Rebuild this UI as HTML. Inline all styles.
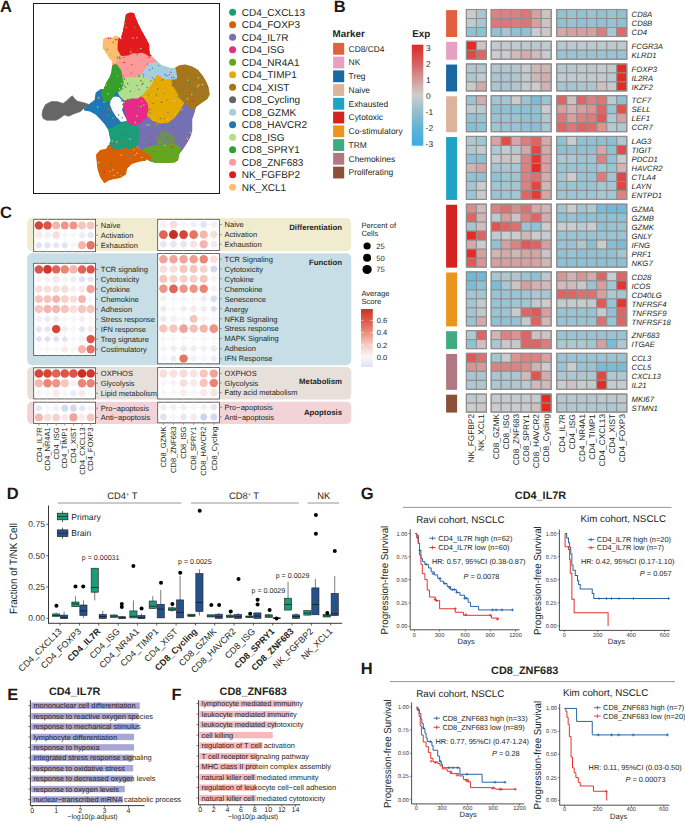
<!DOCTYPE html><html><head><meta charset="utf-8"><style>html,body{margin:0;padding:0;background:#fff;width:685px;height:824px;overflow:hidden}svg{display:block}text{font-family:"Liberation Sans",sans-serif;text-rendering:geometricPrecision}</style></head><body>
<svg width="685" height="824" viewBox="0 0 685 824">
<rect width="685" height="824" fill="#fff"/>
<text x="0.00" y="12.20" font-size="16.5" font-weight="bold" fill="#231815">A</text>
<text x="333.80" y="12.30" font-size="16.5" font-weight="bold" fill="#231815">B</text>
<text x="0.00" y="218.00" font-size="16.5" font-weight="bold" fill="#231815">C</text>
<text x="6.70" y="499.40" font-size="16.5" font-weight="bold" fill="#231815">D</text>
<text x="7.20" y="700.10" font-size="16.5" font-weight="bold" fill="#231815">E</text>
<text x="171.60" y="700.20" font-size="16.5" font-weight="bold" fill="#231815">F</text>
<text x="360.70" y="498.90" font-size="16.5" font-weight="bold" fill="#231815">G</text>
<text x="360.80" y="673.60" font-size="16.5" font-weight="bold" fill="#231815">H</text>
<rect x="33.5" y="3.5" width="186" height="190" fill="none" stroke="#231815" stroke-width="1"/>
<defs><clipPath id="umclip"><path d="M130,12.6 L134.1,12.9 L135.3,16.7 L138.2,23.7 L141.7,30.7 L146.4,38.9 L149.3,44.7 L149.3,49.4 L149.9,54 L155.7,59.9 L161.9,65.2 L168.9,67.5 L173.5,68.7 L179.4,65.2 L185.2,64.6 L192.2,66.4 L198.1,69.9 L202.7,75.7 L206.2,81.5 L208.6,87.4 L209.7,94.4 L207.4,99.1 L200.4,103.7 L195.7,107.2 L194.6,112.3 L192.2,119.3 L192.2,131 L189.9,138 L186.4,143.9 L181.7,150.9 L179.4,153.2 L178.2,160.2 L174.7,162.6 L168.9,163.1 L156,163.1 L150.2,161.4 L146.7,159 L145.7,160.5 L138.7,161.7 L131.7,164.1 L127,168.7 L125.9,174.6 L120,178.1 L113,179.2 L108.4,180.4 L104.3,183.3 L100.2,176.9 L97.8,169.9 L96.7,161.7 L96.1,154.7 L100.2,150 L106,148.9 L110.7,140.7 L109.5,136 L108.4,130.2 L105.1,124.4 L100.4,119.7 L95.7,115 L89.9,111.5 L84.1,110.4 L84.1,108 L89.9,103.4 L94.6,99.9 L95.7,92.8 L100.4,89.3 L103.7,88.9 L106,83 L109.5,77.2 L111.3,72.5 L112.5,61 L109.6,58.7 L106.7,54.1 L103.8,49.4 L102.6,44.7 L103.2,38.9 L106.7,37.1 L112.5,37.7 L115.4,35.4 L118.4,37.1 L121.9,40 L121.3,36.5 L123,30.7 L124.2,23.7 L125.4,16.7 L125.9,14.3 Z"/></clipPath></defs>
<g clip-path="url(#umclip)">
<path d="M134,126 L140,124 L147,118 L149,113 L156,115.4 L164,115.4 L170,114.2 L177,109.6 L182,102.6 L184,96.7 L191,106 L195.7,107.2 L194.6,112.3 L192.2,119.3 L192.2,131 L189.9,138 L186.4,143.9 L181.7,150.9 L179.4,153.2 L170,151 L160,149 L150,151 L145,150 L140,146 L136.4,140 L135.2,133 Z" fill="#7570b3" stroke="#7570b3" stroke-width="5" stroke-linejoin="round"/>
<path d="M141.1,153.5 L146.9,150 L155.1,147.7 L165,147.7 L172,146 L178,148 L179.4,153.2 L178.2,160.2 L174.7,162.6 L168.9,163.1 L156,163.1 L150.2,161.4 L146.7,159 L141,157 Z" fill="#66a61e" stroke="#66a61e" stroke-width="5" stroke-linejoin="round"/>
<path d="M163,131 L168,133 L174,138 L175,145 L168,148 L160,146 L156,140 Z" fill="#66a61e" stroke="#66a61e" stroke-width="2" stroke-linejoin="round" opacity="0.55"/>
<path d="M96.1,154.7 L100.2,150 L106,148.9 L113,145.4 L120,146.5 L127,145.4 L134.1,147.7 L139.9,152.4 L145.7,155.9 L149.2,158.2 L145.7,160.5 L138.7,161.7 L131.7,164.1 L127,168.7 L125.9,174.6 L120,178.1 L113,179.2 L108.4,180.4 L104.3,183.3 L100.2,176.9 L97.8,169.9 L96.7,161.7 Z" fill="#d95f02" stroke="#d95f02" stroke-width="5" stroke-linejoin="round"/>
<path d="M106,121 L112,118.5 L118,117.5 L124,119 L129,121 L134.1,124.5 L137,131 L136.4,140 L135.2,144.2 L129.4,146.5 L123.5,145.4 L117.7,147.7 L113,145.4 L110.7,140.7 L109.5,136 L108.4,130.2 Z" fill="#1b9e77" stroke="#1b9e77" stroke-width="5" stroke-linejoin="round"/>
<path d="M96.7,91.2 L101.4,88.9 L104.9,90 L108.4,93.5 L111.9,93.5 L115.4,91.2 L118.9,93.5 L121.2,99.4 L123.5,104.1 L125.9,108.7 L124.7,115.7 L121.2,120.4 L115.4,122.7 L111.9,125.1 L108.4,126.2 L106,122.7 L101.4,116.9 L96.7,112.2 L92,109.9 L87.3,109.9 L84.1,110.4 L84.1,108 L89.9,103.4 L94.6,99.9 L95.7,94 Z" fill="#1f78b4" stroke="#1f78b4" stroke-width="5" stroke-linejoin="round"/>
<path d="M110.7,98.2 L115,96.5 L118.9,97 L122.4,101 L124,104.1 L122,109.9 L124.5,115.7 L128.2,120.4 L121,122 L116,116.5 L112.5,111 L110,105 Z" fill="#ffffff" stroke="#ffffff" stroke-width="0" stroke-linejoin="round"/>
<path d="M154.9,72.2 L160.7,73.4 L165.4,76.9 L173.5,78 L175.9,83.9 L180.5,88.5 L184,96.7 L181.7,102.6 L177,110.5 L173,116 L167,120.5 L160,121 L153,118 L148,113.1 L144.3,106.1 L142,99.1 L140.8,94.4 L145.5,88.5 L151.4,82.7 L153.7,76.9 Z" fill="#e6ab02" stroke="#e6ab02" stroke-width="5" stroke-linejoin="round"/>
<path d="M173.5,68.7 L179.4,65.2 L185.2,64.6 L192.2,66.4 L198.1,69.9 L202.7,75.7 L206.2,81.5 L208.6,87.4 L209.7,94.4 L207.4,99.1 L200.4,103.7 L195.7,107.2 L191.1,106.1 L186.4,101.4 L181.7,96.7 L178.2,89.7 L174.7,83.9 L173.5,76.9 Z" fill="#a6761d" stroke="#a6761d" stroke-width="5" stroke-linejoin="round"/>
<path d="M126,99 L131,96 L137,97.5 L142,100 L145,104 L146,110 L144,116 L140,121 L134,123 L129.5,121 L127.5,115 L126.5,108 L125.5,104 Z" fill="#e7298a" stroke="#e7298a" stroke-width="5" stroke-linejoin="round"/>
<path d="M139.7,64 L146.7,61.7 L154.9,62.8 L161.9,65.2 L168.9,67.5 L173.5,69.9 L174.7,76.9 L165.4,76.9 L160.7,73.4 L154.9,72.2 L152.5,78 L149,81.5 L144.3,80.4 L139.7,73.4 Z" fill="#a6cee3" stroke="#a6cee3" stroke-width="5" stroke-linejoin="round"/>
<path d="M117,77 L127,73.5 L134.1,74.3 L141.1,78.4 L146,81 L150,82.5 L146,87 L142,92 L137,96 L131,96 L125,98 L121.2,94 L119.5,88 L118.5,82 Z" fill="#b2df8a" stroke="#b2df8a" stroke-width="5" stroke-linejoin="round"/>
<path d="M113,55 L120.1,54 L127.7,52.9 L133.5,50.5 L139.4,51.1 L144,51.1 L151.1,56.4 L155.7,59.9 L148,61 L143.4,66.7 L139.9,72.5 L134.1,74.9 L127,74.9 L122.4,76 L117.7,78.4 L115.4,72.5 L114.2,66.7 L112.5,61 Z" fill="#fb9a99" stroke="#fb9a99" stroke-width="5" stroke-linejoin="round"/>
<path d="M111.9,69 L115.4,66.7 L118.9,71.4 L120,78.4 L121.2,83 L118.9,88.9 L115.4,90 L111.9,93.5 L109.5,98.2 L106,99.4 L103.7,94.7 L103.7,88.9 L106,83 L109.5,77.2 L111.3,72.5 Z" fill="#33a02c" stroke="#33a02c" stroke-width="5" stroke-linejoin="round"/>
<path d="M103.2,38.9 L106.7,37.1 L112.5,37.7 L115.4,35.4 L118.4,37.1 L121.9,40 L121.3,45.9 L120.1,51.7 L118.4,56.4 L115.4,59.9 L112.5,61.1 L109.6,58.7 L106.7,54.1 L103.8,49.4 L102.6,44.7 Z" fill="#fdbf6f" stroke="#fdbf6f" stroke-width="5" stroke-linejoin="round"/>
<path d="M125.9,14.3 L130,12.6 L134.1,12.9 L135.3,16.7 L138.2,23.7 L141.7,30.7 L146.4,38.9 L149.3,44.7 L149.3,49.4 L149.9,54 L146.4,51.7 L141.7,50 L137,51.1 L132.4,50.5 L127.7,52.9 L122.4,53.5 L120.1,49.4 L120.1,44.7 L121.3,36.5 L123,30.7 L124.2,23.7 L125.4,16.7 Z" fill="#e31a1c" stroke="#e31a1c" stroke-width="5" stroke-linejoin="round"/>
<circle cx="132.9" cy="37.9" r="0.75" fill="#b2df8a"/>
<circle cx="101.5" cy="153.3" r="0.75" fill="#66a61e"/>
<circle cx="106.3" cy="85.0" r="0.75" fill="#fdbf6f"/>
<circle cx="167.9" cy="112.3" r="0.75" fill="#7570b3"/>
<circle cx="161.8" cy="80.2" r="0.75" fill="#d95f02"/>
<circle cx="101.3" cy="159.7" r="0.75" fill="#1b9e77"/>
<circle cx="143.8" cy="105.0" r="0.75" fill="#a6cee3"/>
<circle cx="131.2" cy="152.4" r="0.75" fill="#66a61e"/>
<circle cx="107.7" cy="110.2" r="0.75" fill="#d95f02"/>
<circle cx="138.5" cy="106.2" r="0.75" fill="#66a61e"/>
<circle cx="160.3" cy="118.5" r="0.75" fill="#a6761d"/>
<circle cx="173.6" cy="85.5" r="0.75" fill="#1f78b4"/>
<circle cx="137.2" cy="54.7" r="0.75" fill="#66a61e"/>
<circle cx="161.5" cy="102.3" r="0.75" fill="#e31a1c"/>
<circle cx="135.2" cy="89.2" r="0.75" fill="#a6cee3"/>
<circle cx="143.7" cy="142.2" r="0.75" fill="#66a61e"/>
<circle cx="202.4" cy="84.5" r="0.75" fill="#b2df8a"/>
<circle cx="104.8" cy="108.0" r="0.75" fill="#33a02c"/>
<circle cx="175.3" cy="114.2" r="0.75" fill="#a6cee3"/>
<circle cx="179.4" cy="65.3" r="0.75" fill="#a6cee3"/>
<circle cx="128.4" cy="78.4" r="0.75" fill="#b2df8a"/>
<circle cx="136.5" cy="117.1" r="0.75" fill="#a6761d"/>
<circle cx="110.7" cy="54.6" r="0.75" fill="#e6ab02"/>
<circle cx="200.5" cy="97.4" r="0.75" fill="#66a61e"/>
<circle cx="147.2" cy="106.5" r="0.75" fill="#e31a1c"/>
<circle cx="111.6" cy="86.0" r="0.75" fill="#e7298a"/>
<circle cx="127.7" cy="83.4" r="0.75" fill="#1f78b4"/>
<circle cx="173.8" cy="77.4" r="0.75" fill="#d95f02"/>
<circle cx="113.2" cy="42.3" r="0.75" fill="#d95f02"/>
<circle cx="128.1" cy="37.1" r="0.75" fill="#e7298a"/>
<circle cx="138.1" cy="109.4" r="0.75" fill="#66a61e"/>
<circle cx="174.7" cy="100.7" r="0.75" fill="#a6cee3"/>
<circle cx="170.7" cy="139.2" r="0.75" fill="#a6761d"/>
<circle cx="140.7" cy="80.6" r="0.75" fill="#66a61e"/>
<circle cx="150.9" cy="80.9" r="0.75" fill="#d95f02"/>
<circle cx="103.7" cy="47.9" r="0.75" fill="#66a61e"/>
<circle cx="108.5" cy="115.3" r="0.75" fill="#66a61e"/>
<circle cx="98.9" cy="162.4" r="0.75" fill="#a6cee3"/>
<circle cx="138.9" cy="121.1" r="0.75" fill="#1f78b4"/>
<circle cx="164.7" cy="93.6" r="0.75" fill="#66a61e"/>
<circle cx="149.1" cy="95.2" r="0.75" fill="#66a61e"/>
<circle cx="112.4" cy="140.9" r="0.75" fill="#fb9a99"/>
<circle cx="126.2" cy="154.6" r="0.75" fill="#66a61e"/>
<circle cx="192.4" cy="101.2" r="0.75" fill="#e31a1c"/>
<circle cx="115.0" cy="144.8" r="0.75" fill="#e7298a"/>
<circle cx="157.7" cy="98.5" r="0.75" fill="#b2df8a"/>
<circle cx="121.4" cy="151.6" r="0.75" fill="#33a02c"/>
<circle cx="121.8" cy="101.0" r="0.75" fill="#1f78b4"/>
<circle cx="186.1" cy="93.2" r="0.75" fill="#d95f02"/>
<circle cx="137.6" cy="49.9" r="0.75" fill="#d95f02"/>
<circle cx="149.6" cy="70.1" r="0.75" fill="#a6761d"/>
<circle cx="191.8" cy="94.5" r="0.75" fill="#b2df8a"/>
<circle cx="135.2" cy="122.6" r="0.75" fill="#fdbf6f"/>
<circle cx="185.2" cy="141.0" r="0.75" fill="#a6761d"/>
<circle cx="197.3" cy="86.6" r="0.75" fill="#b2df8a"/>
<circle cx="133.9" cy="149.7" r="0.75" fill="#fb9a99"/>
<circle cx="141.1" cy="81.0" r="0.75" fill="#66a61e"/>
<circle cx="110.5" cy="38.0" r="0.75" fill="#e31a1c"/>
<circle cx="149.1" cy="124.8" r="0.75" fill="#a6cee3"/>
<circle cx="170.9" cy="72.3" r="0.75" fill="#e7298a"/>
<circle cx="187.1" cy="136.9" r="0.75" fill="#66a61e"/>
<circle cx="124.7" cy="62.4" r="0.75" fill="#d95f02"/>
<circle cx="183.1" cy="68.1" r="0.75" fill="#e7298a"/>
<circle cx="143.8" cy="34.5" r="0.75" fill="#e31a1c"/>
<circle cx="171.5" cy="152.2" r="0.75" fill="#e7298a"/>
<circle cx="153.2" cy="103.5" r="0.75" fill="#e7298a"/>
<circle cx="154.2" cy="162.1" r="0.75" fill="#33a02c"/>
<circle cx="150.0" cy="136.7" r="0.75" fill="#e7298a"/>
<circle cx="156.5" cy="95.0" r="0.75" fill="#33a02c"/>
<circle cx="108.1" cy="108.4" r="0.75" fill="#d95f02"/>
<circle cx="107.1" cy="89.8" r="0.75" fill="#7570b3"/>
<circle cx="146.5" cy="117.4" r="0.75" fill="#e7298a"/>
<circle cx="127.6" cy="99.4" r="0.75" fill="#33a02c"/>
<circle cx="109.9" cy="88.0" r="0.75" fill="#66a61e"/>
<circle cx="172.5" cy="85.7" r="0.75" fill="#d95f02"/>
<circle cx="172.3" cy="146.8" r="0.75" fill="#e31a1c"/>
<circle cx="169.4" cy="75.0" r="0.75" fill="#1b9e77"/>
<circle cx="121.0" cy="175.8" r="0.75" fill="#e6ab02"/>
<circle cx="142.0" cy="84.5" r="0.75" fill="#1f78b4"/>
<circle cx="132.3" cy="136.2" r="0.75" fill="#7570b3"/>
<circle cx="134.5" cy="90.9" r="0.75" fill="#fb9a99"/>
<circle cx="167.1" cy="100.1" r="0.75" fill="#66a61e"/>
<circle cx="108.9" cy="170.0" r="0.75" fill="#d95f02"/>
<circle cx="126.3" cy="18.8" r="0.75" fill="#33a02c"/>
<circle cx="116.7" cy="142.0" r="0.75" fill="#fdbf6f"/>
<circle cx="113.0" cy="170.1" r="0.75" fill="#a6cee3"/>
<circle cx="152.4" cy="68.3" r="0.75" fill="#1b9e77"/>
<circle cx="194.4" cy="90.0" r="0.75" fill="#1f78b4"/>
<circle cx="125.9" cy="43.2" r="0.75" fill="#e31a1c"/>
<circle cx="131.6" cy="64.5" r="0.75" fill="#33a02c"/>
<circle cx="119.5" cy="88.7" r="0.75" fill="#b2df8a"/>
<circle cx="116.3" cy="71.7" r="0.75" fill="#7570b3"/>
<circle cx="98.1" cy="99.0" r="0.75" fill="#d95f02"/>
<circle cx="147.0" cy="125.2" r="0.75" fill="#b2df8a"/>
<circle cx="145.3" cy="97.1" r="0.75" fill="#fdbf6f"/>
<circle cx="131.1" cy="49.0" r="0.75" fill="#d95f02"/>
<circle cx="135.1" cy="155.2" r="0.75" fill="#fb9a99"/>
<circle cx="171.8" cy="77.5" r="0.75" fill="#e7298a"/>
<circle cx="123.6" cy="62.4" r="0.75" fill="#a6761d"/>
<circle cx="117.1" cy="58.3" r="0.75" fill="#7570b3"/>
<circle cx="131.3" cy="73.3" r="0.75" fill="#7570b3"/>
<circle cx="134.2" cy="26.4" r="0.75" fill="#1b9e77"/>
<circle cx="126.1" cy="27.4" r="0.75" fill="#e6ab02"/>
<circle cx="162.9" cy="79.8" r="0.75" fill="#1b9e77"/>
<circle cx="130.7" cy="52.0" r="0.75" fill="#a6cee3"/>
<circle cx="113.7" cy="165.6" r="0.75" fill="#33a02c"/>
<circle cx="196.2" cy="79.0" r="0.75" fill="#1f78b4"/>
<circle cx="178.2" cy="97.0" r="0.75" fill="#1b9e77"/>
<circle cx="178.6" cy="122.6" r="0.75" fill="#7570b3"/>
<circle cx="190.0" cy="135.0" r="0.75" fill="#e7298a"/>
<circle cx="167.5" cy="138.2" r="0.75" fill="#33a02c"/>
<circle cx="181.8" cy="109.8" r="0.75" fill="#fdbf6f"/>
<circle cx="173.9" cy="131.3" r="0.75" fill="#d95f02"/>
<circle cx="138.9" cy="89.6" r="0.75" fill="#7570b3"/>
<circle cx="167.6" cy="119.7" r="0.75" fill="#b2df8a"/>
<circle cx="123.9" cy="57.4" r="0.75" fill="#a6761d"/>
<circle cx="186.9" cy="140.7" r="0.75" fill="#e7298a"/>
<circle cx="156.0" cy="140.3" r="0.75" fill="#a6761d"/>
<circle cx="124.8" cy="24.8" r="0.75" fill="#1b9e77"/>
<circle cx="122.8" cy="142.1" r="0.75" fill="#d95f02"/>
<circle cx="152.3" cy="77.8" r="0.75" fill="#a6761d"/>
<circle cx="118.6" cy="115.1" r="0.75" fill="#1f78b4"/>
<circle cx="124.9" cy="139.8" r="0.75" fill="#1b9e77"/>
<circle cx="151.0" cy="95.6" r="0.75" fill="#b2df8a"/>
<circle cx="107.3" cy="49.4" r="0.75" fill="#a6761d"/>
<circle cx="129.2" cy="100.8" r="0.75" fill="#a6761d"/>
<circle cx="149.1" cy="144.0" r="0.75" fill="#e31a1c"/>
<circle cx="158.6" cy="65.6" r="0.75" fill="#66a61e"/>
<circle cx="148.3" cy="153.0" r="0.75" fill="#a6761d"/>
<circle cx="137.0" cy="115.8" r="0.75" fill="#b2df8a"/>
<circle cx="198.3" cy="95.6" r="0.75" fill="#7570b3"/>
<circle cx="114.1" cy="175.4" r="0.75" fill="#b2df8a"/>
<circle cx="147.4" cy="63.9" r="0.75" fill="#66a61e"/>
<circle cx="143.4" cy="76.7" r="0.75" fill="#66a61e"/>
<circle cx="109.7" cy="171.3" r="0.75" fill="#fb9a99"/>
<circle cx="124.9" cy="23.2" r="0.75" fill="#e6ab02"/>
<circle cx="137.1" cy="85.6" r="0.75" fill="#1b9e77"/>
<circle cx="206.7" cy="87.0" r="0.75" fill="#1f78b4"/>
<circle cx="117.6" cy="76.2" r="0.75" fill="#e6ab02"/>
<circle cx="179.5" cy="89.5" r="0.75" fill="#33a02c"/>
<circle cx="111.8" cy="161.6" r="0.75" fill="#a6761d"/>
<circle cx="101.6" cy="171.4" r="0.75" fill="#66a61e"/>
<circle cx="115.5" cy="83.4" r="0.75" fill="#1b9e77"/>
<circle cx="129.9" cy="139.1" r="0.75" fill="#b2df8a"/>
<circle cx="125.7" cy="124.8" r="0.75" fill="#1b9e77"/>
<circle cx="151.1" cy="127.0" r="0.75" fill="#66a61e"/>
<circle cx="115.1" cy="39.8" r="0.75" fill="#d95f02"/>
<circle cx="153.1" cy="151.6" r="0.75" fill="#e7298a"/>
<circle cx="121.1" cy="167.9" r="0.75" fill="#33a02c"/>
<circle cx="135.0" cy="27.7" r="0.75" fill="#d95f02"/>
<circle cx="138.0" cy="151.2" r="0.75" fill="#d95f02"/>
<circle cx="143.1" cy="83.2" r="0.75" fill="#e7298a"/>
<circle cx="119.9" cy="58.5" r="0.75" fill="#33a02c"/>
<circle cx="153.4" cy="120.3" r="0.75" fill="#fdbf6f"/>
<circle cx="198.2" cy="78.1" r="0.75" fill="#b2df8a"/>
<circle cx="150.0" cy="113.0" r="0.75" fill="#7570b3"/>
<circle cx="104.3" cy="172.0" r="0.75" fill="#e31a1c"/>
<circle cx="108.4" cy="38.6" r="0.75" fill="#e7298a"/>
<circle cx="190.1" cy="132.6" r="0.75" fill="#fdbf6f"/>
<circle cx="183.2" cy="90.7" r="0.75" fill="#e7298a"/>
<circle cx="110.3" cy="109.9" r="0.75" fill="#7570b3"/>
<circle cx="110.6" cy="55.3" r="0.75" fill="#b2df8a"/>
<circle cx="145.9" cy="143.4" r="0.75" fill="#66a61e"/>
<circle cx="104.0" cy="102.2" r="0.75" fill="#a6cee3"/>
<circle cx="117.9" cy="56.9" r="0.75" fill="#33a02c"/>
<circle cx="130.4" cy="91.2" r="0.75" fill="#1f78b4"/>
<circle cx="98.5" cy="97.7" r="0.75" fill="#b2df8a"/>
<circle cx="122.0" cy="85.0" r="0.75" fill="#1f78b4"/>
<circle cx="134.5" cy="84.3" r="0.75" fill="#b2df8a"/>
<circle cx="129.3" cy="157.4" r="0.75" fill="#66a61e"/>
<circle cx="131.5" cy="153.0" r="0.75" fill="#d95f02"/>
<circle cx="149.0" cy="57.6" r="0.75" fill="#e31a1c"/>
<circle cx="121.5" cy="83.7" r="0.75" fill="#b2df8a"/>
<circle cx="102.4" cy="114.3" r="0.75" fill="#e31a1c"/>
<circle cx="140.9" cy="48.6" r="0.75" fill="#a6cee3"/>
<circle cx="117.1" cy="173.0" r="0.75" fill="#fb9a99"/>
<circle cx="149.3" cy="65.6" r="0.75" fill="#fb9a99"/>
<circle cx="139.2" cy="76.3" r="0.75" fill="#1f78b4"/>
<circle cx="160.0" cy="142.5" r="0.75" fill="#e6ab02"/>
<circle cx="136.7" cy="153.3" r="0.75" fill="#fdbf6f"/>
<circle cx="157.7" cy="88.8" r="0.75" fill="#1f78b4"/>
<circle cx="103.1" cy="170.3" r="0.75" fill="#1b9e77"/>
<circle cx="165.0" cy="74.4" r="0.75" fill="#1f78b4"/>
<circle cx="125.9" cy="135.3" r="0.75" fill="#1f78b4"/>
<circle cx="178.3" cy="114.4" r="0.75" fill="#33a02c"/>
<circle cx="124.6" cy="85.9" r="0.75" fill="#a6761d"/>
<circle cx="111.1" cy="97.4" r="0.75" fill="#7570b3"/>
<circle cx="187.5" cy="139.0" r="0.75" fill="#fdbf6f"/>
<circle cx="122.9" cy="160.1" r="0.75" fill="#a6761d"/>
<circle cx="137.3" cy="146.5" r="0.75" fill="#66a61e"/>
<circle cx="154.4" cy="79.4" r="0.75" fill="#66a61e"/>
<circle cx="99.9" cy="107.0" r="0.75" fill="#1f78b4"/>
<circle cx="114.3" cy="85.4" r="0.75" fill="#66a61e"/>
<circle cx="152.8" cy="134.1" r="0.75" fill="#a6761d"/>
<circle cx="122.8" cy="104.6" r="0.75" fill="#33a02c"/>
<circle cx="160.6" cy="76.2" r="0.75" fill="#fb9a99"/>
<circle cx="125.7" cy="87.6" r="0.75" fill="#66a61e"/>
<circle cx="124.0" cy="38.4" r="0.75" fill="#e31a1c"/>
<circle cx="124.0" cy="102.5" r="0.75" fill="#b2df8a"/>
<circle cx="188.2" cy="124.4" r="0.75" fill="#7570b3"/>
<circle cx="107.7" cy="93.7" r="0.75" fill="#fdbf6f"/>
<circle cx="122.3" cy="89.1" r="0.75" fill="#1f78b4"/>
<circle cx="109.6" cy="44.6" r="0.75" fill="#fdbf6f"/>
<circle cx="138.4" cy="161.0" r="0.75" fill="#a6761d"/>
<circle cx="164.7" cy="145.3" r="0.75" fill="#b2df8a"/>
<circle cx="164.0" cy="118.6" r="0.75" fill="#d95f02"/>
<circle cx="189.3" cy="82.3" r="0.75" fill="#1f78b4"/>
<circle cx="117.1" cy="65.7" r="0.75" fill="#d95f02"/>
<circle cx="99.6" cy="97.2" r="0.75" fill="#a6761d"/>
<circle cx="141.1" cy="106.6" r="0.75" fill="#b2df8a"/>
<circle cx="156.9" cy="124.3" r="0.75" fill="#e6ab02"/>
<circle cx="175.3" cy="82.5" r="0.75" fill="#1b9e77"/>
<circle cx="172.1" cy="83.9" r="0.75" fill="#7570b3"/>
<circle cx="131.6" cy="109.4" r="0.75" fill="#1f78b4"/>
<circle cx="169.5" cy="79.2" r="0.75" fill="#e6ab02"/>
<circle cx="198.8" cy="84.9" r="0.75" fill="#fdbf6f"/>
<circle cx="106.3" cy="111.4" r="0.75" fill="#1f78b4"/>
<circle cx="97.7" cy="106.9" r="0.75" fill="#b2df8a"/>
<circle cx="187.9" cy="80.2" r="0.75" fill="#a6cee3"/>
<circle cx="166.9" cy="75.8" r="0.75" fill="#e7298a"/>
<circle cx="115.6" cy="71.8" r="0.75" fill="#66a61e"/>
<circle cx="108.4" cy="96.4" r="0.75" fill="#33a02c"/>
<circle cx="130.4" cy="156.0" r="0.75" fill="#7570b3"/>
<circle cx="207.2" cy="95.0" r="0.75" fill="#7570b3"/>
<circle cx="165.3" cy="121.5" r="0.75" fill="#66a61e"/>
<circle cx="142.1" cy="157.6" r="0.75" fill="#fdbf6f"/>
<circle cx="149.9" cy="109.3" r="0.75" fill="#7570b3"/>
<circle cx="141.6" cy="101.1" r="0.75" fill="#e6ab02"/>
<circle cx="136.9" cy="37.7" r="0.75" fill="#fb9a99"/>
<circle cx="172.6" cy="126.9" r="0.75" fill="#1f78b4"/>
<circle cx="109.4" cy="115.1" r="0.75" fill="#e7298a"/>
<circle cx="124.4" cy="78.9" r="0.75" fill="#1f78b4"/>
<circle cx="146.9" cy="87.4" r="0.75" fill="#7570b3"/>
<circle cx="149.0" cy="88.9" r="0.75" fill="#a6cee3"/>
<circle cx="184.9" cy="90.8" r="0.75" fill="#66a61e"/>
<circle cx="188.4" cy="80.9" r="0.75" fill="#66a61e"/>
<circle cx="110.6" cy="86.1" r="0.75" fill="#66a61e"/>
<circle cx="187.5" cy="98.7" r="0.75" fill="#b2df8a"/>
<circle cx="184.7" cy="100.0" r="0.75" fill="#7570b3"/>
<circle cx="170.4" cy="146.9" r="0.75" fill="#7570b3"/>
<circle cx="179.5" cy="152.2" r="0.75" fill="#d95f02"/>
<circle cx="111.0" cy="164.3" r="0.75" fill="#1b9e77"/>
<circle cx="114.8" cy="147.6" r="0.75" fill="#e31a1c"/>
<circle cx="121.2" cy="155.3" r="0.75" fill="#a6cee3"/>
<circle cx="119.7" cy="57.2" r="0.75" fill="#e7298a"/>
<circle cx="123.1" cy="76.0" r="0.75" fill="#d95f02"/>
<circle cx="116.8" cy="39.7" r="0.75" fill="#e31a1c"/>
<circle cx="127.7" cy="68.4" r="0.75" fill="#e6ab02"/>
<circle cx="115.2" cy="147.0" r="0.75" fill="#66a61e"/>
<circle cx="147.6" cy="101.7" r="0.75" fill="#fb9a99"/>
<circle cx="140.9" cy="149.2" r="0.75" fill="#1b9e77"/>
<circle cx="138.8" cy="75.5" r="0.75" fill="#66a61e"/>
<circle cx="137.1" cy="143.5" r="0.75" fill="#a6761d"/>
<circle cx="122.2" cy="117.8" r="0.75" fill="#7570b3"/>
<circle cx="129.8" cy="100.8" r="0.75" fill="#1b9e77"/>
<circle cx="162.8" cy="126.2" r="0.75" fill="#1f78b4"/>
<circle cx="179.6" cy="140.5" r="0.75" fill="#d95f02"/>
<circle cx="113.0" cy="118.0" r="0.75" fill="#e6ab02"/>
<circle cx="143.6" cy="74.6" r="0.75" fill="#7570b3"/>
<circle cx="111.1" cy="51.1" r="0.75" fill="#b2df8a"/>
</g>
<path d="M42.6,110.4 L45.5,104.5 L51.4,101.6 L57.2,101.6 L63,103.4 L66.5,101 L70,97.5 L72.4,95.8 L74.7,98.7 L77,101 L81.7,102.2 L86.4,103.4 L88.7,104.5 L84.1,108 L80.5,111.5 L73.5,113.9 L68.9,116.2 L64.2,115 L59.5,118.5 L56,120.3 L51.4,120.3 L46.7,120.3 L43.2,118.5 L42,115 Z" fill="#666666" stroke="#666666" stroke-width="0.6" stroke-linejoin="round"/>
<circle cx="232.6" cy="12.30" r="3.5" fill="#1b9e77"/>
<text x="241.70" y="15.80" font-size="10.0" fill="#231f20">CD4_CXCL13</text>
<circle cx="232.6" cy="24.80" r="3.5" fill="#d95f02"/>
<text x="241.70" y="28.30" font-size="10.0" fill="#231f20">CD4_FOXP3</text>
<circle cx="232.6" cy="37.30" r="3.5" fill="#7570b3"/>
<text x="241.70" y="40.80" font-size="10.0" fill="#231f20">CD4_IL7R</text>
<circle cx="232.6" cy="49.80" r="3.5" fill="#e7298a"/>
<text x="241.70" y="53.30" font-size="10.0" fill="#231f20">CD4_ISG</text>
<circle cx="232.6" cy="62.30" r="3.5" fill="#66a61e"/>
<text x="241.70" y="65.80" font-size="10.0" fill="#231f20">CD4_NR4A1</text>
<circle cx="232.6" cy="74.80" r="3.5" fill="#e6ab02"/>
<text x="241.70" y="78.30" font-size="10.0" fill="#231f20">CD4_TIMP1</text>
<circle cx="232.6" cy="87.30" r="3.5" fill="#a6761d"/>
<text x="241.70" y="90.80" font-size="10.0" fill="#231f20">CD4_XIST</text>
<circle cx="232.6" cy="99.80" r="3.5" fill="#666666"/>
<text x="241.70" y="103.30" font-size="10.0" fill="#231f20">CD8_Cycling</text>
<circle cx="232.6" cy="112.30" r="3.5" fill="#a6cee3"/>
<text x="241.70" y="115.80" font-size="10.0" fill="#231f20">CD8_GZMK</text>
<circle cx="232.6" cy="124.80" r="3.5" fill="#1f78b4"/>
<text x="241.70" y="128.30" font-size="10.0" fill="#231f20">CD8_HAVCR2</text>
<circle cx="232.6" cy="137.30" r="3.5" fill="#b2df8a"/>
<text x="241.70" y="140.80" font-size="10.0" fill="#231f20">CD8_ISG</text>
<circle cx="232.6" cy="149.80" r="3.5" fill="#33a02c"/>
<text x="241.70" y="153.30" font-size="10.0" fill="#231f20">CD8_SPRY1</text>
<circle cx="232.6" cy="162.30" r="3.5" fill="#fb9a99"/>
<text x="241.70" y="165.80" font-size="10.0" fill="#231f20">CD8_ZNF683</text>
<circle cx="232.6" cy="174.80" r="3.5" fill="#e31a1c"/>
<text x="241.70" y="178.30" font-size="10.0" fill="#231f20">NK_FGFBP2</text>
<circle cx="232.6" cy="187.30" r="3.5" fill="#fdbf6f"/>
<text x="241.70" y="190.80" font-size="10.0" fill="#231f20">NK_XCL1</text>
<text x="332.60" y="37.30" font-size="9.8" font-weight="bold" fill="#231f20">Marker</text>
<rect x="333.1" y="42.90" width="11.1" height="11.8" fill="#e0603f"/>
<text x="348.60" y="51.60" font-size="8.4" fill="#231f20">CD8/CD4</text>
<rect x="333.1" y="56.65" width="11.1" height="11.8" fill="#e8a0c2"/>
<text x="348.60" y="65.35" font-size="8.4" fill="#231f20">NK</text>
<rect x="333.1" y="70.40" width="11.1" height="11.8" fill="#1a68a2"/>
<text x="348.60" y="79.10" font-size="8.4" fill="#231f20">Treg</text>
<rect x="333.1" y="84.15" width="11.1" height="11.8" fill="#dcb49c"/>
<text x="348.60" y="92.85" font-size="8.4" fill="#231f20">Naive</text>
<rect x="333.1" y="97.90" width="11.1" height="11.8" fill="#20a2c8"/>
<text x="348.60" y="106.60" font-size="8.4" fill="#231f20">Exhausted</text>
<rect x="333.1" y="111.65" width="11.1" height="11.8" fill="#d42220"/>
<text x="348.60" y="120.35" font-size="8.4" fill="#231f20">Cytotoxic</text>
<rect x="333.1" y="125.40" width="11.1" height="11.8" fill="#e8961e"/>
<text x="348.60" y="134.10" font-size="8.4" fill="#231f20">Co-stimulatory</text>
<rect x="333.1" y="139.15" width="11.1" height="11.8" fill="#40aa80"/>
<text x="348.60" y="147.85" font-size="8.4" fill="#231f20">TRM</text>
<rect x="333.1" y="152.90" width="11.1" height="11.8" fill="#b07882"/>
<text x="348.60" y="161.60" font-size="8.4" fill="#231f20">Chemokines</text>
<rect x="333.1" y="166.65" width="11.1" height="11.8" fill="#8a5038"/>
<text x="348.60" y="175.35" font-size="8.4" fill="#231f20">Proliferating</text>
<text x="412.30" y="37.40" font-size="9.8" font-weight="bold" fill="#231f20">Exp</text>
<defs><linearGradient id="expg" x1="0" y1="0" x2="0" y2="1"><stop offset="0" stop-color="#dc2c28"/><stop offset="0.1667" stop-color="#d85a58"/><stop offset="0.3333" stop-color="#d49696"/><stop offset="0.5" stop-color="#cfcdcd"/><stop offset="0.6667" stop-color="#94bece"/><stop offset="0.8333" stop-color="#5cb2d8"/><stop offset="1" stop-color="#3aaee0"/></linearGradient></defs>
<rect x="411.8" y="44.7" width="11.5" height="101" fill="url(#expg)"/>
<text x="426.00" y="51.20" font-size="8.4" fill="#231f20">3</text>
<text x="426.00" y="67.20" font-size="8.4" fill="#231f20">2</text>
<text x="426.00" y="83.20" font-size="8.4" fill="#231f20">1</text>
<text x="426.00" y="99.20" font-size="8.4" fill="#231f20">0</text>
<text x="425.60" y="115.20" font-size="8.4" fill="#231f20">-1</text>
<text x="425.60" y="131.20" font-size="8.4" fill="#231f20">-2</text>
<text x="425.60" y="147.20" font-size="8.4" fill="#231f20">-3</text>
<rect x="446.1" y="10.10" width="11" height="26.90" fill="#e0603f"/>
<rect x="466.40" y="9.50" width="10.00" height="9.00" fill="#cbcccd" stroke="#8e8e8e" stroke-width="1.0"/>
<rect x="476.40" y="9.50" width="10.00" height="9.00" fill="#a9c6d1" stroke="#8e8e8e" stroke-width="1.0"/>
<rect x="491.20" y="9.50" width="10.00" height="9.00" fill="#db8282" stroke="#8e8e8e" stroke-width="1.0"/>
<rect x="501.20" y="9.50" width="10.00" height="9.00" fill="#db8282" stroke="#8e8e8e" stroke-width="1.0"/>
<rect x="511.20" y="9.50" width="10.00" height="9.00" fill="#db8282" stroke="#8e8e8e" stroke-width="1.0"/>
<rect x="521.20" y="9.50" width="10.00" height="9.00" fill="#dd7676" stroke="#8e8e8e" stroke-width="1.0"/>
<rect x="531.20" y="9.50" width="10.00" height="9.00" fill="#d7a0a0" stroke="#8e8e8e" stroke-width="1.0"/>
<rect x="541.20" y="9.50" width="10.00" height="9.00" fill="#cdc3c4" stroke="#8e8e8e" stroke-width="1.0"/>
<rect x="556.80" y="9.50" width="10.00" height="9.00" fill="#91c2d4" stroke="#8e8e8e" stroke-width="1.0"/>
<rect x="566.80" y="9.50" width="10.00" height="9.00" fill="#9ac4d3" stroke="#8e8e8e" stroke-width="1.0"/>
<rect x="576.80" y="9.50" width="10.00" height="9.00" fill="#91c2d4" stroke="#8e8e8e" stroke-width="1.0"/>
<rect x="586.80" y="9.50" width="10.00" height="9.00" fill="#9ac4d3" stroke="#8e8e8e" stroke-width="1.0"/>
<rect x="596.80" y="9.50" width="10.00" height="9.00" fill="#91c2d4" stroke="#8e8e8e" stroke-width="1.0"/>
<rect x="606.80" y="9.50" width="10.00" height="9.00" fill="#9ac4d3" stroke="#8e8e8e" stroke-width="1.0"/>
<rect x="616.80" y="9.50" width="10.00" height="9.00" fill="#91c2d4" stroke="#8e8e8e" stroke-width="1.0"/>
<text x="631.60" y="17.30" font-size="7.75" font-style="italic" fill="#231f20">CD8A</text>
<rect x="466.40" y="18.50" width="10.00" height="9.00" fill="#c1cace" stroke="#8e8e8e" stroke-width="1.0"/>
<rect x="476.40" y="18.50" width="10.00" height="9.00" fill="#a9c6d1" stroke="#8e8e8e" stroke-width="1.0"/>
<rect x="491.20" y="18.50" width="10.00" height="9.00" fill="#dd7676" stroke="#8e8e8e" stroke-width="1.0"/>
<rect x="501.20" y="18.50" width="10.00" height="9.00" fill="#dd7676" stroke="#8e8e8e" stroke-width="1.0"/>
<rect x="511.20" y="18.50" width="10.00" height="9.00" fill="#dc7c7c" stroke="#8e8e8e" stroke-width="1.0"/>
<rect x="521.20" y="18.50" width="10.00" height="9.00" fill="#dd7676" stroke="#8e8e8e" stroke-width="1.0"/>
<rect x="531.20" y="18.50" width="10.00" height="9.00" fill="#d7a0a0" stroke="#8e8e8e" stroke-width="1.0"/>
<rect x="541.20" y="18.50" width="10.00" height="9.00" fill="#cdc3c4" stroke="#8e8e8e" stroke-width="1.0"/>
<rect x="556.80" y="18.50" width="10.00" height="9.00" fill="#91c2d4" stroke="#8e8e8e" stroke-width="1.0"/>
<rect x="566.80" y="18.50" width="10.00" height="9.00" fill="#96c3d4" stroke="#8e8e8e" stroke-width="1.0"/>
<rect x="576.80" y="18.50" width="10.00" height="9.00" fill="#91c2d4" stroke="#8e8e8e" stroke-width="1.0"/>
<rect x="586.80" y="18.50" width="10.00" height="9.00" fill="#96c3d4" stroke="#8e8e8e" stroke-width="1.0"/>
<rect x="596.80" y="18.50" width="10.00" height="9.00" fill="#91c2d4" stroke="#8e8e8e" stroke-width="1.0"/>
<rect x="606.80" y="18.50" width="10.00" height="9.00" fill="#96c3d4" stroke="#8e8e8e" stroke-width="1.0"/>
<rect x="616.80" y="18.50" width="10.00" height="9.00" fill="#91c2d4" stroke="#8e8e8e" stroke-width="1.0"/>
<text x="631.60" y="26.30" font-size="7.75" font-style="italic" fill="#231f20">CD8B</text>
<rect x="466.40" y="27.50" width="10.00" height="9.00" fill="#91c2d4" stroke="#8e8e8e" stroke-width="1.0"/>
<rect x="476.40" y="27.50" width="10.00" height="9.00" fill="#8dc1d5" stroke="#8e8e8e" stroke-width="1.0"/>
<rect x="491.20" y="27.50" width="10.00" height="9.00" fill="#91c2d4" stroke="#8e8e8e" stroke-width="1.0"/>
<rect x="501.20" y="27.50" width="10.00" height="9.00" fill="#a4c6d2" stroke="#8e8e8e" stroke-width="1.0"/>
<rect x="511.20" y="27.50" width="10.00" height="9.00" fill="#91c2d4" stroke="#8e8e8e" stroke-width="1.0"/>
<rect x="521.20" y="27.50" width="10.00" height="9.00" fill="#91c2d4" stroke="#8e8e8e" stroke-width="1.0"/>
<rect x="531.20" y="27.50" width="10.00" height="9.00" fill="#cbcccd" stroke="#8e8e8e" stroke-width="1.0"/>
<rect x="541.20" y="27.50" width="10.00" height="9.00" fill="#ccc8c8" stroke="#8e8e8e" stroke-width="1.0"/>
<rect x="556.80" y="27.50" width="10.00" height="9.00" fill="#d5a9a9" stroke="#8e8e8e" stroke-width="1.0"/>
<rect x="566.80" y="27.50" width="10.00" height="9.00" fill="#d7a0a0" stroke="#8e8e8e" stroke-width="1.0"/>
<rect x="576.80" y="27.50" width="10.00" height="9.00" fill="#d7a0a0" stroke="#8e8e8e" stroke-width="1.0"/>
<rect x="586.80" y="27.50" width="10.00" height="9.00" fill="#d7a0a0" stroke="#8e8e8e" stroke-width="1.0"/>
<rect x="596.80" y="27.50" width="10.00" height="9.00" fill="#dc7c7c" stroke="#8e8e8e" stroke-width="1.0"/>
<rect x="606.80" y="27.50" width="10.00" height="9.00" fill="#a9c6d1" stroke="#8e8e8e" stroke-width="1.0"/>
<rect x="616.80" y="27.50" width="10.00" height="9.00" fill="#de6a6a" stroke="#8e8e8e" stroke-width="1.0"/>
<text x="631.60" y="35.30" font-size="7.75" font-style="italic" fill="#231f20">CD4</text>
<rect x="466.40" y="9.50" width="20.00" height="27.00" fill="none" stroke="#8e8e8e" stroke-width="1.15"/>
<rect x="491.20" y="9.50" width="60.00" height="27.00" fill="none" stroke="#8e8e8e" stroke-width="1.15"/>
<rect x="556.80" y="9.50" width="70.00" height="27.00" fill="none" stroke="#8e8e8e" stroke-width="1.15"/>
<rect x="446.1" y="41.83" width="11" height="17.90" fill="#e8a0c2"/>
<rect x="466.40" y="41.23" width="10.00" height="9.00" fill="#e72a24" stroke="#8e8e8e" stroke-width="1.0"/>
<rect x="476.40" y="41.23" width="10.00" height="9.00" fill="#cdc3c4" stroke="#8e8e8e" stroke-width="1.0"/>
<rect x="491.20" y="41.23" width="10.00" height="9.00" fill="#c1cace" stroke="#8e8e8e" stroke-width="1.0"/>
<rect x="501.20" y="41.23" width="10.00" height="9.00" fill="#c1cace" stroke="#8e8e8e" stroke-width="1.0"/>
<rect x="511.20" y="41.23" width="10.00" height="9.00" fill="#c1cace" stroke="#8e8e8e" stroke-width="1.0"/>
<rect x="521.20" y="41.23" width="10.00" height="9.00" fill="#bccacf" stroke="#8e8e8e" stroke-width="1.0"/>
<rect x="531.20" y="41.23" width="10.00" height="9.00" fill="#bccacf" stroke="#8e8e8e" stroke-width="1.0"/>
<rect x="541.20" y="41.23" width="10.00" height="9.00" fill="#c1cace" stroke="#8e8e8e" stroke-width="1.0"/>
<rect x="556.80" y="41.23" width="10.00" height="9.00" fill="#b7c9cf" stroke="#8e8e8e" stroke-width="1.0"/>
<rect x="566.80" y="41.23" width="10.00" height="9.00" fill="#bccacf" stroke="#8e8e8e" stroke-width="1.0"/>
<rect x="576.80" y="41.23" width="10.00" height="9.00" fill="#bccacf" stroke="#8e8e8e" stroke-width="1.0"/>
<rect x="586.80" y="41.23" width="10.00" height="9.00" fill="#bccacf" stroke="#8e8e8e" stroke-width="1.0"/>
<rect x="596.80" y="41.23" width="10.00" height="9.00" fill="#bccacf" stroke="#8e8e8e" stroke-width="1.0"/>
<rect x="606.80" y="41.23" width="10.00" height="9.00" fill="#bccacf" stroke="#8e8e8e" stroke-width="1.0"/>
<rect x="616.80" y="41.23" width="10.00" height="9.00" fill="#bccacf" stroke="#8e8e8e" stroke-width="1.0"/>
<text x="631.60" y="49.03" font-size="7.75" font-style="italic" fill="#231f20">FCGR3A</text>
<rect x="466.40" y="50.23" width="10.00" height="9.00" fill="#e34744" stroke="#8e8e8e" stroke-width="1.0"/>
<rect x="476.40" y="50.23" width="10.00" height="9.00" fill="#df6464" stroke="#8e8e8e" stroke-width="1.0"/>
<rect x="491.20" y="50.23" width="10.00" height="9.00" fill="#cbcccd" stroke="#8e8e8e" stroke-width="1.0"/>
<rect x="501.20" y="50.23" width="10.00" height="9.00" fill="#cbcccd" stroke="#8e8e8e" stroke-width="1.0"/>
<rect x="511.20" y="50.23" width="10.00" height="9.00" fill="#d0babb" stroke="#8e8e8e" stroke-width="1.0"/>
<rect x="521.20" y="50.23" width="10.00" height="9.00" fill="#d3adae" stroke="#8e8e8e" stroke-width="1.0"/>
<rect x="531.20" y="50.23" width="10.00" height="9.00" fill="#d0babb" stroke="#8e8e8e" stroke-width="1.0"/>
<rect x="541.20" y="50.23" width="10.00" height="9.00" fill="#c6cbce" stroke="#8e8e8e" stroke-width="1.0"/>
<rect x="556.80" y="50.23" width="10.00" height="9.00" fill="#9ac4d3" stroke="#8e8e8e" stroke-width="1.0"/>
<rect x="566.80" y="50.23" width="10.00" height="9.00" fill="#9ac4d3" stroke="#8e8e8e" stroke-width="1.0"/>
<rect x="576.80" y="50.23" width="10.00" height="9.00" fill="#9ac4d3" stroke="#8e8e8e" stroke-width="1.0"/>
<rect x="586.80" y="50.23" width="10.00" height="9.00" fill="#9ac4d3" stroke="#8e8e8e" stroke-width="1.0"/>
<rect x="596.80" y="50.23" width="10.00" height="9.00" fill="#9ac4d3" stroke="#8e8e8e" stroke-width="1.0"/>
<rect x="606.80" y="50.23" width="10.00" height="9.00" fill="#9ac4d3" stroke="#8e8e8e" stroke-width="1.0"/>
<rect x="616.80" y="50.23" width="10.00" height="9.00" fill="#9ac4d3" stroke="#8e8e8e" stroke-width="1.0"/>
<text x="631.60" y="58.03" font-size="7.75" font-style="italic" fill="#231f20">KLRD1</text>
<rect x="466.40" y="41.23" width="20.00" height="18.00" fill="none" stroke="#8e8e8e" stroke-width="1.15"/>
<rect x="491.20" y="41.23" width="60.00" height="18.00" fill="none" stroke="#8e8e8e" stroke-width="1.15"/>
<rect x="556.80" y="41.23" width="70.00" height="18.00" fill="none" stroke="#8e8e8e" stroke-width="1.15"/>
<rect x="446.1" y="64.56" width="11" height="26.90" fill="#1a68a2"/>
<rect x="466.40" y="63.96" width="10.00" height="9.00" fill="#b2c8d0" stroke="#8e8e8e" stroke-width="1.0"/>
<rect x="476.40" y="63.96" width="10.00" height="9.00" fill="#b2c8d0" stroke="#8e8e8e" stroke-width="1.0"/>
<rect x="491.20" y="63.96" width="10.00" height="9.00" fill="#b2c8d0" stroke="#8e8e8e" stroke-width="1.0"/>
<rect x="501.20" y="63.96" width="10.00" height="9.00" fill="#b2c8d0" stroke="#8e8e8e" stroke-width="1.0"/>
<rect x="511.20" y="63.96" width="10.00" height="9.00" fill="#b2c8d0" stroke="#8e8e8e" stroke-width="1.0"/>
<rect x="521.20" y="63.96" width="10.00" height="9.00" fill="#c6cbce" stroke="#8e8e8e" stroke-width="1.0"/>
<rect x="531.20" y="63.96" width="10.00" height="9.00" fill="#d1b6b6" stroke="#8e8e8e" stroke-width="1.0"/>
<rect x="541.20" y="63.96" width="10.00" height="9.00" fill="#d1b6b6" stroke="#8e8e8e" stroke-width="1.0"/>
<rect x="556.80" y="63.96" width="10.00" height="9.00" fill="#b7c9cf" stroke="#8e8e8e" stroke-width="1.0"/>
<rect x="566.80" y="63.96" width="10.00" height="9.00" fill="#b7c9cf" stroke="#8e8e8e" stroke-width="1.0"/>
<rect x="576.80" y="63.96" width="10.00" height="9.00" fill="#bccacf" stroke="#8e8e8e" stroke-width="1.0"/>
<rect x="586.80" y="63.96" width="10.00" height="9.00" fill="#bccacf" stroke="#8e8e8e" stroke-width="1.0"/>
<rect x="596.80" y="63.96" width="10.00" height="9.00" fill="#c6cbce" stroke="#8e8e8e" stroke-width="1.0"/>
<rect x="606.80" y="63.96" width="10.00" height="9.00" fill="#c1cace" stroke="#8e8e8e" stroke-width="1.0"/>
<rect x="616.80" y="63.96" width="10.00" height="9.00" fill="#e72a24" stroke="#8e8e8e" stroke-width="1.0"/>
<text x="631.60" y="71.76" font-size="7.75" font-style="italic" fill="#231f20">FOXP3</text>
<rect x="466.40" y="72.96" width="10.00" height="9.00" fill="#a9c6d1" stroke="#8e8e8e" stroke-width="1.0"/>
<rect x="476.40" y="72.96" width="10.00" height="9.00" fill="#c1cace" stroke="#8e8e8e" stroke-width="1.0"/>
<rect x="491.20" y="72.96" width="10.00" height="9.00" fill="#a9c6d1" stroke="#8e8e8e" stroke-width="1.0"/>
<rect x="501.20" y="72.96" width="10.00" height="9.00" fill="#a9c6d1" stroke="#8e8e8e" stroke-width="1.0"/>
<rect x="511.20" y="72.96" width="10.00" height="9.00" fill="#aec7d1" stroke="#8e8e8e" stroke-width="1.0"/>
<rect x="521.20" y="72.96" width="10.00" height="9.00" fill="#c1cace" stroke="#8e8e8e" stroke-width="1.0"/>
<rect x="531.20" y="72.96" width="10.00" height="9.00" fill="#d1b6b6" stroke="#8e8e8e" stroke-width="1.0"/>
<rect x="541.20" y="72.96" width="10.00" height="9.00" fill="#d3adae" stroke="#8e8e8e" stroke-width="1.0"/>
<rect x="556.80" y="72.96" width="10.00" height="9.00" fill="#c1cace" stroke="#8e8e8e" stroke-width="1.0"/>
<rect x="566.80" y="72.96" width="10.00" height="9.00" fill="#c1cace" stroke="#8e8e8e" stroke-width="1.0"/>
<rect x="576.80" y="72.96" width="10.00" height="9.00" fill="#c1cace" stroke="#8e8e8e" stroke-width="1.0"/>
<rect x="586.80" y="72.96" width="10.00" height="9.00" fill="#c1cace" stroke="#8e8e8e" stroke-width="1.0"/>
<rect x="596.80" y="72.96" width="10.00" height="9.00" fill="#c1cace" stroke="#8e8e8e" stroke-width="1.0"/>
<rect x="606.80" y="72.96" width="10.00" height="9.00" fill="#bccacf" stroke="#8e8e8e" stroke-width="1.0"/>
<rect x="616.80" y="72.96" width="10.00" height="9.00" fill="#e72a24" stroke="#8e8e8e" stroke-width="1.0"/>
<text x="631.60" y="80.76" font-size="7.75" font-style="italic" fill="#231f20">IL2RA</text>
<rect x="466.40" y="81.96" width="10.00" height="9.00" fill="#ccc8c8" stroke="#8e8e8e" stroke-width="1.0"/>
<rect x="476.40" y="81.96" width="10.00" height="9.00" fill="#d5a9a9" stroke="#8e8e8e" stroke-width="1.0"/>
<rect x="491.20" y="81.96" width="10.00" height="9.00" fill="#a9c6d1" stroke="#8e8e8e" stroke-width="1.0"/>
<rect x="501.20" y="81.96" width="10.00" height="9.00" fill="#a9c6d1" stroke="#8e8e8e" stroke-width="1.0"/>
<rect x="511.20" y="81.96" width="10.00" height="9.00" fill="#b2c8d0" stroke="#8e8e8e" stroke-width="1.0"/>
<rect x="521.20" y="81.96" width="10.00" height="9.00" fill="#c6cbce" stroke="#8e8e8e" stroke-width="1.0"/>
<rect x="531.20" y="81.96" width="10.00" height="9.00" fill="#cbcccd" stroke="#8e8e8e" stroke-width="1.0"/>
<rect x="541.20" y="81.96" width="10.00" height="9.00" fill="#d2b2b2" stroke="#8e8e8e" stroke-width="1.0"/>
<rect x="556.80" y="81.96" width="10.00" height="9.00" fill="#a4c6d2" stroke="#8e8e8e" stroke-width="1.0"/>
<rect x="566.80" y="81.96" width="10.00" height="9.00" fill="#a4c6d2" stroke="#8e8e8e" stroke-width="1.0"/>
<rect x="576.80" y="81.96" width="10.00" height="9.00" fill="#a9c6d1" stroke="#8e8e8e" stroke-width="1.0"/>
<rect x="586.80" y="81.96" width="10.00" height="9.00" fill="#a9c6d1" stroke="#8e8e8e" stroke-width="1.0"/>
<rect x="596.80" y="81.96" width="10.00" height="9.00" fill="#cfbfc0" stroke="#8e8e8e" stroke-width="1.0"/>
<rect x="606.80" y="81.96" width="10.00" height="9.00" fill="#c6cbce" stroke="#8e8e8e" stroke-width="1.0"/>
<rect x="616.80" y="81.96" width="10.00" height="9.00" fill="#e72a24" stroke="#8e8e8e" stroke-width="1.0"/>
<text x="631.60" y="89.76" font-size="7.75" font-style="italic" fill="#231f20">IKZF2</text>
<rect x="466.40" y="63.96" width="20.00" height="27.00" fill="none" stroke="#8e8e8e" stroke-width="1.15"/>
<rect x="491.20" y="63.96" width="60.00" height="27.00" fill="none" stroke="#8e8e8e" stroke-width="1.15"/>
<rect x="556.80" y="63.96" width="70.00" height="27.00" fill="none" stroke="#8e8e8e" stroke-width="1.15"/>
<rect x="446.1" y="96.29" width="11" height="35.90" fill="#dcb49c"/>
<rect x="466.40" y="95.69" width="10.00" height="9.00" fill="#9ac4d3" stroke="#8e8e8e" stroke-width="1.0"/>
<rect x="476.40" y="95.69" width="10.00" height="9.00" fill="#d3adae" stroke="#8e8e8e" stroke-width="1.0"/>
<rect x="491.20" y="95.69" width="10.00" height="9.00" fill="#a4c6d2" stroke="#8e8e8e" stroke-width="1.0"/>
<rect x="501.20" y="95.69" width="10.00" height="9.00" fill="#a4c6d2" stroke="#8e8e8e" stroke-width="1.0"/>
<rect x="511.20" y="95.69" width="10.00" height="9.00" fill="#cbcccd" stroke="#8e8e8e" stroke-width="1.0"/>
<rect x="521.20" y="95.69" width="10.00" height="9.00" fill="#9ac4d3" stroke="#8e8e8e" stroke-width="1.0"/>
<rect x="531.20" y="95.69" width="10.00" height="9.00" fill="#7bbdd8" stroke="#8e8e8e" stroke-width="1.0"/>
<rect x="541.20" y="95.69" width="10.00" height="9.00" fill="#9ac4d3" stroke="#8e8e8e" stroke-width="1.0"/>
<rect x="556.80" y="95.69" width="10.00" height="9.00" fill="#df6464" stroke="#8e8e8e" stroke-width="1.0"/>
<rect x="566.80" y="95.69" width="10.00" height="9.00" fill="#cfbfc0" stroke="#8e8e8e" stroke-width="1.0"/>
<rect x="576.80" y="95.69" width="10.00" height="9.00" fill="#df6464" stroke="#8e8e8e" stroke-width="1.0"/>
<rect x="586.80" y="95.69" width="10.00" height="9.00" fill="#db8282" stroke="#8e8e8e" stroke-width="1.0"/>
<rect x="596.80" y="95.69" width="10.00" height="9.00" fill="#dd7676" stroke="#8e8e8e" stroke-width="1.0"/>
<rect x="606.80" y="95.69" width="10.00" height="9.00" fill="#bccacf" stroke="#8e8e8e" stroke-width="1.0"/>
<rect x="616.80" y="95.69" width="10.00" height="9.00" fill="#91c2d4" stroke="#8e8e8e" stroke-width="1.0"/>
<text x="631.60" y="103.49" font-size="7.75" font-style="italic" fill="#231f20">TCF7</text>
<rect x="466.40" y="104.69" width="10.00" height="9.00" fill="#c1cace" stroke="#8e8e8e" stroke-width="1.0"/>
<rect x="476.40" y="104.69" width="10.00" height="9.00" fill="#bccacf" stroke="#8e8e8e" stroke-width="1.0"/>
<rect x="491.20" y="104.69" width="10.00" height="9.00" fill="#91c2d4" stroke="#8e8e8e" stroke-width="1.0"/>
<rect x="501.20" y="104.69" width="10.00" height="9.00" fill="#91c2d4" stroke="#8e8e8e" stroke-width="1.0"/>
<rect x="511.20" y="104.69" width="10.00" height="9.00" fill="#91c2d4" stroke="#8e8e8e" stroke-width="1.0"/>
<rect x="521.20" y="104.69" width="10.00" height="9.00" fill="#8dc1d5" stroke="#8e8e8e" stroke-width="1.0"/>
<rect x="531.20" y="104.69" width="10.00" height="9.00" fill="#91c2d4" stroke="#8e8e8e" stroke-width="1.0"/>
<rect x="541.20" y="104.69" width="10.00" height="9.00" fill="#cbcccd" stroke="#8e8e8e" stroke-width="1.0"/>
<rect x="556.80" y="104.69" width="10.00" height="9.00" fill="#d7a0a0" stroke="#8e8e8e" stroke-width="1.0"/>
<rect x="566.80" y="104.69" width="10.00" height="9.00" fill="#d2b2b2" stroke="#8e8e8e" stroke-width="1.0"/>
<rect x="576.80" y="104.69" width="10.00" height="9.00" fill="#d7a0a0" stroke="#8e8e8e" stroke-width="1.0"/>
<rect x="586.80" y="104.69" width="10.00" height="9.00" fill="#d99494" stroke="#8e8e8e" stroke-width="1.0"/>
<rect x="596.80" y="104.69" width="10.00" height="9.00" fill="#df6464" stroke="#8e8e8e" stroke-width="1.0"/>
<rect x="606.80" y="104.69" width="10.00" height="9.00" fill="#9ac4d3" stroke="#8e8e8e" stroke-width="1.0"/>
<rect x="616.80" y="104.69" width="10.00" height="9.00" fill="#e15351" stroke="#8e8e8e" stroke-width="1.0"/>
<text x="631.60" y="112.49" font-size="7.75" font-style="italic" fill="#231f20">SELL</text>
<rect x="466.40" y="113.69" width="10.00" height="9.00" fill="#91c2d4" stroke="#8e8e8e" stroke-width="1.0"/>
<rect x="476.40" y="113.69" width="10.00" height="9.00" fill="#9ac4d3" stroke="#8e8e8e" stroke-width="1.0"/>
<rect x="491.20" y="113.69" width="10.00" height="9.00" fill="#9ac4d3" stroke="#8e8e8e" stroke-width="1.0"/>
<rect x="501.20" y="113.69" width="10.00" height="9.00" fill="#9ac4d3" stroke="#8e8e8e" stroke-width="1.0"/>
<rect x="511.20" y="113.69" width="10.00" height="9.00" fill="#9ac4d3" stroke="#8e8e8e" stroke-width="1.0"/>
<rect x="521.20" y="113.69" width="10.00" height="9.00" fill="#91c2d4" stroke="#8e8e8e" stroke-width="1.0"/>
<rect x="531.20" y="113.69" width="10.00" height="9.00" fill="#91c2d4" stroke="#8e8e8e" stroke-width="1.0"/>
<rect x="541.20" y="113.69" width="10.00" height="9.00" fill="#b2c8d0" stroke="#8e8e8e" stroke-width="1.0"/>
<rect x="556.80" y="113.69" width="10.00" height="9.00" fill="#dd7676" stroke="#8e8e8e" stroke-width="1.0"/>
<rect x="566.80" y="113.69" width="10.00" height="9.00" fill="#d7a0a0" stroke="#8e8e8e" stroke-width="1.0"/>
<rect x="576.80" y="113.69" width="10.00" height="9.00" fill="#db8282" stroke="#8e8e8e" stroke-width="1.0"/>
<rect x="586.80" y="113.69" width="10.00" height="9.00" fill="#dc7c7c" stroke="#8e8e8e" stroke-width="1.0"/>
<rect x="596.80" y="113.69" width="10.00" height="9.00" fill="#e15857" stroke="#8e8e8e" stroke-width="1.0"/>
<rect x="606.80" y="113.69" width="10.00" height="9.00" fill="#aec7d1" stroke="#8e8e8e" stroke-width="1.0"/>
<rect x="616.80" y="113.69" width="10.00" height="9.00" fill="#d7a0a0" stroke="#8e8e8e" stroke-width="1.0"/>
<text x="631.60" y="121.49" font-size="7.75" font-style="italic" fill="#231f20">LEF1</text>
<rect x="466.40" y="122.69" width="10.00" height="9.00" fill="#84bfd6" stroke="#8e8e8e" stroke-width="1.0"/>
<rect x="476.40" y="122.69" width="10.00" height="9.00" fill="#91c2d4" stroke="#8e8e8e" stroke-width="1.0"/>
<rect x="491.20" y="122.69" width="10.00" height="9.00" fill="#9fc5d2" stroke="#8e8e8e" stroke-width="1.0"/>
<rect x="501.20" y="122.69" width="10.00" height="9.00" fill="#9ac4d3" stroke="#8e8e8e" stroke-width="1.0"/>
<rect x="511.20" y="122.69" width="10.00" height="9.00" fill="#9ac4d3" stroke="#8e8e8e" stroke-width="1.0"/>
<rect x="521.20" y="122.69" width="10.00" height="9.00" fill="#91c2d4" stroke="#8e8e8e" stroke-width="1.0"/>
<rect x="531.20" y="122.69" width="10.00" height="9.00" fill="#88c0d6" stroke="#8e8e8e" stroke-width="1.0"/>
<rect x="541.20" y="122.69" width="10.00" height="9.00" fill="#a9c6d1" stroke="#8e8e8e" stroke-width="1.0"/>
<rect x="556.80" y="122.69" width="10.00" height="9.00" fill="#df6464" stroke="#8e8e8e" stroke-width="1.0"/>
<rect x="566.80" y="122.69" width="10.00" height="9.00" fill="#dd7676" stroke="#8e8e8e" stroke-width="1.0"/>
<rect x="576.80" y="122.69" width="10.00" height="9.00" fill="#df6464" stroke="#8e8e8e" stroke-width="1.0"/>
<rect x="586.80" y="122.69" width="10.00" height="9.00" fill="#de6a6a" stroke="#8e8e8e" stroke-width="1.0"/>
<rect x="596.80" y="122.69" width="10.00" height="9.00" fill="#d99494" stroke="#8e8e8e" stroke-width="1.0"/>
<rect x="606.80" y="122.69" width="10.00" height="9.00" fill="#b7c9cf" stroke="#8e8e8e" stroke-width="1.0"/>
<rect x="616.80" y="122.69" width="10.00" height="9.00" fill="#aec7d1" stroke="#8e8e8e" stroke-width="1.0"/>
<text x="631.60" y="130.49" font-size="7.75" font-style="italic" fill="#231f20">CCR7</text>
<rect x="466.40" y="95.69" width="20.00" height="36.00" fill="none" stroke="#8e8e8e" stroke-width="1.15"/>
<rect x="491.20" y="95.69" width="60.00" height="36.00" fill="none" stroke="#8e8e8e" stroke-width="1.15"/>
<rect x="556.80" y="95.69" width="70.00" height="36.00" fill="none" stroke="#8e8e8e" stroke-width="1.15"/>
<rect x="446.1" y="137.02" width="11" height="62.90" fill="#20a2c8"/>
<rect x="466.40" y="136.42" width="10.00" height="9.00" fill="#aec7d1" stroke="#8e8e8e" stroke-width="1.0"/>
<rect x="476.40" y="136.42" width="10.00" height="9.00" fill="#a4c6d2" stroke="#8e8e8e" stroke-width="1.0"/>
<rect x="491.20" y="136.42" width="10.00" height="9.00" fill="#d6a4a4" stroke="#8e8e8e" stroke-width="1.0"/>
<rect x="501.20" y="136.42" width="10.00" height="9.00" fill="#e24d4a" stroke="#8e8e8e" stroke-width="1.0"/>
<rect x="511.20" y="136.42" width="10.00" height="9.00" fill="#d5a9a9" stroke="#8e8e8e" stroke-width="1.0"/>
<rect x="521.20" y="136.42" width="10.00" height="9.00" fill="#dc7c7c" stroke="#8e8e8e" stroke-width="1.0"/>
<rect x="531.20" y="136.42" width="10.00" height="9.00" fill="#df6464" stroke="#8e8e8e" stroke-width="1.0"/>
<rect x="541.20" y="136.42" width="10.00" height="9.00" fill="#d5a9a9" stroke="#8e8e8e" stroke-width="1.0"/>
<rect x="556.80" y="136.42" width="10.00" height="9.00" fill="#91c2d4" stroke="#8e8e8e" stroke-width="1.0"/>
<rect x="566.80" y="136.42" width="10.00" height="9.00" fill="#cbcccd" stroke="#8e8e8e" stroke-width="1.0"/>
<rect x="576.80" y="136.42" width="10.00" height="9.00" fill="#91c2d4" stroke="#8e8e8e" stroke-width="1.0"/>
<rect x="586.80" y="136.42" width="10.00" height="9.00" fill="#91c2d4" stroke="#8e8e8e" stroke-width="1.0"/>
<rect x="596.80" y="136.42" width="10.00" height="9.00" fill="#8dc1d5" stroke="#8e8e8e" stroke-width="1.0"/>
<rect x="606.80" y="136.42" width="10.00" height="9.00" fill="#88c0d6" stroke="#8e8e8e" stroke-width="1.0"/>
<rect x="616.80" y="136.42" width="10.00" height="9.00" fill="#aec7d1" stroke="#8e8e8e" stroke-width="1.0"/>
<text x="631.60" y="144.22" font-size="7.75" font-style="italic" fill="#231f20">LAG3</text>
<rect x="466.40" y="145.42" width="10.00" height="9.00" fill="#b2c8d0" stroke="#8e8e8e" stroke-width="1.0"/>
<rect x="476.40" y="145.42" width="10.00" height="9.00" fill="#c1cace" stroke="#8e8e8e" stroke-width="1.0"/>
<rect x="491.20" y="145.42" width="10.00" height="9.00" fill="#b2c8d0" stroke="#8e8e8e" stroke-width="1.0"/>
<rect x="501.20" y="145.42" width="10.00" height="9.00" fill="#c6cbce" stroke="#8e8e8e" stroke-width="1.0"/>
<rect x="511.20" y="145.42" width="10.00" height="9.00" fill="#b7c9cf" stroke="#8e8e8e" stroke-width="1.0"/>
<rect x="521.20" y="145.42" width="10.00" height="9.00" fill="#d5a9a9" stroke="#8e8e8e" stroke-width="1.0"/>
<rect x="531.20" y="145.42" width="10.00" height="9.00" fill="#e34744" stroke="#8e8e8e" stroke-width="1.0"/>
<rect x="541.20" y="145.42" width="10.00" height="9.00" fill="#d5a9a9" stroke="#8e8e8e" stroke-width="1.0"/>
<rect x="556.80" y="145.42" width="10.00" height="9.00" fill="#8dc1d5" stroke="#8e8e8e" stroke-width="1.0"/>
<rect x="566.80" y="145.42" width="10.00" height="9.00" fill="#91c2d4" stroke="#8e8e8e" stroke-width="1.0"/>
<rect x="576.80" y="145.42" width="10.00" height="9.00" fill="#91c2d4" stroke="#8e8e8e" stroke-width="1.0"/>
<rect x="586.80" y="145.42" width="10.00" height="9.00" fill="#91c2d4" stroke="#8e8e8e" stroke-width="1.0"/>
<rect x="596.80" y="145.42" width="10.00" height="9.00" fill="#d5a9a9" stroke="#8e8e8e" stroke-width="1.0"/>
<rect x="606.80" y="145.42" width="10.00" height="9.00" fill="#91c2d4" stroke="#8e8e8e" stroke-width="1.0"/>
<rect x="616.80" y="145.42" width="10.00" height="9.00" fill="#e24d4a" stroke="#8e8e8e" stroke-width="1.0"/>
<text x="631.60" y="153.22" font-size="7.75" font-style="italic" fill="#231f20">TIGIT</text>
<rect x="466.40" y="154.42" width="10.00" height="9.00" fill="#8dc1d5" stroke="#8e8e8e" stroke-width="1.0"/>
<rect x="476.40" y="154.42" width="10.00" height="9.00" fill="#8dc1d5" stroke="#8e8e8e" stroke-width="1.0"/>
<rect x="491.20" y="154.42" width="10.00" height="9.00" fill="#c6cbce" stroke="#8e8e8e" stroke-width="1.0"/>
<rect x="501.20" y="154.42" width="10.00" height="9.00" fill="#cdc3c4" stroke="#8e8e8e" stroke-width="1.0"/>
<rect x="511.20" y="154.42" width="10.00" height="9.00" fill="#ccc8c8" stroke="#8e8e8e" stroke-width="1.0"/>
<rect x="521.20" y="154.42" width="10.00" height="9.00" fill="#db8282" stroke="#8e8e8e" stroke-width="1.0"/>
<rect x="531.20" y="154.42" width="10.00" height="9.00" fill="#e53631" stroke="#8e8e8e" stroke-width="1.0"/>
<rect x="541.20" y="154.42" width="10.00" height="9.00" fill="#d7a0a0" stroke="#8e8e8e" stroke-width="1.0"/>
<rect x="556.80" y="154.42" width="10.00" height="9.00" fill="#aec7d1" stroke="#8e8e8e" stroke-width="1.0"/>
<rect x="566.80" y="154.42" width="10.00" height="9.00" fill="#aec7d1" stroke="#8e8e8e" stroke-width="1.0"/>
<rect x="576.80" y="154.42" width="10.00" height="9.00" fill="#9fc5d2" stroke="#8e8e8e" stroke-width="1.0"/>
<rect x="586.80" y="154.42" width="10.00" height="9.00" fill="#9fc5d2" stroke="#8e8e8e" stroke-width="1.0"/>
<rect x="596.80" y="154.42" width="10.00" height="9.00" fill="#db8282" stroke="#8e8e8e" stroke-width="1.0"/>
<rect x="606.80" y="154.42" width="10.00" height="9.00" fill="#96c3d4" stroke="#8e8e8e" stroke-width="1.0"/>
<rect x="616.80" y="154.42" width="10.00" height="9.00" fill="#c6cbce" stroke="#8e8e8e" stroke-width="1.0"/>
<text x="631.60" y="162.22" font-size="7.75" font-style="italic" fill="#231f20">PDCD1</text>
<rect x="466.40" y="163.42" width="10.00" height="9.00" fill="#d2b2b2" stroke="#8e8e8e" stroke-width="1.0"/>
<rect x="476.40" y="163.42" width="10.00" height="9.00" fill="#d6a4a4" stroke="#8e8e8e" stroke-width="1.0"/>
<rect x="491.20" y="163.42" width="10.00" height="9.00" fill="#a4c6d2" stroke="#8e8e8e" stroke-width="1.0"/>
<rect x="501.20" y="163.42" width="10.00" height="9.00" fill="#a9c6d1" stroke="#8e8e8e" stroke-width="1.0"/>
<rect x="511.20" y="163.42" width="10.00" height="9.00" fill="#a9c6d1" stroke="#8e8e8e" stroke-width="1.0"/>
<rect x="521.20" y="163.42" width="10.00" height="9.00" fill="#db8282" stroke="#8e8e8e" stroke-width="1.0"/>
<rect x="531.20" y="163.42" width="10.00" height="9.00" fill="#e72a24" stroke="#8e8e8e" stroke-width="1.0"/>
<rect x="541.20" y="163.42" width="10.00" height="9.00" fill="#d7a0a0" stroke="#8e8e8e" stroke-width="1.0"/>
<rect x="556.80" y="163.42" width="10.00" height="9.00" fill="#9ac4d3" stroke="#8e8e8e" stroke-width="1.0"/>
<rect x="566.80" y="163.42" width="10.00" height="9.00" fill="#9ac4d3" stroke="#8e8e8e" stroke-width="1.0"/>
<rect x="576.80" y="163.42" width="10.00" height="9.00" fill="#9ac4d3" stroke="#8e8e8e" stroke-width="1.0"/>
<rect x="586.80" y="163.42" width="10.00" height="9.00" fill="#9ac4d3" stroke="#8e8e8e" stroke-width="1.0"/>
<rect x="596.80" y="163.42" width="10.00" height="9.00" fill="#a4c6d2" stroke="#8e8e8e" stroke-width="1.0"/>
<rect x="606.80" y="163.42" width="10.00" height="9.00" fill="#9ac4d3" stroke="#8e8e8e" stroke-width="1.0"/>
<rect x="616.80" y="163.42" width="10.00" height="9.00" fill="#d2b2b2" stroke="#8e8e8e" stroke-width="1.0"/>
<text x="631.60" y="171.22" font-size="7.75" font-style="italic" fill="#231f20">HAVCR2</text>
<rect x="466.40" y="172.42" width="10.00" height="9.00" fill="#91c2d4" stroke="#8e8e8e" stroke-width="1.0"/>
<rect x="476.40" y="172.42" width="10.00" height="9.00" fill="#91c2d4" stroke="#8e8e8e" stroke-width="1.0"/>
<rect x="491.20" y="172.42" width="10.00" height="9.00" fill="#91c2d4" stroke="#8e8e8e" stroke-width="1.0"/>
<rect x="501.20" y="172.42" width="10.00" height="9.00" fill="#9fc5d2" stroke="#8e8e8e" stroke-width="1.0"/>
<rect x="511.20" y="172.42" width="10.00" height="9.00" fill="#9fc5d2" stroke="#8e8e8e" stroke-width="1.0"/>
<rect x="521.20" y="172.42" width="10.00" height="9.00" fill="#db8282" stroke="#8e8e8e" stroke-width="1.0"/>
<rect x="531.20" y="172.42" width="10.00" height="9.00" fill="#dd7070" stroke="#8e8e8e" stroke-width="1.0"/>
<rect x="541.20" y="172.42" width="10.00" height="9.00" fill="#d3adae" stroke="#8e8e8e" stroke-width="1.0"/>
<rect x="556.80" y="172.42" width="10.00" height="9.00" fill="#a4c6d2" stroke="#8e8e8e" stroke-width="1.0"/>
<rect x="566.80" y="172.42" width="10.00" height="9.00" fill="#cbcccd" stroke="#8e8e8e" stroke-width="1.0"/>
<rect x="576.80" y="172.42" width="10.00" height="9.00" fill="#9ac4d3" stroke="#8e8e8e" stroke-width="1.0"/>
<rect x="586.80" y="172.42" width="10.00" height="9.00" fill="#9ac4d3" stroke="#8e8e8e" stroke-width="1.0"/>
<rect x="596.80" y="172.42" width="10.00" height="9.00" fill="#dc7c7c" stroke="#8e8e8e" stroke-width="1.0"/>
<rect x="606.80" y="172.42" width="10.00" height="9.00" fill="#a4c6d2" stroke="#8e8e8e" stroke-width="1.0"/>
<rect x="616.80" y="172.42" width="10.00" height="9.00" fill="#e34744" stroke="#8e8e8e" stroke-width="1.0"/>
<text x="631.60" y="180.22" font-size="7.75" font-style="italic" fill="#231f20">CTLA4</text>
<rect x="466.40" y="181.42" width="10.00" height="9.00" fill="#a4c6d2" stroke="#8e8e8e" stroke-width="1.0"/>
<rect x="476.40" y="181.42" width="10.00" height="9.00" fill="#cbcccd" stroke="#8e8e8e" stroke-width="1.0"/>
<rect x="491.20" y="181.42" width="10.00" height="9.00" fill="#a4c6d2" stroke="#8e8e8e" stroke-width="1.0"/>
<rect x="501.20" y="181.42" width="10.00" height="9.00" fill="#a4c6d2" stroke="#8e8e8e" stroke-width="1.0"/>
<rect x="511.20" y="181.42" width="10.00" height="9.00" fill="#a4c6d2" stroke="#8e8e8e" stroke-width="1.0"/>
<rect x="521.20" y="181.42" width="10.00" height="9.00" fill="#db8282" stroke="#8e8e8e" stroke-width="1.0"/>
<rect x="531.20" y="181.42" width="10.00" height="9.00" fill="#e34744" stroke="#8e8e8e" stroke-width="1.0"/>
<rect x="541.20" y="181.42" width="10.00" height="9.00" fill="#d1b6b6" stroke="#8e8e8e" stroke-width="1.0"/>
<rect x="556.80" y="181.42" width="10.00" height="9.00" fill="#9ac4d3" stroke="#8e8e8e" stroke-width="1.0"/>
<rect x="566.80" y="181.42" width="10.00" height="9.00" fill="#9ac4d3" stroke="#8e8e8e" stroke-width="1.0"/>
<rect x="576.80" y="181.42" width="10.00" height="9.00" fill="#9ac4d3" stroke="#8e8e8e" stroke-width="1.0"/>
<rect x="586.80" y="181.42" width="10.00" height="9.00" fill="#9ac4d3" stroke="#8e8e8e" stroke-width="1.0"/>
<rect x="596.80" y="181.42" width="10.00" height="9.00" fill="#a4c6d2" stroke="#8e8e8e" stroke-width="1.0"/>
<rect x="606.80" y="181.42" width="10.00" height="9.00" fill="#a4c6d2" stroke="#8e8e8e" stroke-width="1.0"/>
<rect x="616.80" y="181.42" width="10.00" height="9.00" fill="#e34744" stroke="#8e8e8e" stroke-width="1.0"/>
<text x="631.60" y="189.22" font-size="7.75" font-style="italic" fill="#231f20">LAYN</text>
<rect x="466.40" y="190.42" width="10.00" height="9.00" fill="#9ac4d3" stroke="#8e8e8e" stroke-width="1.0"/>
<rect x="476.40" y="190.42" width="10.00" height="9.00" fill="#c6cbce" stroke="#8e8e8e" stroke-width="1.0"/>
<rect x="491.20" y="190.42" width="10.00" height="9.00" fill="#9ac4d3" stroke="#8e8e8e" stroke-width="1.0"/>
<rect x="501.20" y="190.42" width="10.00" height="9.00" fill="#9fc5d2" stroke="#8e8e8e" stroke-width="1.0"/>
<rect x="511.20" y="190.42" width="10.00" height="9.00" fill="#a4c6d2" stroke="#8e8e8e" stroke-width="1.0"/>
<rect x="521.20" y="190.42" width="10.00" height="9.00" fill="#df6464" stroke="#8e8e8e" stroke-width="1.0"/>
<rect x="531.20" y="190.42" width="10.00" height="9.00" fill="#e53b37" stroke="#8e8e8e" stroke-width="1.0"/>
<rect x="541.20" y="190.42" width="10.00" height="9.00" fill="#d6a4a4" stroke="#8e8e8e" stroke-width="1.0"/>
<rect x="556.80" y="190.42" width="10.00" height="9.00" fill="#9fc5d2" stroke="#8e8e8e" stroke-width="1.0"/>
<rect x="566.80" y="190.42" width="10.00" height="9.00" fill="#9fc5d2" stroke="#8e8e8e" stroke-width="1.0"/>
<rect x="576.80" y="190.42" width="10.00" height="9.00" fill="#9fc5d2" stroke="#8e8e8e" stroke-width="1.0"/>
<rect x="586.80" y="190.42" width="10.00" height="9.00" fill="#9fc5d2" stroke="#8e8e8e" stroke-width="1.0"/>
<rect x="596.80" y="190.42" width="10.00" height="9.00" fill="#a9c6d1" stroke="#8e8e8e" stroke-width="1.0"/>
<rect x="606.80" y="190.42" width="10.00" height="9.00" fill="#a4c6d2" stroke="#8e8e8e" stroke-width="1.0"/>
<rect x="616.80" y="190.42" width="10.00" height="9.00" fill="#db8282" stroke="#8e8e8e" stroke-width="1.0"/>
<text x="631.60" y="198.22" font-size="7.75" font-style="italic" fill="#231f20">ENTPD1</text>
<rect x="466.40" y="136.42" width="20.00" height="63.00" fill="none" stroke="#8e8e8e" stroke-width="1.15"/>
<rect x="491.20" y="136.42" width="60.00" height="63.00" fill="none" stroke="#8e8e8e" stroke-width="1.15"/>
<rect x="556.80" y="136.42" width="70.00" height="63.00" fill="none" stroke="#8e8e8e" stroke-width="1.15"/>
<rect x="446.1" y="204.75" width="11" height="62.90" fill="#d42220"/>
<rect x="466.40" y="204.15" width="10.00" height="9.00" fill="#d98e8e" stroke="#8e8e8e" stroke-width="1.0"/>
<rect x="476.40" y="204.15" width="10.00" height="9.00" fill="#d0babb" stroke="#8e8e8e" stroke-width="1.0"/>
<rect x="491.20" y="204.15" width="10.00" height="9.00" fill="#db8282" stroke="#8e8e8e" stroke-width="1.0"/>
<rect x="501.20" y="204.15" width="10.00" height="9.00" fill="#dd7070" stroke="#8e8e8e" stroke-width="1.0"/>
<rect x="511.20" y="204.15" width="10.00" height="9.00" fill="#d98e8e" stroke="#8e8e8e" stroke-width="1.0"/>
<rect x="521.20" y="204.15" width="10.00" height="9.00" fill="#dd7070" stroke="#8e8e8e" stroke-width="1.0"/>
<rect x="531.20" y="204.15" width="10.00" height="9.00" fill="#d5a9a9" stroke="#8e8e8e" stroke-width="1.0"/>
<rect x="541.20" y="204.15" width="10.00" height="9.00" fill="#d1b6b6" stroke="#8e8e8e" stroke-width="1.0"/>
<rect x="556.80" y="204.15" width="10.00" height="9.00" fill="#a4c6d2" stroke="#8e8e8e" stroke-width="1.0"/>
<rect x="566.80" y="204.15" width="10.00" height="9.00" fill="#cbcccd" stroke="#8e8e8e" stroke-width="1.0"/>
<rect x="576.80" y="204.15" width="10.00" height="9.00" fill="#a4c6d2" stroke="#8e8e8e" stroke-width="1.0"/>
<rect x="586.80" y="204.15" width="10.00" height="9.00" fill="#b2c8d0" stroke="#8e8e8e" stroke-width="1.0"/>
<rect x="596.80" y="204.15" width="10.00" height="9.00" fill="#77bcd9" stroke="#8e8e8e" stroke-width="1.0"/>
<rect x="606.80" y="204.15" width="10.00" height="9.00" fill="#6ebada" stroke="#8e8e8e" stroke-width="1.0"/>
<rect x="616.80" y="204.15" width="10.00" height="9.00" fill="#6ebada" stroke="#8e8e8e" stroke-width="1.0"/>
<text x="631.60" y="211.95" font-size="7.75" font-style="italic" fill="#231f20">GZMA</text>
<rect x="466.40" y="213.15" width="10.00" height="9.00" fill="#df6464" stroke="#8e8e8e" stroke-width="1.0"/>
<rect x="476.40" y="213.15" width="10.00" height="9.00" fill="#d1b6b6" stroke="#8e8e8e" stroke-width="1.0"/>
<rect x="491.20" y="213.15" width="10.00" height="9.00" fill="#bccacf" stroke="#8e8e8e" stroke-width="1.0"/>
<rect x="501.20" y="213.15" width="10.00" height="9.00" fill="#d7a0a0" stroke="#8e8e8e" stroke-width="1.0"/>
<rect x="511.20" y="213.15" width="10.00" height="9.00" fill="#cdc3c4" stroke="#8e8e8e" stroke-width="1.0"/>
<rect x="521.20" y="213.15" width="10.00" height="9.00" fill="#db8282" stroke="#8e8e8e" stroke-width="1.0"/>
<rect x="531.20" y="213.15" width="10.00" height="9.00" fill="#df6464" stroke="#8e8e8e" stroke-width="1.0"/>
<rect x="541.20" y="213.15" width="10.00" height="9.00" fill="#d3adae" stroke="#8e8e8e" stroke-width="1.0"/>
<rect x="556.80" y="213.15" width="10.00" height="9.00" fill="#8dc1d5" stroke="#8e8e8e" stroke-width="1.0"/>
<rect x="566.80" y="213.15" width="10.00" height="9.00" fill="#9ac4d3" stroke="#8e8e8e" stroke-width="1.0"/>
<rect x="576.80" y="213.15" width="10.00" height="9.00" fill="#8dc1d5" stroke="#8e8e8e" stroke-width="1.0"/>
<rect x="586.80" y="213.15" width="10.00" height="9.00" fill="#8dc1d5" stroke="#8e8e8e" stroke-width="1.0"/>
<rect x="596.80" y="213.15" width="10.00" height="9.00" fill="#8dc1d5" stroke="#8e8e8e" stroke-width="1.0"/>
<rect x="606.80" y="213.15" width="10.00" height="9.00" fill="#8dc1d5" stroke="#8e8e8e" stroke-width="1.0"/>
<rect x="616.80" y="213.15" width="10.00" height="9.00" fill="#8dc1d5" stroke="#8e8e8e" stroke-width="1.0"/>
<text x="631.60" y="220.95" font-size="7.75" font-style="italic" fill="#231f20">GZMB</text>
<rect x="466.40" y="222.15" width="10.00" height="9.00" fill="#a4c6d2" stroke="#8e8e8e" stroke-width="1.0"/>
<rect x="476.40" y="222.15" width="10.00" height="9.00" fill="#cfbfc0" stroke="#8e8e8e" stroke-width="1.0"/>
<rect x="491.20" y="222.15" width="10.00" height="9.00" fill="#e15351" stroke="#8e8e8e" stroke-width="1.0"/>
<rect x="501.20" y="222.15" width="10.00" height="9.00" fill="#df6464" stroke="#8e8e8e" stroke-width="1.0"/>
<rect x="511.20" y="222.15" width="10.00" height="9.00" fill="#dd7070" stroke="#8e8e8e" stroke-width="1.0"/>
<rect x="521.20" y="222.15" width="10.00" height="9.00" fill="#9ac4d3" stroke="#8e8e8e" stroke-width="1.0"/>
<rect x="531.20" y="222.15" width="10.00" height="9.00" fill="#91c2d4" stroke="#8e8e8e" stroke-width="1.0"/>
<rect x="541.20" y="222.15" width="10.00" height="9.00" fill="#cbcccd" stroke="#8e8e8e" stroke-width="1.0"/>
<rect x="556.80" y="222.15" width="10.00" height="9.00" fill="#cbcccd" stroke="#8e8e8e" stroke-width="1.0"/>
<rect x="566.80" y="222.15" width="10.00" height="9.00" fill="#cbcccd" stroke="#8e8e8e" stroke-width="1.0"/>
<rect x="576.80" y="222.15" width="10.00" height="9.00" fill="#bccacf" stroke="#8e8e8e" stroke-width="1.0"/>
<rect x="586.80" y="222.15" width="10.00" height="9.00" fill="#cbcccd" stroke="#8e8e8e" stroke-width="1.0"/>
<rect x="596.80" y="222.15" width="10.00" height="9.00" fill="#91c2d4" stroke="#8e8e8e" stroke-width="1.0"/>
<rect x="606.80" y="222.15" width="10.00" height="9.00" fill="#9ac4d3" stroke="#8e8e8e" stroke-width="1.0"/>
<rect x="616.80" y="222.15" width="10.00" height="9.00" fill="#9ac4d3" stroke="#8e8e8e" stroke-width="1.0"/>
<text x="631.60" y="229.95" font-size="7.75" font-style="italic" fill="#231f20">GZMK</text>
<rect x="466.40" y="231.15" width="10.00" height="9.00" fill="#e72a24" stroke="#8e8e8e" stroke-width="1.0"/>
<rect x="476.40" y="231.15" width="10.00" height="9.00" fill="#df6464" stroke="#8e8e8e" stroke-width="1.0"/>
<rect x="491.20" y="231.15" width="10.00" height="9.00" fill="#c1cace" stroke="#8e8e8e" stroke-width="1.0"/>
<rect x="501.20" y="231.15" width="10.00" height="9.00" fill="#cbcccd" stroke="#8e8e8e" stroke-width="1.0"/>
<rect x="511.20" y="231.15" width="10.00" height="9.00" fill="#cbcccd" stroke="#8e8e8e" stroke-width="1.0"/>
<rect x="521.20" y="231.15" width="10.00" height="9.00" fill="#d1b6b6" stroke="#8e8e8e" stroke-width="1.0"/>
<rect x="531.20" y="231.15" width="10.00" height="9.00" fill="#cbcccd" stroke="#8e8e8e" stroke-width="1.0"/>
<rect x="541.20" y="231.15" width="10.00" height="9.00" fill="#c6cbce" stroke="#8e8e8e" stroke-width="1.0"/>
<rect x="556.80" y="231.15" width="10.00" height="9.00" fill="#9ac4d3" stroke="#8e8e8e" stroke-width="1.0"/>
<rect x="566.80" y="231.15" width="10.00" height="9.00" fill="#9ac4d3" stroke="#8e8e8e" stroke-width="1.0"/>
<rect x="576.80" y="231.15" width="10.00" height="9.00" fill="#9ac4d3" stroke="#8e8e8e" stroke-width="1.0"/>
<rect x="586.80" y="231.15" width="10.00" height="9.00" fill="#9ac4d3" stroke="#8e8e8e" stroke-width="1.0"/>
<rect x="596.80" y="231.15" width="10.00" height="9.00" fill="#9ac4d3" stroke="#8e8e8e" stroke-width="1.0"/>
<rect x="606.80" y="231.15" width="10.00" height="9.00" fill="#9ac4d3" stroke="#8e8e8e" stroke-width="1.0"/>
<rect x="616.80" y="231.15" width="10.00" height="9.00" fill="#9ac4d3" stroke="#8e8e8e" stroke-width="1.0"/>
<text x="631.60" y="238.95" font-size="7.75" font-style="italic" fill="#231f20">GNLY</text>
<rect x="466.40" y="240.15" width="10.00" height="9.00" fill="#d5a9a9" stroke="#8e8e8e" stroke-width="1.0"/>
<rect x="476.40" y="240.15" width="10.00" height="9.00" fill="#cbcccd" stroke="#8e8e8e" stroke-width="1.0"/>
<rect x="491.20" y="240.15" width="10.00" height="9.00" fill="#91c2d4" stroke="#8e8e8e" stroke-width="1.0"/>
<rect x="501.20" y="240.15" width="10.00" height="9.00" fill="#d7a0a0" stroke="#8e8e8e" stroke-width="1.0"/>
<rect x="511.20" y="240.15" width="10.00" height="9.00" fill="#db8282" stroke="#8e8e8e" stroke-width="1.0"/>
<rect x="521.20" y="240.15" width="10.00" height="9.00" fill="#e15857" stroke="#8e8e8e" stroke-width="1.0"/>
<rect x="531.20" y="240.15" width="10.00" height="9.00" fill="#df6464" stroke="#8e8e8e" stroke-width="1.0"/>
<rect x="541.20" y="240.15" width="10.00" height="9.00" fill="#d7a0a0" stroke="#8e8e8e" stroke-width="1.0"/>
<rect x="556.80" y="240.15" width="10.00" height="9.00" fill="#9ac4d3" stroke="#8e8e8e" stroke-width="1.0"/>
<rect x="566.80" y="240.15" width="10.00" height="9.00" fill="#9ac4d3" stroke="#8e8e8e" stroke-width="1.0"/>
<rect x="576.80" y="240.15" width="10.00" height="9.00" fill="#b2c8d0" stroke="#8e8e8e" stroke-width="1.0"/>
<rect x="586.80" y="240.15" width="10.00" height="9.00" fill="#84bfd6" stroke="#8e8e8e" stroke-width="1.0"/>
<rect x="596.80" y="240.15" width="10.00" height="9.00" fill="#cbcccd" stroke="#8e8e8e" stroke-width="1.0"/>
<rect x="606.80" y="240.15" width="10.00" height="9.00" fill="#84bfd6" stroke="#8e8e8e" stroke-width="1.0"/>
<rect x="616.80" y="240.15" width="10.00" height="9.00" fill="#7bbdd8" stroke="#8e8e8e" stroke-width="1.0"/>
<text x="631.60" y="247.95" font-size="7.75" font-style="italic" fill="#231f20">IFNG</text>
<rect x="466.40" y="249.15" width="10.00" height="9.00" fill="#e72a24" stroke="#8e8e8e" stroke-width="1.0"/>
<rect x="476.40" y="249.15" width="10.00" height="9.00" fill="#d7a0a0" stroke="#8e8e8e" stroke-width="1.0"/>
<rect x="491.20" y="249.15" width="10.00" height="9.00" fill="#d1b6b6" stroke="#8e8e8e" stroke-width="1.0"/>
<rect x="501.20" y="249.15" width="10.00" height="9.00" fill="#d5a9a9" stroke="#8e8e8e" stroke-width="1.0"/>
<rect x="511.20" y="249.15" width="10.00" height="9.00" fill="#d1b6b6" stroke="#8e8e8e" stroke-width="1.0"/>
<rect x="521.20" y="249.15" width="10.00" height="9.00" fill="#d6a4a4" stroke="#8e8e8e" stroke-width="1.0"/>
<rect x="531.20" y="249.15" width="10.00" height="9.00" fill="#d6a4a4" stroke="#8e8e8e" stroke-width="1.0"/>
<rect x="541.20" y="249.15" width="10.00" height="9.00" fill="#cdc3c4" stroke="#8e8e8e" stroke-width="1.0"/>
<rect x="556.80" y="249.15" width="10.00" height="9.00" fill="#91c2d4" stroke="#8e8e8e" stroke-width="1.0"/>
<rect x="566.80" y="249.15" width="10.00" height="9.00" fill="#9ac4d3" stroke="#8e8e8e" stroke-width="1.0"/>
<rect x="576.80" y="249.15" width="10.00" height="9.00" fill="#8dc1d5" stroke="#8e8e8e" stroke-width="1.0"/>
<rect x="586.80" y="249.15" width="10.00" height="9.00" fill="#91c2d4" stroke="#8e8e8e" stroke-width="1.0"/>
<rect x="596.80" y="249.15" width="10.00" height="9.00" fill="#91c2d4" stroke="#8e8e8e" stroke-width="1.0"/>
<rect x="606.80" y="249.15" width="10.00" height="9.00" fill="#91c2d4" stroke="#8e8e8e" stroke-width="1.0"/>
<rect x="616.80" y="249.15" width="10.00" height="9.00" fill="#a4c6d2" stroke="#8e8e8e" stroke-width="1.0"/>
<text x="631.60" y="256.95" font-size="7.75" font-style="italic" fill="#231f20">PRF1</text>
<rect x="466.40" y="258.15" width="10.00" height="9.00" fill="#e15857" stroke="#8e8e8e" stroke-width="1.0"/>
<rect x="476.40" y="258.15" width="10.00" height="9.00" fill="#d99494" stroke="#8e8e8e" stroke-width="1.0"/>
<rect x="491.20" y="258.15" width="10.00" height="9.00" fill="#d7a0a0" stroke="#8e8e8e" stroke-width="1.0"/>
<rect x="501.20" y="258.15" width="10.00" height="9.00" fill="#d7a0a0" stroke="#8e8e8e" stroke-width="1.0"/>
<rect x="511.20" y="258.15" width="10.00" height="9.00" fill="#d7a0a0" stroke="#8e8e8e" stroke-width="1.0"/>
<rect x="521.20" y="258.15" width="10.00" height="9.00" fill="#d7a0a0" stroke="#8e8e8e" stroke-width="1.0"/>
<rect x="531.20" y="258.15" width="10.00" height="9.00" fill="#d6a4a4" stroke="#8e8e8e" stroke-width="1.0"/>
<rect x="541.20" y="258.15" width="10.00" height="9.00" fill="#d1b6b6" stroke="#8e8e8e" stroke-width="1.0"/>
<rect x="556.80" y="258.15" width="10.00" height="9.00" fill="#8dc1d5" stroke="#8e8e8e" stroke-width="1.0"/>
<rect x="566.80" y="258.15" width="10.00" height="9.00" fill="#8dc1d5" stroke="#8e8e8e" stroke-width="1.0"/>
<rect x="576.80" y="258.15" width="10.00" height="9.00" fill="#8dc1d5" stroke="#8e8e8e" stroke-width="1.0"/>
<rect x="586.80" y="258.15" width="10.00" height="9.00" fill="#8dc1d5" stroke="#8e8e8e" stroke-width="1.0"/>
<rect x="596.80" y="258.15" width="10.00" height="9.00" fill="#8dc1d5" stroke="#8e8e8e" stroke-width="1.0"/>
<rect x="606.80" y="258.15" width="10.00" height="9.00" fill="#8dc1d5" stroke="#8e8e8e" stroke-width="1.0"/>
<rect x="616.80" y="258.15" width="10.00" height="9.00" fill="#8dc1d5" stroke="#8e8e8e" stroke-width="1.0"/>
<text x="631.60" y="265.95" font-size="7.75" font-style="italic" fill="#231f20">NKG7</text>
<rect x="466.40" y="204.15" width="20.00" height="63.00" fill="none" stroke="#8e8e8e" stroke-width="1.15"/>
<rect x="491.20" y="204.15" width="60.00" height="63.00" fill="none" stroke="#8e8e8e" stroke-width="1.15"/>
<rect x="556.80" y="204.15" width="70.00" height="63.00" fill="none" stroke="#8e8e8e" stroke-width="1.15"/>
<rect x="446.1" y="272.48" width="11" height="53.90" fill="#e8961e"/>
<rect x="466.40" y="271.88" width="10.00" height="9.00" fill="#6ebada" stroke="#8e8e8e" stroke-width="1.0"/>
<rect x="476.40" y="271.88" width="10.00" height="9.00" fill="#6ebada" stroke="#8e8e8e" stroke-width="1.0"/>
<rect x="491.20" y="271.88" width="10.00" height="9.00" fill="#a9c6d1" stroke="#8e8e8e" stroke-width="1.0"/>
<rect x="501.20" y="271.88" width="10.00" height="9.00" fill="#aec7d1" stroke="#8e8e8e" stroke-width="1.0"/>
<rect x="511.20" y="271.88" width="10.00" height="9.00" fill="#aec7d1" stroke="#8e8e8e" stroke-width="1.0"/>
<rect x="521.20" y="271.88" width="10.00" height="9.00" fill="#9ac4d3" stroke="#8e8e8e" stroke-width="1.0"/>
<rect x="531.20" y="271.88" width="10.00" height="9.00" fill="#8dc1d5" stroke="#8e8e8e" stroke-width="1.0"/>
<rect x="541.20" y="271.88" width="10.00" height="9.00" fill="#bccacf" stroke="#8e8e8e" stroke-width="1.0"/>
<rect x="556.80" y="271.88" width="10.00" height="9.00" fill="#d99494" stroke="#8e8e8e" stroke-width="1.0"/>
<rect x="566.80" y="271.88" width="10.00" height="9.00" fill="#d2b2b2" stroke="#8e8e8e" stroke-width="1.0"/>
<rect x="576.80" y="271.88" width="10.00" height="9.00" fill="#d99494" stroke="#8e8e8e" stroke-width="1.0"/>
<rect x="586.80" y="271.88" width="10.00" height="9.00" fill="#d5a9a9" stroke="#8e8e8e" stroke-width="1.0"/>
<rect x="596.80" y="271.88" width="10.00" height="9.00" fill="#df6464" stroke="#8e8e8e" stroke-width="1.0"/>
<rect x="606.80" y="271.88" width="10.00" height="9.00" fill="#cbcccd" stroke="#8e8e8e" stroke-width="1.0"/>
<rect x="616.80" y="271.88" width="10.00" height="9.00" fill="#df6464" stroke="#8e8e8e" stroke-width="1.0"/>
<text x="631.60" y="279.68" font-size="7.75" font-style="italic" fill="#231f20">CD28</text>
<rect x="466.40" y="280.88" width="10.00" height="9.00" fill="#7bbdd8" stroke="#8e8e8e" stroke-width="1.0"/>
<rect x="476.40" y="280.88" width="10.00" height="9.00" fill="#91c2d4" stroke="#8e8e8e" stroke-width="1.0"/>
<rect x="491.20" y="280.88" width="10.00" height="9.00" fill="#7bbdd8" stroke="#8e8e8e" stroke-width="1.0"/>
<rect x="501.20" y="280.88" width="10.00" height="9.00" fill="#a9c6d1" stroke="#8e8e8e" stroke-width="1.0"/>
<rect x="511.20" y="280.88" width="10.00" height="9.00" fill="#cdc3c4" stroke="#8e8e8e" stroke-width="1.0"/>
<rect x="521.20" y="280.88" width="10.00" height="9.00" fill="#d7a0a0" stroke="#8e8e8e" stroke-width="1.0"/>
<rect x="531.20" y="280.88" width="10.00" height="9.00" fill="#d2b2b2" stroke="#8e8e8e" stroke-width="1.0"/>
<rect x="541.20" y="280.88" width="10.00" height="9.00" fill="#d0babb" stroke="#8e8e8e" stroke-width="1.0"/>
<rect x="556.80" y="280.88" width="10.00" height="9.00" fill="#d0babb" stroke="#8e8e8e" stroke-width="1.0"/>
<rect x="566.80" y="280.88" width="10.00" height="9.00" fill="#d0babb" stroke="#8e8e8e" stroke-width="1.0"/>
<rect x="576.80" y="280.88" width="10.00" height="9.00" fill="#ccc8c8" stroke="#8e8e8e" stroke-width="1.0"/>
<rect x="586.80" y="280.88" width="10.00" height="9.00" fill="#9ac4d3" stroke="#8e8e8e" stroke-width="1.0"/>
<rect x="596.80" y="280.88" width="10.00" height="9.00" fill="#d7a0a0" stroke="#8e8e8e" stroke-width="1.0"/>
<rect x="606.80" y="280.88" width="10.00" height="9.00" fill="#a4c6d2" stroke="#8e8e8e" stroke-width="1.0"/>
<rect x="616.80" y="280.88" width="10.00" height="9.00" fill="#e53631" stroke="#8e8e8e" stroke-width="1.0"/>
<text x="631.60" y="288.68" font-size="7.75" font-style="italic" fill="#231f20">ICOS</text>
<rect x="466.40" y="289.88" width="10.00" height="9.00" fill="#a4c6d2" stroke="#8e8e8e" stroke-width="1.0"/>
<rect x="476.40" y="289.88" width="10.00" height="9.00" fill="#a4c6d2" stroke="#8e8e8e" stroke-width="1.0"/>
<rect x="491.20" y="289.88" width="10.00" height="9.00" fill="#9ac4d3" stroke="#8e8e8e" stroke-width="1.0"/>
<rect x="501.20" y="289.88" width="10.00" height="9.00" fill="#9ac4d3" stroke="#8e8e8e" stroke-width="1.0"/>
<rect x="511.20" y="289.88" width="10.00" height="9.00" fill="#9ac4d3" stroke="#8e8e8e" stroke-width="1.0"/>
<rect x="521.20" y="289.88" width="10.00" height="9.00" fill="#9fc5d2" stroke="#8e8e8e" stroke-width="1.0"/>
<rect x="531.20" y="289.88" width="10.00" height="9.00" fill="#aec7d1" stroke="#8e8e8e" stroke-width="1.0"/>
<rect x="541.20" y="289.88" width="10.00" height="9.00" fill="#a9c6d1" stroke="#8e8e8e" stroke-width="1.0"/>
<rect x="556.80" y="289.88" width="10.00" height="9.00" fill="#df6464" stroke="#8e8e8e" stroke-width="1.0"/>
<rect x="566.80" y="289.88" width="10.00" height="9.00" fill="#df6464" stroke="#8e8e8e" stroke-width="1.0"/>
<rect x="576.80" y="289.88" width="10.00" height="9.00" fill="#dd7070" stroke="#8e8e8e" stroke-width="1.0"/>
<rect x="586.80" y="289.88" width="10.00" height="9.00" fill="#dd7070" stroke="#8e8e8e" stroke-width="1.0"/>
<rect x="596.80" y="289.88" width="10.00" height="9.00" fill="#d7a0a0" stroke="#8e8e8e" stroke-width="1.0"/>
<rect x="606.80" y="289.88" width="10.00" height="9.00" fill="#aec7d1" stroke="#8e8e8e" stroke-width="1.0"/>
<rect x="616.80" y="289.88" width="10.00" height="9.00" fill="#a4c6d2" stroke="#8e8e8e" stroke-width="1.0"/>
<text x="631.60" y="297.68" font-size="7.75" font-style="italic" fill="#231f20">CD40LG</text>
<rect x="466.40" y="298.88" width="10.00" height="9.00" fill="#a4c6d2" stroke="#8e8e8e" stroke-width="1.0"/>
<rect x="476.40" y="298.88" width="10.00" height="9.00" fill="#c1cace" stroke="#8e8e8e" stroke-width="1.0"/>
<rect x="491.20" y="298.88" width="10.00" height="9.00" fill="#9ac4d3" stroke="#8e8e8e" stroke-width="1.0"/>
<rect x="501.20" y="298.88" width="10.00" height="9.00" fill="#9ac4d3" stroke="#8e8e8e" stroke-width="1.0"/>
<rect x="511.20" y="298.88" width="10.00" height="9.00" fill="#9fc5d2" stroke="#8e8e8e" stroke-width="1.0"/>
<rect x="521.20" y="298.88" width="10.00" height="9.00" fill="#a4c6d2" stroke="#8e8e8e" stroke-width="1.0"/>
<rect x="531.20" y="298.88" width="10.00" height="9.00" fill="#c1cace" stroke="#8e8e8e" stroke-width="1.0"/>
<rect x="541.20" y="298.88" width="10.00" height="9.00" fill="#cbcccd" stroke="#8e8e8e" stroke-width="1.0"/>
<rect x="556.80" y="298.88" width="10.00" height="9.00" fill="#c6cbce" stroke="#8e8e8e" stroke-width="1.0"/>
<rect x="566.80" y="298.88" width="10.00" height="9.00" fill="#c6cbce" stroke="#8e8e8e" stroke-width="1.0"/>
<rect x="576.80" y="298.88" width="10.00" height="9.00" fill="#c6cbce" stroke="#8e8e8e" stroke-width="1.0"/>
<rect x="586.80" y="298.88" width="10.00" height="9.00" fill="#c1cace" stroke="#8e8e8e" stroke-width="1.0"/>
<rect x="596.80" y="298.88" width="10.00" height="9.00" fill="#e15857" stroke="#8e8e8e" stroke-width="1.0"/>
<rect x="606.80" y="298.88" width="10.00" height="9.00" fill="#9ac4d3" stroke="#8e8e8e" stroke-width="1.0"/>
<rect x="616.80" y="298.88" width="10.00" height="9.00" fill="#e53631" stroke="#8e8e8e" stroke-width="1.0"/>
<text x="631.60" y="306.68" font-size="7.75" font-style="italic" fill="#231f20">TNFRSF4</text>
<rect x="466.40" y="307.88" width="10.00" height="9.00" fill="#a4c6d2" stroke="#8e8e8e" stroke-width="1.0"/>
<rect x="476.40" y="307.88" width="10.00" height="9.00" fill="#bccacf" stroke="#8e8e8e" stroke-width="1.0"/>
<rect x="491.20" y="307.88" width="10.00" height="9.00" fill="#9ac4d3" stroke="#8e8e8e" stroke-width="1.0"/>
<rect x="501.20" y="307.88" width="10.00" height="9.00" fill="#9fc5d2" stroke="#8e8e8e" stroke-width="1.0"/>
<rect x="511.20" y="307.88" width="10.00" height="9.00" fill="#c6cbce" stroke="#8e8e8e" stroke-width="1.0"/>
<rect x="521.20" y="307.88" width="10.00" height="9.00" fill="#df6464" stroke="#8e8e8e" stroke-width="1.0"/>
<rect x="531.20" y="307.88" width="10.00" height="9.00" fill="#e15857" stroke="#8e8e8e" stroke-width="1.0"/>
<rect x="541.20" y="307.88" width="10.00" height="9.00" fill="#d7a0a0" stroke="#8e8e8e" stroke-width="1.0"/>
<rect x="556.80" y="307.88" width="10.00" height="9.00" fill="#9ac4d3" stroke="#8e8e8e" stroke-width="1.0"/>
<rect x="566.80" y="307.88" width="10.00" height="9.00" fill="#9ac4d3" stroke="#8e8e8e" stroke-width="1.0"/>
<rect x="576.80" y="307.88" width="10.00" height="9.00" fill="#9ac4d3" stroke="#8e8e8e" stroke-width="1.0"/>
<rect x="586.80" y="307.88" width="10.00" height="9.00" fill="#96c3d4" stroke="#8e8e8e" stroke-width="1.0"/>
<rect x="596.80" y="307.88" width="10.00" height="9.00" fill="#c6cbce" stroke="#8e8e8e" stroke-width="1.0"/>
<rect x="606.80" y="307.88" width="10.00" height="9.00" fill="#91c2d4" stroke="#8e8e8e" stroke-width="1.0"/>
<rect x="616.80" y="307.88" width="10.00" height="9.00" fill="#df6464" stroke="#8e8e8e" stroke-width="1.0"/>
<text x="631.60" y="315.68" font-size="7.75" font-style="italic" fill="#231f20">TNFRSF9</text>
<rect x="466.40" y="316.88" width="10.00" height="9.00" fill="#9ac4d3" stroke="#8e8e8e" stroke-width="1.0"/>
<rect x="476.40" y="316.88" width="10.00" height="9.00" fill="#d5a9a9" stroke="#8e8e8e" stroke-width="1.0"/>
<rect x="491.20" y="316.88" width="10.00" height="9.00" fill="#91c2d4" stroke="#8e8e8e" stroke-width="1.0"/>
<rect x="501.20" y="316.88" width="10.00" height="9.00" fill="#91c2d4" stroke="#8e8e8e" stroke-width="1.0"/>
<rect x="511.20" y="316.88" width="10.00" height="9.00" fill="#96c3d4" stroke="#8e8e8e" stroke-width="1.0"/>
<rect x="521.20" y="316.88" width="10.00" height="9.00" fill="#c1cace" stroke="#8e8e8e" stroke-width="1.0"/>
<rect x="531.20" y="316.88" width="10.00" height="9.00" fill="#df6464" stroke="#8e8e8e" stroke-width="1.0"/>
<rect x="541.20" y="316.88" width="10.00" height="9.00" fill="#d1b6b6" stroke="#8e8e8e" stroke-width="1.0"/>
<rect x="556.80" y="316.88" width="10.00" height="9.00" fill="#9ac4d3" stroke="#8e8e8e" stroke-width="1.0"/>
<rect x="566.80" y="316.88" width="10.00" height="9.00" fill="#9ac4d3" stroke="#8e8e8e" stroke-width="1.0"/>
<rect x="576.80" y="316.88" width="10.00" height="9.00" fill="#9ac4d3" stroke="#8e8e8e" stroke-width="1.0"/>
<rect x="586.80" y="316.88" width="10.00" height="9.00" fill="#9ac4d3" stroke="#8e8e8e" stroke-width="1.0"/>
<rect x="596.80" y="316.88" width="10.00" height="9.00" fill="#dd7070" stroke="#8e8e8e" stroke-width="1.0"/>
<rect x="606.80" y="316.88" width="10.00" height="9.00" fill="#9ac4d3" stroke="#8e8e8e" stroke-width="1.0"/>
<rect x="616.80" y="316.88" width="10.00" height="9.00" fill="#df6464" stroke="#8e8e8e" stroke-width="1.0"/>
<text x="631.60" y="324.68" font-size="7.75" font-style="italic" fill="#231f20">TNFRSF18</text>
<rect x="466.40" y="271.88" width="20.00" height="54.00" fill="none" stroke="#8e8e8e" stroke-width="1.15"/>
<rect x="491.20" y="271.88" width="60.00" height="54.00" fill="none" stroke="#8e8e8e" stroke-width="1.15"/>
<rect x="556.80" y="271.88" width="70.00" height="54.00" fill="none" stroke="#8e8e8e" stroke-width="1.15"/>
<rect x="446.1" y="331.21" width="11" height="17.90" fill="#40aa80"/>
<rect x="466.40" y="330.61" width="10.00" height="9.00" fill="#b2c8d0" stroke="#8e8e8e" stroke-width="1.0"/>
<rect x="476.40" y="330.61" width="10.00" height="9.00" fill="#df6464" stroke="#8e8e8e" stroke-width="1.0"/>
<rect x="491.20" y="330.61" width="10.00" height="9.00" fill="#d1b6b6" stroke="#8e8e8e" stroke-width="1.0"/>
<rect x="501.20" y="330.61" width="10.00" height="9.00" fill="#db8282" stroke="#8e8e8e" stroke-width="1.0"/>
<rect x="511.20" y="330.61" width="10.00" height="9.00" fill="#d99494" stroke="#8e8e8e" stroke-width="1.0"/>
<rect x="521.20" y="330.61" width="10.00" height="9.00" fill="#df6464" stroke="#8e8e8e" stroke-width="1.0"/>
<rect x="531.20" y="330.61" width="10.00" height="9.00" fill="#cfbfc0" stroke="#8e8e8e" stroke-width="1.0"/>
<rect x="541.20" y="330.61" width="10.00" height="9.00" fill="#cdc3c4" stroke="#8e8e8e" stroke-width="1.0"/>
<rect x="556.80" y="330.61" width="10.00" height="9.00" fill="#9ac4d3" stroke="#8e8e8e" stroke-width="1.0"/>
<rect x="566.80" y="330.61" width="10.00" height="9.00" fill="#9ac4d3" stroke="#8e8e8e" stroke-width="1.0"/>
<rect x="576.80" y="330.61" width="10.00" height="9.00" fill="#9ac4d3" stroke="#8e8e8e" stroke-width="1.0"/>
<rect x="586.80" y="330.61" width="10.00" height="9.00" fill="#9ac4d3" stroke="#8e8e8e" stroke-width="1.0"/>
<rect x="596.80" y="330.61" width="10.00" height="9.00" fill="#9ac4d3" stroke="#8e8e8e" stroke-width="1.0"/>
<rect x="606.80" y="330.61" width="10.00" height="9.00" fill="#9ac4d3" stroke="#8e8e8e" stroke-width="1.0"/>
<rect x="616.80" y="330.61" width="10.00" height="9.00" fill="#9ac4d3" stroke="#8e8e8e" stroke-width="1.0"/>
<text x="631.60" y="338.41" font-size="7.75" font-style="italic" fill="#231f20">ZNF683</text>
<rect x="466.40" y="339.61" width="10.00" height="9.00" fill="#91c2d4" stroke="#8e8e8e" stroke-width="1.0"/>
<rect x="476.40" y="339.61" width="10.00" height="9.00" fill="#cfbfc0" stroke="#8e8e8e" stroke-width="1.0"/>
<rect x="491.20" y="339.61" width="10.00" height="9.00" fill="#a9c6d1" stroke="#8e8e8e" stroke-width="1.0"/>
<rect x="501.20" y="339.61" width="10.00" height="9.00" fill="#ccc8c8" stroke="#8e8e8e" stroke-width="1.0"/>
<rect x="511.20" y="339.61" width="10.00" height="9.00" fill="#ccc8c8" stroke="#8e8e8e" stroke-width="1.0"/>
<rect x="521.20" y="339.61" width="10.00" height="9.00" fill="#df6464" stroke="#8e8e8e" stroke-width="1.0"/>
<rect x="531.20" y="339.61" width="10.00" height="9.00" fill="#df6464" stroke="#8e8e8e" stroke-width="1.0"/>
<rect x="541.20" y="339.61" width="10.00" height="9.00" fill="#dc7c7c" stroke="#8e8e8e" stroke-width="1.0"/>
<rect x="556.80" y="339.61" width="10.00" height="9.00" fill="#aec7d1" stroke="#8e8e8e" stroke-width="1.0"/>
<rect x="566.80" y="339.61" width="10.00" height="9.00" fill="#aec7d1" stroke="#8e8e8e" stroke-width="1.0"/>
<rect x="576.80" y="339.61" width="10.00" height="9.00" fill="#aec7d1" stroke="#8e8e8e" stroke-width="1.0"/>
<rect x="586.80" y="339.61" width="10.00" height="9.00" fill="#a4c6d2" stroke="#8e8e8e" stroke-width="1.0"/>
<rect x="596.80" y="339.61" width="10.00" height="9.00" fill="#d7a0a0" stroke="#8e8e8e" stroke-width="1.0"/>
<rect x="606.80" y="339.61" width="10.00" height="9.00" fill="#77bcd9" stroke="#8e8e8e" stroke-width="1.0"/>
<rect x="616.80" y="339.61" width="10.00" height="9.00" fill="#aec7d1" stroke="#8e8e8e" stroke-width="1.0"/>
<text x="631.60" y="347.41" font-size="7.75" font-style="italic" fill="#231f20">ITGAE</text>
<rect x="466.40" y="330.61" width="20.00" height="18.00" fill="none" stroke="#8e8e8e" stroke-width="1.15"/>
<rect x="491.20" y="330.61" width="60.00" height="18.00" fill="none" stroke="#8e8e8e" stroke-width="1.15"/>
<rect x="556.80" y="330.61" width="70.00" height="18.00" fill="none" stroke="#8e8e8e" stroke-width="1.15"/>
<rect x="446.1" y="353.94" width="11" height="35.90" fill="#b07882"/>
<rect x="466.40" y="353.34" width="10.00" height="9.00" fill="#e15857" stroke="#8e8e8e" stroke-width="1.0"/>
<rect x="476.40" y="353.34" width="10.00" height="9.00" fill="#dd7070" stroke="#8e8e8e" stroke-width="1.0"/>
<rect x="491.20" y="353.34" width="10.00" height="9.00" fill="#a4c6d2" stroke="#8e8e8e" stroke-width="1.0"/>
<rect x="501.20" y="353.34" width="10.00" height="9.00" fill="#cbcccd" stroke="#8e8e8e" stroke-width="1.0"/>
<rect x="511.20" y="353.34" width="10.00" height="9.00" fill="#d99494" stroke="#8e8e8e" stroke-width="1.0"/>
<rect x="521.20" y="353.34" width="10.00" height="9.00" fill="#db8282" stroke="#8e8e8e" stroke-width="1.0"/>
<rect x="531.20" y="353.34" width="10.00" height="9.00" fill="#db8282" stroke="#8e8e8e" stroke-width="1.0"/>
<rect x="541.20" y="353.34" width="10.00" height="9.00" fill="#d7a0a0" stroke="#8e8e8e" stroke-width="1.0"/>
<rect x="556.80" y="353.34" width="10.00" height="9.00" fill="#9ac4d3" stroke="#8e8e8e" stroke-width="1.0"/>
<rect x="566.80" y="353.34" width="10.00" height="9.00" fill="#9ac4d3" stroke="#8e8e8e" stroke-width="1.0"/>
<rect x="576.80" y="353.34" width="10.00" height="9.00" fill="#9ac4d3" stroke="#8e8e8e" stroke-width="1.0"/>
<rect x="586.80" y="353.34" width="10.00" height="9.00" fill="#9ac4d3" stroke="#8e8e8e" stroke-width="1.0"/>
<rect x="596.80" y="353.34" width="10.00" height="9.00" fill="#9ac4d3" stroke="#8e8e8e" stroke-width="1.0"/>
<rect x="606.80" y="353.34" width="10.00" height="9.00" fill="#9ac4d3" stroke="#8e8e8e" stroke-width="1.0"/>
<rect x="616.80" y="353.34" width="10.00" height="9.00" fill="#9ac4d3" stroke="#8e8e8e" stroke-width="1.0"/>
<text x="631.60" y="361.14" font-size="7.75" font-style="italic" fill="#231f20">CCL3</text>
<rect x="466.40" y="362.34" width="10.00" height="9.00" fill="#d99494" stroke="#8e8e8e" stroke-width="1.0"/>
<rect x="476.40" y="362.34" width="10.00" height="9.00" fill="#d89a9a" stroke="#8e8e8e" stroke-width="1.0"/>
<rect x="491.20" y="362.34" width="10.00" height="9.00" fill="#db8282" stroke="#8e8e8e" stroke-width="1.0"/>
<rect x="501.20" y="362.34" width="10.00" height="9.00" fill="#db8282" stroke="#8e8e8e" stroke-width="1.0"/>
<rect x="511.20" y="362.34" width="10.00" height="9.00" fill="#db8282" stroke="#8e8e8e" stroke-width="1.0"/>
<rect x="521.20" y="362.34" width="10.00" height="9.00" fill="#d98e8e" stroke="#8e8e8e" stroke-width="1.0"/>
<rect x="531.20" y="362.34" width="10.00" height="9.00" fill="#d2b2b2" stroke="#8e8e8e" stroke-width="1.0"/>
<rect x="541.20" y="362.34" width="10.00" height="9.00" fill="#cbcccd" stroke="#8e8e8e" stroke-width="1.0"/>
<rect x="556.80" y="362.34" width="10.00" height="9.00" fill="#9ac4d3" stroke="#8e8e8e" stroke-width="1.0"/>
<rect x="566.80" y="362.34" width="10.00" height="9.00" fill="#cbcccd" stroke="#8e8e8e" stroke-width="1.0"/>
<rect x="576.80" y="362.34" width="10.00" height="9.00" fill="#9ac4d3" stroke="#8e8e8e" stroke-width="1.0"/>
<rect x="586.80" y="362.34" width="10.00" height="9.00" fill="#9ac4d3" stroke="#8e8e8e" stroke-width="1.0"/>
<rect x="596.80" y="362.34" width="10.00" height="9.00" fill="#77bcd9" stroke="#8e8e8e" stroke-width="1.0"/>
<rect x="606.80" y="362.34" width="10.00" height="9.00" fill="#77bcd9" stroke="#8e8e8e" stroke-width="1.0"/>
<rect x="616.80" y="362.34" width="10.00" height="9.00" fill="#77bcd9" stroke="#8e8e8e" stroke-width="1.0"/>
<text x="631.60" y="370.14" font-size="7.75" font-style="italic" fill="#231f20">CCL5</text>
<rect x="466.40" y="371.34" width="10.00" height="9.00" fill="#a9c6d1" stroke="#8e8e8e" stroke-width="1.0"/>
<rect x="476.40" y="371.34" width="10.00" height="9.00" fill="#a9c6d1" stroke="#8e8e8e" stroke-width="1.0"/>
<rect x="491.20" y="371.34" width="10.00" height="9.00" fill="#a9c6d1" stroke="#8e8e8e" stroke-width="1.0"/>
<rect x="501.20" y="371.34" width="10.00" height="9.00" fill="#aec7d1" stroke="#8e8e8e" stroke-width="1.0"/>
<rect x="511.20" y="371.34" width="10.00" height="9.00" fill="#aec7d1" stroke="#8e8e8e" stroke-width="1.0"/>
<rect x="521.20" y="371.34" width="10.00" height="9.00" fill="#d0babb" stroke="#8e8e8e" stroke-width="1.0"/>
<rect x="531.20" y="371.34" width="10.00" height="9.00" fill="#e15351" stroke="#8e8e8e" stroke-width="1.0"/>
<rect x="541.20" y="371.34" width="10.00" height="9.00" fill="#d3adae" stroke="#8e8e8e" stroke-width="1.0"/>
<rect x="556.80" y="371.34" width="10.00" height="9.00" fill="#aec7d1" stroke="#8e8e8e" stroke-width="1.0"/>
<rect x="566.80" y="371.34" width="10.00" height="9.00" fill="#aec7d1" stroke="#8e8e8e" stroke-width="1.0"/>
<rect x="576.80" y="371.34" width="10.00" height="9.00" fill="#aec7d1" stroke="#8e8e8e" stroke-width="1.0"/>
<rect x="586.80" y="371.34" width="10.00" height="9.00" fill="#aec7d1" stroke="#8e8e8e" stroke-width="1.0"/>
<rect x="596.80" y="371.34" width="10.00" height="9.00" fill="#e34744" stroke="#8e8e8e" stroke-width="1.0"/>
<rect x="606.80" y="371.34" width="10.00" height="9.00" fill="#b2c8d0" stroke="#8e8e8e" stroke-width="1.0"/>
<rect x="616.80" y="371.34" width="10.00" height="9.00" fill="#b2c8d0" stroke="#8e8e8e" stroke-width="1.0"/>
<text x="631.60" y="379.14" font-size="7.75" font-style="italic" fill="#231f20">CXCL13</text>
<rect x="466.40" y="380.34" width="10.00" height="9.00" fill="#aec7d1" stroke="#8e8e8e" stroke-width="1.0"/>
<rect x="476.40" y="380.34" width="10.00" height="9.00" fill="#aec7d1" stroke="#8e8e8e" stroke-width="1.0"/>
<rect x="491.20" y="380.34" width="10.00" height="9.00" fill="#aec7d1" stroke="#8e8e8e" stroke-width="1.0"/>
<rect x="501.20" y="380.34" width="10.00" height="9.00" fill="#aec7d1" stroke="#8e8e8e" stroke-width="1.0"/>
<rect x="511.20" y="380.34" width="10.00" height="9.00" fill="#b2c8d0" stroke="#8e8e8e" stroke-width="1.0"/>
<rect x="521.20" y="380.34" width="10.00" height="9.00" fill="#bccacf" stroke="#8e8e8e" stroke-width="1.0"/>
<rect x="531.20" y="380.34" width="10.00" height="9.00" fill="#d0babb" stroke="#8e8e8e" stroke-width="1.0"/>
<rect x="541.20" y="380.34" width="10.00" height="9.00" fill="#d0babb" stroke="#8e8e8e" stroke-width="1.0"/>
<rect x="556.80" y="380.34" width="10.00" height="9.00" fill="#cbcccd" stroke="#8e8e8e" stroke-width="1.0"/>
<rect x="566.80" y="380.34" width="10.00" height="9.00" fill="#cdc3c4" stroke="#8e8e8e" stroke-width="1.0"/>
<rect x="576.80" y="380.34" width="10.00" height="9.00" fill="#cbcccd" stroke="#8e8e8e" stroke-width="1.0"/>
<rect x="586.80" y="380.34" width="10.00" height="9.00" fill="#c1cace" stroke="#8e8e8e" stroke-width="1.0"/>
<rect x="596.80" y="380.34" width="10.00" height="9.00" fill="#e72a24" stroke="#8e8e8e" stroke-width="1.0"/>
<rect x="606.80" y="380.34" width="10.00" height="9.00" fill="#c6cbce" stroke="#8e8e8e" stroke-width="1.0"/>
<rect x="616.80" y="380.34" width="10.00" height="9.00" fill="#c6cbce" stroke="#8e8e8e" stroke-width="1.0"/>
<text x="631.60" y="388.14" font-size="7.75" font-style="italic" fill="#231f20">IL21</text>
<rect x="466.40" y="353.34" width="20.00" height="36.00" fill="none" stroke="#8e8e8e" stroke-width="1.15"/>
<rect x="491.20" y="353.34" width="60.00" height="36.00" fill="none" stroke="#8e8e8e" stroke-width="1.15"/>
<rect x="556.80" y="353.34" width="70.00" height="36.00" fill="none" stroke="#8e8e8e" stroke-width="1.15"/>
<rect x="446.1" y="394.67" width="11" height="17.90" fill="#8a5038"/>
<rect x="466.40" y="394.07" width="10.00" height="9.00" fill="#bccacf" stroke="#8e8e8e" stroke-width="1.0"/>
<rect x="476.40" y="394.07" width="10.00" height="9.00" fill="#c6cbce" stroke="#8e8e8e" stroke-width="1.0"/>
<rect x="491.20" y="394.07" width="10.00" height="9.00" fill="#c6cbce" stroke="#8e8e8e" stroke-width="1.0"/>
<rect x="501.20" y="394.07" width="10.00" height="9.00" fill="#c6cbce" stroke="#8e8e8e" stroke-width="1.0"/>
<rect x="511.20" y="394.07" width="10.00" height="9.00" fill="#c6cbce" stroke="#8e8e8e" stroke-width="1.0"/>
<rect x="521.20" y="394.07" width="10.00" height="9.00" fill="#c6cbce" stroke="#8e8e8e" stroke-width="1.0"/>
<rect x="531.20" y="394.07" width="10.00" height="9.00" fill="#c6cbce" stroke="#8e8e8e" stroke-width="1.0"/>
<rect x="541.20" y="394.07" width="10.00" height="9.00" fill="#e72a24" stroke="#8e8e8e" stroke-width="1.0"/>
<rect x="556.80" y="394.07" width="10.00" height="9.00" fill="#b7c9cf" stroke="#8e8e8e" stroke-width="1.0"/>
<rect x="566.80" y="394.07" width="10.00" height="9.00" fill="#b7c9cf" stroke="#8e8e8e" stroke-width="1.0"/>
<rect x="576.80" y="394.07" width="10.00" height="9.00" fill="#b7c9cf" stroke="#8e8e8e" stroke-width="1.0"/>
<rect x="586.80" y="394.07" width="10.00" height="9.00" fill="#b7c9cf" stroke="#8e8e8e" stroke-width="1.0"/>
<rect x="596.80" y="394.07" width="10.00" height="9.00" fill="#bccacf" stroke="#8e8e8e" stroke-width="1.0"/>
<rect x="606.80" y="394.07" width="10.00" height="9.00" fill="#bccacf" stroke="#8e8e8e" stroke-width="1.0"/>
<rect x="616.80" y="394.07" width="10.00" height="9.00" fill="#c1cace" stroke="#8e8e8e" stroke-width="1.0"/>
<text x="631.60" y="401.87" font-size="7.75" font-style="italic" fill="#231f20">MKI67</text>
<rect x="466.40" y="403.07" width="10.00" height="9.00" fill="#cbcccd" stroke="#8e8e8e" stroke-width="1.0"/>
<rect x="476.40" y="403.07" width="10.00" height="9.00" fill="#ccc8c8" stroke="#8e8e8e" stroke-width="1.0"/>
<rect x="491.20" y="403.07" width="10.00" height="9.00" fill="#cbcccd" stroke="#8e8e8e" stroke-width="1.0"/>
<rect x="501.20" y="403.07" width="10.00" height="9.00" fill="#cbcccd" stroke="#8e8e8e" stroke-width="1.0"/>
<rect x="511.20" y="403.07" width="10.00" height="9.00" fill="#cbcccd" stroke="#8e8e8e" stroke-width="1.0"/>
<rect x="521.20" y="403.07" width="10.00" height="9.00" fill="#cbcccd" stroke="#8e8e8e" stroke-width="1.0"/>
<rect x="531.20" y="403.07" width="10.00" height="9.00" fill="#cfbfc0" stroke="#8e8e8e" stroke-width="1.0"/>
<rect x="541.20" y="403.07" width="10.00" height="9.00" fill="#e72a24" stroke="#8e8e8e" stroke-width="1.0"/>
<rect x="556.80" y="403.07" width="10.00" height="9.00" fill="#b2c8d0" stroke="#8e8e8e" stroke-width="1.0"/>
<rect x="566.80" y="403.07" width="10.00" height="9.00" fill="#b2c8d0" stroke="#8e8e8e" stroke-width="1.0"/>
<rect x="576.80" y="403.07" width="10.00" height="9.00" fill="#b2c8d0" stroke="#8e8e8e" stroke-width="1.0"/>
<rect x="586.80" y="403.07" width="10.00" height="9.00" fill="#b2c8d0" stroke="#8e8e8e" stroke-width="1.0"/>
<rect x="596.80" y="403.07" width="10.00" height="9.00" fill="#b2c8d0" stroke="#8e8e8e" stroke-width="1.0"/>
<rect x="606.80" y="403.07" width="10.00" height="9.00" fill="#aec7d1" stroke="#8e8e8e" stroke-width="1.0"/>
<rect x="616.80" y="403.07" width="10.00" height="9.00" fill="#b7c9cf" stroke="#8e8e8e" stroke-width="1.0"/>
<text x="631.60" y="410.87" font-size="7.75" font-style="italic" fill="#231f20">STMN1</text>
<rect x="466.40" y="394.07" width="20.00" height="18.00" fill="none" stroke="#8e8e8e" stroke-width="1.15"/>
<rect x="491.20" y="394.07" width="60.00" height="18.00" fill="none" stroke="#8e8e8e" stroke-width="1.15"/>
<rect x="556.80" y="394.07" width="70.00" height="18.00" fill="none" stroke="#8e8e8e" stroke-width="1.15"/>
<text transform="translate(474.40,414.0) rotate(-90)" font-size="8.3" text-anchor="end" fill="#231f20">NK_FGFBP2</text>
<text transform="translate(484.40,414.0) rotate(-90)" font-size="8.3" text-anchor="end" fill="#231f20">NK_XCL1</text>
<text transform="translate(499.20,414.0) rotate(-90)" font-size="8.3" text-anchor="end" fill="#231f20">CD8_GZMK</text>
<text transform="translate(509.20,414.0) rotate(-90)" font-size="8.3" text-anchor="end" fill="#231f20">CD8_ISG</text>
<text transform="translate(519.20,414.0) rotate(-90)" font-size="8.3" text-anchor="end" fill="#231f20">CD8_ZNF683</text>
<text transform="translate(529.20,414.0) rotate(-90)" font-size="8.3" text-anchor="end" fill="#231f20">CD8_SPRY1</text>
<text transform="translate(539.20,414.0) rotate(-90)" font-size="8.3" text-anchor="end" fill="#231f20">CD8_HAVCR2</text>
<text transform="translate(549.20,414.0) rotate(-90)" font-size="8.3" text-anchor="end" fill="#231f20">CD8_Cycling</text>
<text transform="translate(564.80,414.0) rotate(-90)" font-size="8.3" text-anchor="end" fill="#231f20">CD4_IL7R</text>
<text transform="translate(574.80,414.0) rotate(-90)" font-size="8.3" text-anchor="end" fill="#231f20">CD4_ISG</text>
<text transform="translate(584.80,414.0) rotate(-90)" font-size="8.3" text-anchor="end" fill="#231f20">CD4_NR4A1</text>
<text transform="translate(594.80,414.0) rotate(-90)" font-size="8.3" text-anchor="end" fill="#231f20">CD4_TIMP1</text>
<text transform="translate(604.80,414.0) rotate(-90)" font-size="8.3" text-anchor="end" fill="#231f20">CD4_CXCL13</text>
<text transform="translate(614.80,414.0) rotate(-90)" font-size="8.3" text-anchor="end" fill="#231f20">CD4_XIST</text>
<text transform="translate(624.80,414.0) rotate(-90)" font-size="8.3" text-anchor="end" fill="#231f20">CD4_FOXP3</text>
<rect x="27.2" y="218" width="324.1" height="33.3" rx="5" ry="5" fill="#f1ebd0"/>
<rect x="27.2" y="253.2" width="324.1" height="112" rx="5" ry="5" fill="#c7dee6"/>
<rect x="27.2" y="367" width="324.1" height="32.6" rx="5" ry="5" fill="#e7e0da"/>
<rect x="27.2" y="401.8" width="324.1" height="22.3" rx="5" ry="5" fill="#f1d3d8"/>
<text x="342.00" y="229.60" font-size="7.8" font-weight="bold" text-anchor="end" fill="#231f20">Differentiation</text>
<text x="342.00" y="265.20" font-size="7.8" font-weight="bold" text-anchor="end" fill="#231f20">Function</text>
<text x="342.00" y="383.80" font-size="7.8" font-weight="bold" text-anchor="end" fill="#231f20">Metabolism</text>
<text x="342.00" y="414.90" font-size="7.8" font-weight="bold" text-anchor="end" fill="#231f20">Apoptosis</text>
<rect x="33.7" y="219.3" width="61.89999999999999" height="32.39999999999998" fill="#fff" stroke="#4a4a4a" stroke-width="0.8"/>
<line x1="38.90" y1="219.3" x2="38.90" y2="251.7" stroke="#ececec" stroke-width="0.5"/>
<line x1="47.53" y1="219.3" x2="47.53" y2="251.7" stroke="#ececec" stroke-width="0.5"/>
<line x1="56.16" y1="219.3" x2="56.16" y2="251.7" stroke="#ececec" stroke-width="0.5"/>
<line x1="64.79" y1="219.3" x2="64.79" y2="251.7" stroke="#ececec" stroke-width="0.5"/>
<line x1="73.42" y1="219.3" x2="73.42" y2="251.7" stroke="#ececec" stroke-width="0.5"/>
<line x1="82.05" y1="219.3" x2="82.05" y2="251.7" stroke="#ececec" stroke-width="0.5"/>
<line x1="90.68" y1="219.3" x2="90.68" y2="251.7" stroke="#ececec" stroke-width="0.5"/>
<line x1="33.7" y1="225.40" x2="95.6" y2="225.40" stroke="#ececec" stroke-width="0.5"/>
<circle cx="38.90" cy="225.40" r="4.21" fill="#d64637"/>
<circle cx="47.53" cy="225.40" r="4.21" fill="#dc5547"/>
<circle cx="56.16" cy="225.40" r="3.92" fill="#f4b6ac"/>
<circle cx="64.79" cy="225.40" r="3.92" fill="#ee9488"/>
<circle cx="73.42" cy="225.40" r="3.92" fill="#ee9488"/>
<circle cx="82.05" cy="225.40" r="3.92" fill="#f6c6be"/>
<circle cx="90.68" cy="225.40" r="3.92" fill="#f6c6be"/>
<line x1="95.6" y1="225.40" x2="97.8" y2="225.40" stroke="#4a4a4a" stroke-width="0.6"/>
<text x="100.80" y="228.10" font-size="7.5" fill="#231f20">Naïve</text>
<line x1="33.7" y1="235.20" x2="95.6" y2="235.20" stroke="#ececec" stroke-width="0.5"/>
<circle cx="38.90" cy="235.20" r="3.34" fill="#f8eaea"/>
<circle cx="47.53" cy="235.20" r="3.05" fill="#f1f0f6"/>
<circle cx="56.16" cy="235.20" r="3.63" fill="#f7dedb"/>
<circle cx="64.79" cy="235.20" r="2.76" fill="#f8f6f8"/>
<circle cx="73.42" cy="235.20" r="2.47" fill="#f8f6f8"/>
<circle cx="82.05" cy="235.20" r="3.05" fill="#eeedf5"/>
<circle cx="90.68" cy="235.20" r="3.05" fill="#e7e7f3"/>
<line x1="95.6" y1="235.20" x2="97.8" y2="235.20" stroke="#4a4a4a" stroke-width="0.6"/>
<text x="100.80" y="237.90" font-size="7.5" fill="#231f20">Activation</text>
<line x1="33.7" y1="245.20" x2="95.6" y2="245.20" stroke="#ececec" stroke-width="0.5"/>
<circle cx="38.90" cy="245.20" r="3.05" fill="#e3e4f2"/>
<circle cx="47.53" cy="245.20" r="3.05" fill="#e3e4f2"/>
<circle cx="56.16" cy="245.20" r="3.05" fill="#e7e7f3"/>
<circle cx="64.79" cy="245.20" r="2.91" fill="#e3e4f2"/>
<circle cx="73.42" cy="245.20" r="2.76" fill="#f8f6f8"/>
<circle cx="82.05" cy="245.20" r="3.92" fill="#f4b6ac"/>
<circle cx="90.68" cy="245.20" r="4.21" fill="#e67466"/>
<line x1="95.6" y1="245.20" x2="97.8" y2="245.20" stroke="#4a4a4a" stroke-width="0.6"/>
<text x="100.80" y="247.90" font-size="7.5" fill="#231f20">Exhaustion</text>
<rect x="33.7" y="263.3" width="61.89999999999999" height="92.19999999999999" fill="#fff" stroke="#4a4a4a" stroke-width="0.8"/>
<line x1="38.90" y1="263.3" x2="38.90" y2="355.5" stroke="#ececec" stroke-width="0.5"/>
<line x1="47.53" y1="263.3" x2="47.53" y2="355.5" stroke="#ececec" stroke-width="0.5"/>
<line x1="56.16" y1="263.3" x2="56.16" y2="355.5" stroke="#ececec" stroke-width="0.5"/>
<line x1="64.79" y1="263.3" x2="64.79" y2="355.5" stroke="#ececec" stroke-width="0.5"/>
<line x1="73.42" y1="263.3" x2="73.42" y2="355.5" stroke="#ececec" stroke-width="0.5"/>
<line x1="82.05" y1="263.3" x2="82.05" y2="355.5" stroke="#ececec" stroke-width="0.5"/>
<line x1="90.68" y1="263.3" x2="90.68" y2="355.5" stroke="#ececec" stroke-width="0.5"/>
<line x1="33.7" y1="269.40" x2="95.6" y2="269.40" stroke="#ececec" stroke-width="0.5"/>
<circle cx="38.90" cy="269.40" r="4.21" fill="#dc5547"/>
<circle cx="47.53" cy="269.40" r="4.36" fill="#d03a2e"/>
<circle cx="56.16" cy="269.40" r="4.21" fill="#e16556"/>
<circle cx="64.79" cy="269.40" r="4.21" fill="#ec8476"/>
<circle cx="73.42" cy="269.40" r="4.06" fill="#f4b6ac"/>
<circle cx="82.05" cy="269.40" r="4.21" fill="#e16556"/>
<circle cx="90.68" cy="269.40" r="4.21" fill="#dc5547"/>
<line x1="95.6" y1="269.40" x2="97.8" y2="269.40" stroke="#4a4a4a" stroke-width="0.6"/>
<text x="100.80" y="272.10" font-size="7.5" fill="#231f20">TCR signaling</text>
<line x1="33.7" y1="279.20" x2="95.6" y2="279.20" stroke="#ececec" stroke-width="0.5"/>
<circle cx="38.90" cy="279.20" r="3.05" fill="#f5f3f7"/>
<circle cx="47.53" cy="279.20" r="3.05" fill="#f5f3f7"/>
<circle cx="56.16" cy="279.20" r="3.63" fill="#f8eaea"/>
<circle cx="64.79" cy="279.20" r="2.76" fill="#f5f3f7"/>
<circle cx="73.42" cy="279.20" r="3.05" fill="#eeedf5"/>
<circle cx="82.05" cy="279.20" r="3.05" fill="#e0e1f1"/>
<circle cx="90.68" cy="279.20" r="3.05" fill="#e7e7f3"/>
<line x1="95.6" y1="279.20" x2="97.8" y2="279.20" stroke="#4a4a4a" stroke-width="0.6"/>
<text x="100.80" y="281.90" font-size="7.5" fill="#231f20">Cytotoxicity</text>
<line x1="33.7" y1="289.10" x2="95.6" y2="289.10" stroke="#ececec" stroke-width="0.5"/>
<circle cx="38.90" cy="289.10" r="3.63" fill="#f7dedb"/>
<circle cx="47.53" cy="289.10" r="3.63" fill="#f7dedb"/>
<circle cx="56.16" cy="289.10" r="3.63" fill="#f7dedb"/>
<circle cx="64.79" cy="289.10" r="3.63" fill="#f7dedb"/>
<circle cx="73.42" cy="289.10" r="3.05" fill="#f8f1f2"/>
<circle cx="82.05" cy="289.10" r="3.34" fill="#f8eaea"/>
<circle cx="90.68" cy="289.10" r="4.06" fill="#f1a59a"/>
<line x1="95.6" y1="289.10" x2="97.8" y2="289.10" stroke="#4a4a4a" stroke-width="0.6"/>
<text x="100.80" y="291.80" font-size="7.5" fill="#231f20">Cytokine</text>
<line x1="33.7" y1="299.10" x2="95.6" y2="299.10" stroke="#ececec" stroke-width="0.5"/>
<circle cx="38.90" cy="299.10" r="3.92" fill="#f6c6be"/>
<circle cx="47.53" cy="299.10" r="3.92" fill="#f6c6be"/>
<circle cx="56.16" cy="299.10" r="3.92" fill="#f4b6ac"/>
<circle cx="64.79" cy="299.10" r="3.92" fill="#f6d2cc"/>
<circle cx="73.42" cy="299.10" r="3.63" fill="#f7dedb"/>
<circle cx="82.05" cy="299.10" r="3.92" fill="#f4b6ac"/>
<circle cx="90.68" cy="299.10" r="2.76" fill="#f8f6f8"/>
<line x1="95.6" y1="299.10" x2="97.8" y2="299.10" stroke="#4a4a4a" stroke-width="0.6"/>
<text x="100.80" y="301.80" font-size="7.5" fill="#231f20">Chemokine</text>
<line x1="33.7" y1="309.10" x2="95.6" y2="309.10" stroke="#ececec" stroke-width="0.5"/>
<circle cx="38.90" cy="309.10" r="4.06" fill="#f6c6be"/>
<circle cx="47.53" cy="309.10" r="4.06" fill="#f4b6ac"/>
<circle cx="56.16" cy="309.10" r="4.06" fill="#f4b6ac"/>
<circle cx="64.79" cy="309.10" r="4.06" fill="#f6c6be"/>
<circle cx="73.42" cy="309.10" r="3.92" fill="#f7dedb"/>
<circle cx="82.05" cy="309.10" r="4.06" fill="#f6c6be"/>
<circle cx="90.68" cy="309.10" r="4.06" fill="#f6c6be"/>
<line x1="95.6" y1="309.10" x2="97.8" y2="309.10" stroke="#4a4a4a" stroke-width="0.6"/>
<text x="100.80" y="311.80" font-size="7.5" fill="#231f20">Adhesion</text>
<line x1="33.7" y1="319.10" x2="95.6" y2="319.10" stroke="#ececec" stroke-width="0.5"/>
<circle cx="38.90" cy="319.10" r="3.05" fill="#f1f0f6"/>
<circle cx="47.53" cy="319.10" r="3.05" fill="#eeedf5"/>
<circle cx="56.16" cy="319.10" r="3.05" fill="#eeedf5"/>
<circle cx="64.79" cy="319.10" r="2.76" fill="#f8f6f8"/>
<circle cx="73.42" cy="319.10" r="2.76" fill="#f8f6f8"/>
<circle cx="82.05" cy="319.10" r="2.76" fill="#f1f0f6"/>
<circle cx="90.68" cy="319.10" r="2.76" fill="#f8f6f8"/>
<line x1="95.6" y1="319.10" x2="97.8" y2="319.10" stroke="#4a4a4a" stroke-width="0.6"/>
<text x="100.80" y="321.80" font-size="7.5" fill="#231f20">Stress response</text>
<line x1="33.7" y1="329.10" x2="95.6" y2="329.10" stroke="#ececec" stroke-width="0.5"/>
<circle cx="38.90" cy="329.10" r="2.91" fill="#e3e4f2"/>
<circle cx="47.53" cy="329.10" r="2.91" fill="#e7e7f3"/>
<circle cx="56.16" cy="329.10" r="4.21" fill="#d64637"/>
<circle cx="64.79" cy="329.10" r="2.76" fill="#eeedf5"/>
<circle cx="73.42" cy="329.10" r="2.76" fill="#f8f6f8"/>
<circle cx="82.05" cy="329.10" r="2.91" fill="#e3e4f2"/>
<circle cx="90.68" cy="329.10" r="3.05" fill="#f8eaea"/>
<line x1="95.6" y1="329.10" x2="97.8" y2="329.10" stroke="#4a4a4a" stroke-width="0.6"/>
<text x="100.80" y="331.80" font-size="7.5" fill="#231f20">IFN response</text>
<line x1="33.7" y1="339.10" x2="95.6" y2="339.10" stroke="#ececec" stroke-width="0.5"/>
<circle cx="38.90" cy="339.10" r="2.76" fill="#e0e1f1"/>
<circle cx="47.53" cy="339.10" r="2.76" fill="#e0e1f1"/>
<circle cx="56.16" cy="339.10" r="2.76" fill="#e0e1f1"/>
<circle cx="64.79" cy="339.10" r="2.62" fill="#e0e1f1"/>
<circle cx="73.42" cy="339.10" r="2.47" fill="#f8f6f8"/>
<circle cx="82.05" cy="339.10" r="3.05" fill="#f8efef"/>
<circle cx="90.68" cy="339.10" r="4.21" fill="#dc5547"/>
<line x1="95.6" y1="339.10" x2="97.8" y2="339.10" stroke="#4a4a4a" stroke-width="0.6"/>
<text x="100.80" y="341.80" font-size="7.5" fill="#231f20">Treg signature</text>
<line x1="33.7" y1="349.20" x2="95.6" y2="349.20" stroke="#ececec" stroke-width="0.5"/>
<circle cx="38.90" cy="349.20" r="2.47" fill="#f8f6f8"/>
<circle cx="47.53" cy="349.20" r="2.47" fill="#f8f6f8"/>
<circle cx="56.16" cy="349.20" r="2.47" fill="#f8f6f8"/>
<circle cx="64.79" cy="349.20" r="3.05" fill="#f8eaea"/>
<circle cx="73.42" cy="349.20" r="2.76" fill="#f8f6f8"/>
<circle cx="82.05" cy="349.20" r="3.92" fill="#f4b6ac"/>
<circle cx="90.68" cy="349.20" r="4.21" fill="#e67466"/>
<line x1="95.6" y1="349.20" x2="97.8" y2="349.20" stroke="#4a4a4a" stroke-width="0.6"/>
<text x="100.80" y="351.90" font-size="7.5" fill="#231f20">Costimulatory</text>
<rect x="33.7" y="367.8" width="61.89999999999999" height="31.099999999999966" fill="#fff" stroke="#4a4a4a" stroke-width="0.8"/>
<line x1="38.90" y1="367.8" x2="38.90" y2="398.9" stroke="#ececec" stroke-width="0.5"/>
<line x1="47.53" y1="367.8" x2="47.53" y2="398.9" stroke="#ececec" stroke-width="0.5"/>
<line x1="56.16" y1="367.8" x2="56.16" y2="398.9" stroke="#ececec" stroke-width="0.5"/>
<line x1="64.79" y1="367.8" x2="64.79" y2="398.9" stroke="#ececec" stroke-width="0.5"/>
<line x1="73.42" y1="367.8" x2="73.42" y2="398.9" stroke="#ececec" stroke-width="0.5"/>
<line x1="82.05" y1="367.8" x2="82.05" y2="398.9" stroke="#ececec" stroke-width="0.5"/>
<line x1="90.68" y1="367.8" x2="90.68" y2="398.9" stroke="#ececec" stroke-width="0.5"/>
<line x1="33.7" y1="373.50" x2="95.6" y2="373.50" stroke="#ececec" stroke-width="0.5"/>
<circle cx="38.90" cy="373.50" r="4.36" fill="#d64637"/>
<circle cx="47.53" cy="373.50" r="4.36" fill="#d64637"/>
<circle cx="56.16" cy="373.50" r="4.36" fill="#e16556"/>
<circle cx="64.79" cy="373.50" r="4.36" fill="#dc5547"/>
<circle cx="73.42" cy="373.50" r="4.36" fill="#dc5547"/>
<circle cx="82.05" cy="373.50" r="4.36" fill="#ca2f25"/>
<circle cx="90.68" cy="373.50" r="4.36" fill="#d03a2e"/>
<line x1="95.6" y1="373.50" x2="97.8" y2="373.50" stroke="#4a4a4a" stroke-width="0.6"/>
<text x="100.80" y="376.20" font-size="7.5" fill="#231f20">OXPHOS</text>
<line x1="33.7" y1="383.20" x2="95.6" y2="383.20" stroke="#ececec" stroke-width="0.5"/>
<circle cx="38.90" cy="383.20" r="4.06" fill="#f4b6ac"/>
<circle cx="47.53" cy="383.20" r="4.21" fill="#ec8476"/>
<circle cx="56.16" cy="383.20" r="4.21" fill="#ee9488"/>
<circle cx="64.79" cy="383.20" r="4.06" fill="#f6c6be"/>
<circle cx="73.42" cy="383.20" r="3.05" fill="#f1f0f6"/>
<circle cx="82.05" cy="383.20" r="4.21" fill="#ec8476"/>
<circle cx="90.68" cy="383.20" r="4.21" fill="#ec8476"/>
<line x1="95.6" y1="383.20" x2="97.8" y2="383.20" stroke="#4a4a4a" stroke-width="0.6"/>
<text x="100.80" y="385.90" font-size="7.5" fill="#231f20">Glycolysis</text>
<line x1="33.7" y1="393.20" x2="95.6" y2="393.20" stroke="#ececec" stroke-width="0.5"/>
<circle cx="38.90" cy="393.20" r="2.91" fill="#f5f3f7"/>
<circle cx="47.53" cy="393.20" r="2.47" fill="#f8f6f8"/>
<circle cx="56.16" cy="393.20" r="3.34" fill="#f8eaea"/>
<circle cx="64.79" cy="393.20" r="2.76" fill="#f8f6f8"/>
<circle cx="73.42" cy="393.20" r="3.05" fill="#eaeaf4"/>
<circle cx="82.05" cy="393.20" r="3.34" fill="#f8eaea"/>
<circle cx="90.68" cy="393.20" r="2.76" fill="#f8f6f8"/>
<line x1="95.6" y1="393.20" x2="97.8" y2="393.20" stroke="#4a4a4a" stroke-width="0.6"/>
<text x="100.80" y="395.90" font-size="7.5" fill="#231f20">Lipid metabolism</text>
<rect x="33.7" y="402.2" width="61.89999999999999" height="21.30000000000001" fill="#fff" stroke="#4a4a4a" stroke-width="0.8"/>
<line x1="38.90" y1="402.2" x2="38.90" y2="423.5" stroke="#ececec" stroke-width="0.5"/>
<line x1="47.53" y1="402.2" x2="47.53" y2="423.5" stroke="#ececec" stroke-width="0.5"/>
<line x1="56.16" y1="402.2" x2="56.16" y2="423.5" stroke="#ececec" stroke-width="0.5"/>
<line x1="64.79" y1="402.2" x2="64.79" y2="423.5" stroke="#ececec" stroke-width="0.5"/>
<line x1="73.42" y1="402.2" x2="73.42" y2="423.5" stroke="#ececec" stroke-width="0.5"/>
<line x1="82.05" y1="402.2" x2="82.05" y2="423.5" stroke="#ececec" stroke-width="0.5"/>
<line x1="90.68" y1="402.2" x2="90.68" y2="423.5" stroke="#ececec" stroke-width="0.5"/>
<line x1="33.7" y1="408.20" x2="95.6" y2="408.20" stroke="#ececec" stroke-width="0.5"/>
<circle cx="38.90" cy="408.20" r="3.05" fill="#e7e7f3"/>
<circle cx="47.53" cy="408.20" r="2.47" fill="#f8f6f8"/>
<circle cx="56.16" cy="408.20" r="2.76" fill="#f1f0f6"/>
<circle cx="64.79" cy="408.20" r="3.34" fill="#d5d9ed"/>
<circle cx="73.42" cy="408.20" r="3.34" fill="#d5d9ed"/>
<circle cx="82.05" cy="408.20" r="3.05" fill="#e7e7f3"/>
<circle cx="90.68" cy="408.20" r="2.76" fill="#f8f1f2"/>
<line x1="95.6" y1="408.20" x2="97.8" y2="408.20" stroke="#4a4a4a" stroke-width="0.6"/>
<text x="100.80" y="410.90" font-size="7.5" fill="#231f20">Pro−apoptosis</text>
<line x1="33.7" y1="417.40" x2="95.6" y2="417.40" stroke="#ececec" stroke-width="0.5"/>
<circle cx="38.90" cy="417.40" r="3.92" fill="#f4b6ac"/>
<circle cx="47.53" cy="417.40" r="3.63" fill="#f7dedb"/>
<circle cx="56.16" cy="417.40" r="3.77" fill="#f6d2cc"/>
<circle cx="64.79" cy="417.40" r="3.34" fill="#f8eaea"/>
<circle cx="73.42" cy="417.40" r="4.06" fill="#f1a59a"/>
<circle cx="82.05" cy="417.40" r="3.34" fill="#f8eaea"/>
<circle cx="90.68" cy="417.40" r="3.92" fill="#f6c6be"/>
<line x1="95.6" y1="417.40" x2="97.8" y2="417.40" stroke="#4a4a4a" stroke-width="0.6"/>
<text x="100.80" y="420.10" font-size="7.5" fill="#231f20">Anti−apoptosis</text>
<rect x="157.7" y="219.3" width="61.80000000000001" height="31.19999999999999" fill="#fff" stroke="#4a4a4a" stroke-width="0.8"/>
<line x1="163.40" y1="219.3" x2="163.40" y2="250.5" stroke="#ececec" stroke-width="0.5"/>
<line x1="173.48" y1="219.3" x2="173.48" y2="250.5" stroke="#ececec" stroke-width="0.5"/>
<line x1="183.56" y1="219.3" x2="183.56" y2="250.5" stroke="#ececec" stroke-width="0.5"/>
<line x1="193.64" y1="219.3" x2="193.64" y2="250.5" stroke="#ececec" stroke-width="0.5"/>
<line x1="203.72" y1="219.3" x2="203.72" y2="250.5" stroke="#ececec" stroke-width="0.5"/>
<line x1="213.80" y1="219.3" x2="213.80" y2="250.5" stroke="#ececec" stroke-width="0.5"/>
<line x1="157.7" y1="224.50" x2="219.5" y2="224.50" stroke="#ececec" stroke-width="0.5"/>
<circle cx="163.40" cy="224.50" r="3.34" fill="#f8efef"/>
<circle cx="173.48" cy="224.50" r="3.63" fill="#f7dedb"/>
<circle cx="183.56" cy="224.50" r="2.76" fill="#f8f6f8"/>
<circle cx="193.64" cy="224.50" r="3.05" fill="#f1f0f6"/>
<circle cx="203.72" cy="224.50" r="3.34" fill="#e3e4f2"/>
<circle cx="213.80" cy="224.50" r="3.05" fill="#f1f0f6"/>
<line x1="219.5" y1="224.50" x2="221.7" y2="224.50" stroke="#4a4a4a" stroke-width="0.6"/>
<text x="224.60" y="227.20" font-size="7.5" fill="#231f20">Naive</text>
<line x1="157.7" y1="234.60" x2="219.5" y2="234.60" stroke="#ececec" stroke-width="0.5"/>
<circle cx="163.40" cy="234.60" r="4.36" fill="#e16556"/>
<circle cx="173.48" cy="234.60" r="4.50" fill="#ca2f25"/>
<circle cx="183.56" cy="234.60" r="4.36" fill="#d64637"/>
<circle cx="193.64" cy="234.60" r="4.36" fill="#e67466"/>
<circle cx="203.72" cy="234.60" r="4.06" fill="#f4b6ac"/>
<circle cx="213.80" cy="234.60" r="3.63" fill="#f7dedb"/>
<line x1="219.5" y1="234.60" x2="221.7" y2="234.60" stroke="#4a4a4a" stroke-width="0.6"/>
<text x="224.60" y="237.30" font-size="7.5" fill="#231f20">Activation</text>
<line x1="157.7" y1="244.30" x2="219.5" y2="244.30" stroke="#ececec" stroke-width="0.5"/>
<circle cx="163.40" cy="244.30" r="3.20" fill="#e7e7f3"/>
<circle cx="173.48" cy="244.30" r="3.20" fill="#e7e7f3"/>
<circle cx="183.56" cy="244.30" r="3.20" fill="#e7e7f3"/>
<circle cx="193.64" cy="244.30" r="3.49" fill="#f7e3e1"/>
<circle cx="203.72" cy="244.30" r="4.06" fill="#f4b6ac"/>
<circle cx="213.80" cy="244.30" r="3.20" fill="#eeedf5"/>
<line x1="219.5" y1="244.30" x2="221.7" y2="244.30" stroke="#4a4a4a" stroke-width="0.6"/>
<text x="224.60" y="247.00" font-size="7.5" fill="#231f20">Exhaustion</text>
<rect x="157.7" y="253.5" width="61.80000000000001" height="110.30000000000001" fill="#fff" stroke="#4a4a4a" stroke-width="0.8"/>
<line x1="163.40" y1="253.5" x2="163.40" y2="363.8" stroke="#ececec" stroke-width="0.5"/>
<line x1="173.48" y1="253.5" x2="173.48" y2="363.8" stroke="#ececec" stroke-width="0.5"/>
<line x1="183.56" y1="253.5" x2="183.56" y2="363.8" stroke="#ececec" stroke-width="0.5"/>
<line x1="193.64" y1="253.5" x2="193.64" y2="363.8" stroke="#ececec" stroke-width="0.5"/>
<line x1="203.72" y1="253.5" x2="203.72" y2="363.8" stroke="#ececec" stroke-width="0.5"/>
<line x1="213.80" y1="253.5" x2="213.80" y2="363.8" stroke="#ececec" stroke-width="0.5"/>
<line x1="157.7" y1="259.20" x2="219.5" y2="259.20" stroke="#ececec" stroke-width="0.5"/>
<circle cx="163.40" cy="259.20" r="4.21" fill="#f1a59a"/>
<circle cx="173.48" cy="259.20" r="4.21" fill="#f1a59a"/>
<circle cx="183.56" cy="259.20" r="4.21" fill="#f1a59a"/>
<circle cx="193.64" cy="259.20" r="4.21" fill="#f09e93"/>
<circle cx="203.72" cy="259.20" r="4.21" fill="#ec8476"/>
<circle cx="213.80" cy="259.20" r="3.63" fill="#f7dedb"/>
<line x1="219.5" y1="259.20" x2="221.7" y2="259.20" stroke="#4a4a4a" stroke-width="0.6"/>
<text x="224.60" y="261.90" font-size="7.5" fill="#231f20">TCR Signaling</text>
<line x1="157.7" y1="269.00" x2="219.5" y2="269.00" stroke="#ececec" stroke-width="0.5"/>
<circle cx="163.40" cy="269.00" r="3.77" fill="#f7dedb"/>
<circle cx="173.48" cy="269.00" r="3.77" fill="#f7dedb"/>
<circle cx="183.56" cy="269.00" r="3.92" fill="#f6c6be"/>
<circle cx="193.64" cy="269.00" r="3.92" fill="#f6c6be"/>
<circle cx="203.72" cy="269.00" r="3.77" fill="#f6d2cc"/>
<circle cx="213.80" cy="269.00" r="3.34" fill="#d5d9ed"/>
<line x1="219.5" y1="269.00" x2="221.7" y2="269.00" stroke="#4a4a4a" stroke-width="0.6"/>
<text x="224.60" y="271.70" font-size="7.5" fill="#231f20">Cytotoxicity</text>
<line x1="157.7" y1="278.80" x2="219.5" y2="278.80" stroke="#ececec" stroke-width="0.5"/>
<circle cx="163.40" cy="278.80" r="3.92" fill="#f6c6be"/>
<circle cx="173.48" cy="278.80" r="3.92" fill="#f6d2cc"/>
<circle cx="183.56" cy="278.80" r="3.92" fill="#f6d2cc"/>
<circle cx="193.64" cy="278.80" r="3.92" fill="#f6d2cc"/>
<circle cx="203.72" cy="278.80" r="3.92" fill="#f6c6be"/>
<circle cx="213.80" cy="278.80" r="3.05" fill="#f8f1f2"/>
<line x1="219.5" y1="278.80" x2="221.7" y2="278.80" stroke="#4a4a4a" stroke-width="0.6"/>
<text x="224.60" y="281.50" font-size="7.5" fill="#231f20">Cytokine</text>
<line x1="157.7" y1="288.80" x2="219.5" y2="288.80" stroke="#ececec" stroke-width="0.5"/>
<circle cx="163.40" cy="288.80" r="4.21" fill="#ee9488"/>
<circle cx="173.48" cy="288.80" r="4.36" fill="#e16556"/>
<circle cx="183.56" cy="288.80" r="4.21" fill="#ee9488"/>
<circle cx="193.64" cy="288.80" r="4.21" fill="#ee9488"/>
<circle cx="203.72" cy="288.80" r="4.21" fill="#ec8476"/>
<circle cx="213.80" cy="288.80" r="3.05" fill="#f8f1f2"/>
<line x1="219.5" y1="288.80" x2="221.7" y2="288.80" stroke="#4a4a4a" stroke-width="0.6"/>
<text x="224.60" y="291.50" font-size="7.5" fill="#231f20">Chemokine</text>
<line x1="157.7" y1="298.80" x2="219.5" y2="298.80" stroke="#ececec" stroke-width="0.5"/>
<circle cx="163.40" cy="298.80" r="3.05" fill="#f8efef"/>
<circle cx="173.48" cy="298.80" r="2.76" fill="#f8f6f8"/>
<circle cx="183.56" cy="298.80" r="2.76" fill="#f5f3f7"/>
<circle cx="193.64" cy="298.80" r="2.47" fill="#f8f6f8"/>
<circle cx="203.72" cy="298.80" r="3.05" fill="#eeedf5"/>
<circle cx="213.80" cy="298.80" r="3.20" fill="#dcdfef"/>
<line x1="219.5" y1="298.80" x2="221.7" y2="298.80" stroke="#4a4a4a" stroke-width="0.6"/>
<text x="224.60" y="301.50" font-size="7.5" fill="#231f20">Senescence</text>
<line x1="157.7" y1="308.80" x2="219.5" y2="308.80" stroke="#ececec" stroke-width="0.5"/>
<circle cx="163.40" cy="308.80" r="2.91" fill="#eaeaf4"/>
<circle cx="173.48" cy="308.80" r="2.47" fill="#f8f6f8"/>
<circle cx="183.56" cy="308.80" r="2.91" fill="#eeedf5"/>
<circle cx="193.64" cy="308.80" r="3.20" fill="#f8eaea"/>
<circle cx="203.72" cy="308.80" r="2.91" fill="#eeedf5"/>
<circle cx="213.80" cy="308.80" r="2.91" fill="#dcdfef"/>
<line x1="219.5" y1="308.80" x2="221.7" y2="308.80" stroke="#4a4a4a" stroke-width="0.6"/>
<text x="224.60" y="311.50" font-size="7.5" fill="#231f20">Anergy</text>
<line x1="157.7" y1="318.80" x2="219.5" y2="318.80" stroke="#ececec" stroke-width="0.5"/>
<circle cx="163.40" cy="318.80" r="3.05" fill="#eaeaf4"/>
<circle cx="173.48" cy="318.80" r="3.20" fill="#f8efef"/>
<circle cx="183.56" cy="318.80" r="2.76" fill="#f8f6f8"/>
<circle cx="193.64" cy="318.80" r="3.92" fill="#f6c6be"/>
<circle cx="203.72" cy="318.80" r="2.76" fill="#f5f3f7"/>
<circle cx="213.80" cy="318.80" r="2.47" fill="#f8f6f8"/>
<line x1="219.5" y1="318.80" x2="221.7" y2="318.80" stroke="#4a4a4a" stroke-width="0.6"/>
<text x="224.60" y="321.50" font-size="7.5" fill="#231f20">NFKB Signaling</text>
<line x1="157.7" y1="328.60" x2="219.5" y2="328.60" stroke="#ececec" stroke-width="0.5"/>
<circle cx="163.40" cy="328.60" r="4.21" fill="#f6c6be"/>
<circle cx="173.48" cy="328.60" r="4.21" fill="#f6c6be"/>
<circle cx="183.56" cy="328.60" r="4.36" fill="#f1a59a"/>
<circle cx="193.64" cy="328.60" r="4.21" fill="#f5bfb7"/>
<circle cx="203.72" cy="328.60" r="4.21" fill="#f4b6ac"/>
<circle cx="213.80" cy="328.60" r="4.36" fill="#ee9488"/>
<line x1="219.5" y1="328.60" x2="221.7" y2="328.60" stroke="#4a4a4a" stroke-width="0.6"/>
<text x="224.60" y="331.30" font-size="7.5" fill="#231f20">Stress response</text>
<line x1="157.7" y1="338.50" x2="219.5" y2="338.50" stroke="#ececec" stroke-width="0.5"/>
<circle cx="163.40" cy="338.50" r="2.18" fill="#f8f6f8"/>
<circle cx="173.48" cy="338.50" r="2.18" fill="#f8f6f8"/>
<circle cx="183.56" cy="338.50" r="2.18" fill="#f8f6f8"/>
<circle cx="193.64" cy="338.50" r="2.18" fill="#f8f6f8"/>
<circle cx="203.72" cy="338.50" r="2.18" fill="#f8f6f8"/>
<circle cx="213.80" cy="338.50" r="2.18" fill="#f8f6f8"/>
<line x1="219.5" y1="338.50" x2="221.7" y2="338.50" stroke="#4a4a4a" stroke-width="0.6"/>
<text x="224.60" y="341.20" font-size="7.5" fill="#231f20">MAPK Signaling</text>
<line x1="157.7" y1="348.50" x2="219.5" y2="348.50" stroke="#ececec" stroke-width="0.5"/>
<circle cx="163.40" cy="348.50" r="2.76" fill="#f5f3f7"/>
<circle cx="173.48" cy="348.50" r="3.05" fill="#eeedf5"/>
<circle cx="183.56" cy="348.50" r="3.05" fill="#eaeaf4"/>
<circle cx="193.64" cy="348.50" r="3.05" fill="#eeedf5"/>
<circle cx="203.72" cy="348.50" r="3.05" fill="#f1f0f6"/>
<circle cx="213.80" cy="348.50" r="3.05" fill="#eaeaf4"/>
<line x1="219.5" y1="348.50" x2="221.7" y2="348.50" stroke="#4a4a4a" stroke-width="0.6"/>
<text x="224.60" y="351.20" font-size="7.5" fill="#231f20">Adhesion</text>
<line x1="157.7" y1="358.60" x2="219.5" y2="358.60" stroke="#ececec" stroke-width="0.5"/>
<circle cx="163.40" cy="358.60" r="2.76" fill="#f8f6f8"/>
<circle cx="173.48" cy="358.60" r="2.91" fill="#eaeaf4"/>
<circle cx="183.56" cy="358.60" r="4.21" fill="#e67466"/>
<circle cx="193.64" cy="358.60" r="2.91" fill="#f1f0f6"/>
<circle cx="203.72" cy="358.60" r="2.76" fill="#f8f4f5"/>
<circle cx="213.80" cy="358.60" r="2.91" fill="#eeedf5"/>
<line x1="219.5" y1="358.60" x2="221.7" y2="358.60" stroke="#4a4a4a" stroke-width="0.6"/>
<text x="224.60" y="361.30" font-size="7.5" fill="#231f20">IFN Response</text>
<rect x="157.7" y="367.6" width="61.80000000000001" height="31.399999999999977" fill="#fff" stroke="#4a4a4a" stroke-width="0.8"/>
<line x1="163.40" y1="367.6" x2="163.40" y2="399.0" stroke="#ececec" stroke-width="0.5"/>
<line x1="173.48" y1="367.6" x2="173.48" y2="399.0" stroke="#ececec" stroke-width="0.5"/>
<line x1="183.56" y1="367.6" x2="183.56" y2="399.0" stroke="#ececec" stroke-width="0.5"/>
<line x1="193.64" y1="367.6" x2="193.64" y2="399.0" stroke="#ececec" stroke-width="0.5"/>
<line x1="203.72" y1="367.6" x2="203.72" y2="399.0" stroke="#ececec" stroke-width="0.5"/>
<line x1="213.80" y1="367.6" x2="213.80" y2="399.0" stroke="#ececec" stroke-width="0.5"/>
<line x1="157.7" y1="373.60" x2="219.5" y2="373.60" stroke="#ececec" stroke-width="0.5"/>
<circle cx="163.40" cy="373.60" r="3.92" fill="#f7dedb"/>
<circle cx="173.48" cy="373.60" r="3.92" fill="#f7e3e1"/>
<circle cx="183.56" cy="373.60" r="3.92" fill="#f7d9d5"/>
<circle cx="193.64" cy="373.60" r="3.92" fill="#f7e3e1"/>
<circle cx="203.72" cy="373.60" r="4.06" fill="#f6c6be"/>
<circle cx="213.80" cy="373.60" r="4.21" fill="#f1a59a"/>
<line x1="219.5" y1="373.60" x2="221.7" y2="373.60" stroke="#4a4a4a" stroke-width="0.6"/>
<text x="224.60" y="376.30" font-size="7.5" fill="#231f20">OXPHOS</text>
<line x1="157.7" y1="382.90" x2="219.5" y2="382.90" stroke="#ececec" stroke-width="0.5"/>
<circle cx="163.40" cy="382.90" r="2.76" fill="#f8f6f8"/>
<circle cx="173.48" cy="382.90" r="2.76" fill="#f5f3f7"/>
<circle cx="183.56" cy="382.90" r="3.77" fill="#f7dedb"/>
<circle cx="193.64" cy="382.90" r="3.63" fill="#f8eaea"/>
<circle cx="203.72" cy="382.90" r="4.06" fill="#f6c6be"/>
<circle cx="213.80" cy="382.90" r="4.21" fill="#ec8476"/>
<line x1="219.5" y1="382.90" x2="221.7" y2="382.90" stroke="#4a4a4a" stroke-width="0.6"/>
<text x="224.60" y="385.60" font-size="7.5" fill="#231f20">Glycolysis</text>
<line x1="157.7" y1="392.70" x2="219.5" y2="392.70" stroke="#ececec" stroke-width="0.5"/>
<circle cx="163.40" cy="392.70" r="2.47" fill="#f8f6f8"/>
<circle cx="173.48" cy="392.70" r="2.47" fill="#f8f6f8"/>
<circle cx="183.56" cy="392.70" r="3.34" fill="#f8efef"/>
<circle cx="193.64" cy="392.70" r="2.76" fill="#f8f6f8"/>
<circle cx="203.72" cy="392.70" r="3.63" fill="#f8eaea"/>
<circle cx="213.80" cy="392.70" r="3.77" fill="#f7e3e1"/>
<line x1="219.5" y1="392.70" x2="221.7" y2="392.70" stroke="#4a4a4a" stroke-width="0.6"/>
<text x="224.60" y="395.40" font-size="7.5" fill="#231f20">Fatty acid metabolism</text>
<rect x="157.7" y="402.2" width="61.80000000000001" height="20.600000000000023" fill="#fff" stroke="#4a4a4a" stroke-width="0.8"/>
<line x1="163.40" y1="402.2" x2="163.40" y2="422.8" stroke="#ececec" stroke-width="0.5"/>
<line x1="173.48" y1="402.2" x2="173.48" y2="422.8" stroke="#ececec" stroke-width="0.5"/>
<line x1="183.56" y1="402.2" x2="183.56" y2="422.8" stroke="#ececec" stroke-width="0.5"/>
<line x1="193.64" y1="402.2" x2="193.64" y2="422.8" stroke="#ececec" stroke-width="0.5"/>
<line x1="203.72" y1="402.2" x2="203.72" y2="422.8" stroke="#ececec" stroke-width="0.5"/>
<line x1="213.80" y1="402.2" x2="213.80" y2="422.8" stroke="#ececec" stroke-width="0.5"/>
<line x1="157.7" y1="407.30" x2="219.5" y2="407.30" stroke="#ececec" stroke-width="0.5"/>
<circle cx="163.40" cy="407.30" r="2.91" fill="#f1f0f6"/>
<circle cx="173.48" cy="407.30" r="2.91" fill="#f1f0f6"/>
<circle cx="183.56" cy="407.30" r="2.91" fill="#f1f0f6"/>
<circle cx="193.64" cy="407.30" r="2.47" fill="#f8f6f8"/>
<circle cx="203.72" cy="407.30" r="2.76" fill="#f1f0f6"/>
<circle cx="213.80" cy="407.30" r="3.05" fill="#e7e7f3"/>
<line x1="219.5" y1="407.30" x2="221.7" y2="407.30" stroke="#4a4a4a" stroke-width="0.6"/>
<text x="224.60" y="410.00" font-size="7.5" fill="#231f20">Pro−apoptosis</text>
<line x1="157.7" y1="416.90" x2="219.5" y2="416.90" stroke="#ececec" stroke-width="0.5"/>
<circle cx="163.40" cy="416.90" r="3.20" fill="#e0e1f1"/>
<circle cx="173.48" cy="416.90" r="2.47" fill="#f8f6f8"/>
<circle cx="183.56" cy="416.90" r="3.05" fill="#e7e7f3"/>
<circle cx="193.64" cy="416.90" r="3.20" fill="#f8eaea"/>
<circle cx="203.72" cy="416.90" r="3.34" fill="#ced3eb"/>
<circle cx="213.80" cy="416.90" r="3.34" fill="#d5d9ed"/>
<line x1="219.5" y1="416.90" x2="221.7" y2="416.90" stroke="#4a4a4a" stroke-width="0.6"/>
<text x="224.60" y="419.60" font-size="7.5" fill="#231f20">Anti−apoptosis</text>
<line x1="38.90" y1="423.5" x2="38.90" y2="425.5" stroke="#4a4a4a" stroke-width="0.6"/>
<text transform="translate(41.60,427.3) rotate(-90)" font-size="7.5" text-anchor="end" fill="#231f20">CD4_IL7R</text>
<line x1="47.53" y1="423.5" x2="47.53" y2="425.5" stroke="#4a4a4a" stroke-width="0.6"/>
<text transform="translate(50.23,427.3) rotate(-90)" font-size="7.5" text-anchor="end" fill="#231f20">CD4_NR4A1</text>
<line x1="56.16" y1="423.5" x2="56.16" y2="425.5" stroke="#4a4a4a" stroke-width="0.6"/>
<text transform="translate(58.86,427.3) rotate(-90)" font-size="7.5" text-anchor="end" fill="#231f20">CD4_ISG</text>
<line x1="64.79" y1="423.5" x2="64.79" y2="425.5" stroke="#4a4a4a" stroke-width="0.6"/>
<text transform="translate(67.49,427.3) rotate(-90)" font-size="7.5" text-anchor="end" fill="#231f20">CD4_TIMP1</text>
<line x1="73.42" y1="423.5" x2="73.42" y2="425.5" stroke="#4a4a4a" stroke-width="0.6"/>
<text transform="translate(76.12,427.3) rotate(-90)" font-size="7.5" text-anchor="end" fill="#231f20">CD4_XIST</text>
<line x1="82.05" y1="423.5" x2="82.05" y2="425.5" stroke="#4a4a4a" stroke-width="0.6"/>
<text transform="translate(84.75,427.3) rotate(-90)" font-size="7.5" text-anchor="end" fill="#231f20">CD4_CXCL13</text>
<line x1="90.68" y1="423.5" x2="90.68" y2="425.5" stroke="#4a4a4a" stroke-width="0.6"/>
<text transform="translate(93.38,427.3) rotate(-90)" font-size="7.5" text-anchor="end" fill="#231f20">CD4_FOXP3</text>
<line x1="163.40" y1="422.8" x2="163.40" y2="424.8" stroke="#4a4a4a" stroke-width="0.6"/>
<text transform="translate(166.10,426.6) rotate(-90)" font-size="7.5" text-anchor="end" fill="#231f20">CD8_GZMK</text>
<line x1="173.48" y1="422.8" x2="173.48" y2="424.8" stroke="#4a4a4a" stroke-width="0.6"/>
<text transform="translate(176.18,426.6) rotate(-90)" font-size="7.5" text-anchor="end" fill="#231f20">CD8_ZNF683</text>
<line x1="183.56" y1="422.8" x2="183.56" y2="424.8" stroke="#4a4a4a" stroke-width="0.6"/>
<text transform="translate(186.26,426.6) rotate(-90)" font-size="7.5" text-anchor="end" fill="#231f20">CD8_ISG</text>
<line x1="193.64" y1="422.8" x2="193.64" y2="424.8" stroke="#4a4a4a" stroke-width="0.6"/>
<text transform="translate(196.34,426.6) rotate(-90)" font-size="7.5" text-anchor="end" fill="#231f20">CD8_SPRY1</text>
<line x1="203.72" y1="422.8" x2="203.72" y2="424.8" stroke="#4a4a4a" stroke-width="0.6"/>
<text transform="translate(206.42,426.6) rotate(-90)" font-size="7.5" text-anchor="end" fill="#231f20">CD8_HAVCR2</text>
<line x1="213.80" y1="422.8" x2="213.80" y2="424.8" stroke="#4a4a4a" stroke-width="0.6"/>
<text transform="translate(216.50,426.6) rotate(-90)" font-size="7.5" text-anchor="end" fill="#231f20">CD8_Cycling</text>
<text x="361.40" y="228.20" font-size="7.6" fill="#231f20">Percent of</text>
<text x="361.40" y="235.80" font-size="7.6" fill="#231f20">Cells</text>
<circle cx="367.1" cy="246" r="3.6" fill="#000"/>
<text x="376.30" y="248.70" font-size="7.6" fill="#231f20">25</text>
<circle cx="367.1" cy="257.8" r="4.0" fill="#000"/>
<text x="376.30" y="260.50" font-size="7.6" fill="#231f20">50</text>
<circle cx="367.1" cy="269.5" r="4.6" fill="#000"/>
<text x="376.30" y="272.20" font-size="7.6" fill="#231f20">75</text>
<text x="361.40" y="296.30" font-size="7.6" fill="#231f20">Average</text>
<text x="361.40" y="304.10" font-size="7.6" fill="#231f20">Score</text>
<defs><linearGradient id="avg" x1="0" y1="0" x2="0" y2="1"><stop offset="0" stop-color="#cc3226"/><stop offset="0.2" stop-color="#dc5a4a"/><stop offset="0.41" stop-color="#eb9080"/><stop offset="0.62" stop-color="#f6cdc6"/><stop offset="0.83" stop-color="#f8f8fa"/><stop offset="1" stop-color="#dde0ee"/></linearGradient></defs>
<rect x="361" y="309" width="11.8" height="57.9" fill="url(#avg)"/>
<line x1="361" y1="320.3" x2="363.5" y2="320.3" stroke="#fff" stroke-width="0.6"/><line x1="370.3" y1="320.3" x2="372.8" y2="320.3" stroke="#fff" stroke-width="0.6"/>
<text x="376.70" y="323.00" font-size="7.6" fill="#231f20">0.6</text>
<line x1="361" y1="332.5" x2="363.5" y2="332.5" stroke="#fff" stroke-width="0.6"/><line x1="370.3" y1="332.5" x2="372.8" y2="332.5" stroke="#fff" stroke-width="0.6"/>
<text x="376.70" y="335.20" font-size="7.6" fill="#231f20">0.4</text>
<line x1="361" y1="344.8" x2="363.5" y2="344.8" stroke="#fff" stroke-width="0.6"/><line x1="370.3" y1="344.8" x2="372.8" y2="344.8" stroke="#fff" stroke-width="0.6"/>
<text x="376.70" y="347.50" font-size="7.6" fill="#231f20">0.2</text>
<line x1="361" y1="357" x2="363.5" y2="357" stroke="#fff" stroke-width="0.6"/><line x1="370.3" y1="357" x2="372.8" y2="357" stroke="#fff" stroke-width="0.6"/>
<text x="376.70" y="359.70" font-size="7.6" fill="#231f20">0.0</text>
<line x1="48.5" y1="505.5" x2="48.5" y2="623.3" stroke="#231f20" stroke-width="0.9"/>
<line x1="48.1" y1="623.3" x2="342.2" y2="623.3" stroke="#231f20" stroke-width="0.9"/>
<line x1="46.3" y1="618.30" x2="48.5" y2="618.30" stroke="#231f20" stroke-width="0.7"/>
<text x="44.90" y="621.30" font-size="8.5" text-anchor="end" fill="#333">0.00</text>
<line x1="46.3" y1="586.97" x2="48.5" y2="586.97" stroke="#231f20" stroke-width="0.7"/>
<text x="44.90" y="589.97" font-size="8.5" text-anchor="end" fill="#333">0.25</text>
<line x1="46.3" y1="555.65" x2="48.5" y2="555.65" stroke="#231f20" stroke-width="0.7"/>
<text x="44.90" y="558.65" font-size="8.5" text-anchor="end" fill="#333">0.50</text>
<line x1="46.3" y1="524.32" x2="48.5" y2="524.32" stroke="#231f20" stroke-width="0.7"/>
<text x="44.90" y="527.32" font-size="8.5" text-anchor="end" fill="#333">0.75</text>
<text transform="translate(17.0,568.5) rotate(-90) scale(1,1.08)" font-size="9.8" text-anchor="middle" fill="#231f20">Fraction of T/NK Cell</text>
<line x1="57.9" y1="503.0" x2="181.4" y2="503.0" stroke="#8a8a8a" stroke-width="0.9"/>
<text x="122.3" y="499.0" font-size="9.4" text-anchor="middle" fill="#231f20">CD4<tspan font-size="5.5" dy="-3.5">+</tspan><tspan dy="3.5"> T</tspan></text>
<line x1="191" y1="503.0" x2="298.8" y2="503.0" stroke="#8a8a8a" stroke-width="0.9"/>
<text x="244" y="499.0" font-size="9.4" text-anchor="middle" fill="#231f20">CD8<tspan font-size="5.5" dy="-3.5">+</tspan><tspan dy="3.5"> T</tspan></text>
<line x1="307.5" y1="503.0" x2="339.1" y2="503.0" stroke="#8a8a8a" stroke-width="0.9"/>
<text x="323.80" y="499.00" font-size="9.4" text-anchor="middle" fill="#231f20">NK</text>
<line x1="62.5" y1="511.0" x2="62.5" y2="522.0" stroke="#222" stroke-width="0.7"/>
<rect x="57.3" y="513.2" width="10.6" height="6.6" fill="#1d9a78" stroke="#222" stroke-width="0.7"/>
<line x1="57.3" y1="516.5" x2="67.9" y2="516.5" stroke="#222" stroke-width="0.7"/>
<text x="71.20" y="519.50" font-size="8.6" fill="#231f20">Primary</text>
<line x1="62.5" y1="527.7" x2="62.5" y2="538.7" stroke="#222" stroke-width="0.7"/>
<rect x="57.3" y="529.9000000000001" width="10.6" height="6.6" fill="#27508d" stroke="#222" stroke-width="0.7"/>
<line x1="57.3" y1="533.2" x2="67.9" y2="533.2" stroke="#222" stroke-width="0.7"/>
<text x="71.20" y="536.20" font-size="8.6" fill="#231f20">Brain</text>
<line x1="56.10" y1="612.5" x2="56.10" y2="617.0" stroke="#222" stroke-width="0.6"/>
<rect x="52.50" y="613.9" width="7.2" height="2.40" fill="#1d9a78" stroke="#222" stroke-width="0.6"/>
<line x1="52.50" y1="615.5" x2="59.70" y2="615.5" stroke="#111" stroke-width="0.7"/>
<circle cx="56.4" cy="605.7" r="2.0" fill="#000"/>
<line x1="64.10" y1="611.6" x2="64.10" y2="618.6" stroke="#222" stroke-width="0.6"/>
<rect x="60.50" y="615.1" width="7.2" height="3.50" fill="#27508d" stroke="#222" stroke-width="0.6"/>
<line x1="60.50" y1="617.3" x2="67.70" y2="617.3" stroke="#111" stroke-width="0.7"/>
<line x1="75.43" y1="596.2" x2="75.43" y2="606.7" stroke="#222" stroke-width="0.6"/>
<rect x="71.83" y="602.0" width="7.2" height="4.70" fill="#1d9a78" stroke="#222" stroke-width="0.6"/>
<line x1="71.83" y1="603.9" x2="79.03" y2="603.9" stroke="#111" stroke-width="0.7"/>
<circle cx="75.5" cy="586.4" r="2.0" fill="#000"/>
<line x1="83.43" y1="600.4" x2="83.43" y2="617.9" stroke="#222" stroke-width="0.6"/>
<rect x="79.83" y="605.0" width="7.2" height="10.50" fill="#27508d" stroke="#222" stroke-width="0.6"/>
<line x1="79.83" y1="610.9" x2="87.03" y2="610.9" stroke="#111" stroke-width="0.7"/>
<circle cx="83.2" cy="586.4" r="2.0" fill="#000"/>
<line x1="94.76" y1="568.2" x2="94.76" y2="600.4" stroke="#222" stroke-width="0.6"/>
<rect x="91.16" y="568.2" width="7.2" height="24.00" fill="#1d9a78" stroke="#222" stroke-width="0.6"/>
<line x1="91.16" y1="587.5" x2="98.36" y2="587.5" stroke="#111" stroke-width="0.7"/>
<line x1="102.76" y1="610.9" x2="102.76" y2="618.6" stroke="#222" stroke-width="0.6"/>
<rect x="99.16" y="614.4" width="7.2" height="4.20" fill="#27508d" stroke="#222" stroke-width="0.6"/>
<line x1="99.16" y1="616.5" x2="106.36" y2="616.5" stroke="#111" stroke-width="0.7"/>
<line x1="114.09" y1="614.0" x2="114.09" y2="617.4" stroke="#222" stroke-width="0.6"/>
<rect x="110.49" y="615.0" width="7.2" height="2.40" fill="#1d9a78" stroke="#222" stroke-width="0.6"/>
<line x1="110.49" y1="616.2" x2="117.69" y2="616.2" stroke="#111" stroke-width="0.7"/>
<line x1="122.09" y1="616.0" x2="122.09" y2="618.6" stroke="#222" stroke-width="0.6"/>
<rect x="118.49" y="616.7" width="7.2" height="1.90" fill="#27508d" stroke="#222" stroke-width="0.6"/>
<line x1="118.49" y1="617.6" x2="125.69" y2="617.6" stroke="#111" stroke-width="0.7"/>
<circle cx="121.8" cy="603.9" r="2.0" fill="#000"/>
<circle cx="121.8" cy="606.9" r="2.0" fill="#000"/>
<line x1="133.42" y1="600.4" x2="133.42" y2="617.9" stroke="#222" stroke-width="0.6"/>
<rect x="129.82" y="610.9" width="7.2" height="7.00" fill="#1d9a78" stroke="#222" stroke-width="0.6"/>
<line x1="129.82" y1="616.3" x2="137.02" y2="616.3" stroke="#111" stroke-width="0.7"/>
<circle cx="133.4" cy="566.0" r="2.0" fill="#000"/>
<line x1="141.42" y1="613.5" x2="141.42" y2="618.6" stroke="#222" stroke-width="0.6"/>
<rect x="137.82" y="615.5" width="7.2" height="3.10" fill="#27508d" stroke="#222" stroke-width="0.6"/>
<line x1="137.82" y1="617.6" x2="145.02" y2="617.6" stroke="#111" stroke-width="0.7"/>
<circle cx="141.6" cy="608.5" r="2.0" fill="#000"/>
<line x1="152.75" y1="596.2" x2="152.75" y2="609.0" stroke="#222" stroke-width="0.6"/>
<rect x="149.15" y="601.0" width="7.2" height="7.50" fill="#1d9a78" stroke="#222" stroke-width="0.6"/>
<line x1="149.15" y1="606.2" x2="156.35" y2="606.2" stroke="#111" stroke-width="0.7"/>
<line x1="160.75" y1="589.9" x2="160.75" y2="617.9" stroke="#222" stroke-width="0.6"/>
<rect x="157.15" y="604.3" width="7.2" height="13.60" fill="#27508d" stroke="#222" stroke-width="0.6"/>
<line x1="157.15" y1="609.2" x2="164.35" y2="609.2" stroke="#111" stroke-width="0.7"/>
<circle cx="161.0" cy="582.8" r="2.0" fill="#000"/>
<line x1="172.08" y1="606.5" x2="172.08" y2="612.0" stroke="#222" stroke-width="0.6"/>
<rect x="168.48" y="607.8" width="7.2" height="2.60" fill="#1d9a78" stroke="#222" stroke-width="0.6"/>
<line x1="168.48" y1="609.2" x2="175.68" y2="609.2" stroke="#111" stroke-width="0.7"/>
<circle cx="172.4" cy="603.9" r="2.0" fill="#000"/>
<line x1="180.08" y1="575.8" x2="180.08" y2="617.9" stroke="#222" stroke-width="0.6"/>
<rect x="176.48" y="599.9" width="7.2" height="18.00" fill="#27508d" stroke="#222" stroke-width="0.6"/>
<line x1="176.48" y1="612.5" x2="183.68" y2="612.5" stroke="#111" stroke-width="0.7"/>
<circle cx="180.2" cy="572.8" r="2.0" fill="#000"/>
<line x1="191.41" y1="614.2" x2="191.41" y2="616.5" stroke="#222" stroke-width="0.6"/>
<rect x="187.81" y="614.2" width="7.2" height="2.30" fill="#1d9a78" stroke="#222" stroke-width="0.6"/>
<line x1="187.81" y1="615.5" x2="195.01" y2="615.5" stroke="#111" stroke-width="0.7"/>
<line x1="199.41" y1="569.3" x2="199.41" y2="615.6" stroke="#222" stroke-width="0.6"/>
<rect x="195.81" y="573.5" width="7.2" height="38.00" fill="#27508d" stroke="#222" stroke-width="0.6"/>
<line x1="195.81" y1="602.6" x2="203.01" y2="602.6" stroke="#111" stroke-width="0.7"/>
<circle cx="199.7" cy="510.8" r="2.0" fill="#000"/>
<line x1="210.74" y1="614.8" x2="210.74" y2="617.0" stroke="#222" stroke-width="0.6"/>
<rect x="207.14" y="614.8" width="7.2" height="2.20" fill="#1d9a78" stroke="#222" stroke-width="0.6"/>
<line x1="207.14" y1="616.0" x2="214.34" y2="616.0" stroke="#111" stroke-width="0.7"/>
<circle cx="211.3" cy="605.1" r="2.0" fill="#000"/>
<line x1="218.74" y1="613.0" x2="218.74" y2="618.4" stroke="#222" stroke-width="0.6"/>
<rect x="215.14" y="614.2" width="7.2" height="4.20" fill="#27508d" stroke="#222" stroke-width="0.6"/>
<line x1="215.14" y1="616.8" x2="222.34" y2="616.8" stroke="#111" stroke-width="0.7"/>
<circle cx="219.1" cy="605.1" r="2.0" fill="#000"/>
<line x1="230.07" y1="613.5" x2="230.07" y2="617.5" stroke="#222" stroke-width="0.6"/>
<rect x="226.47" y="615.1" width="7.2" height="2.40" fill="#1d9a78" stroke="#222" stroke-width="0.6"/>
<line x1="226.47" y1="616.3" x2="233.67" y2="616.3" stroke="#111" stroke-width="0.7"/>
<circle cx="230.7" cy="611.5" r="2.0" fill="#000"/>
<line x1="238.07" y1="613.0" x2="238.07" y2="618.4" stroke="#222" stroke-width="0.6"/>
<rect x="234.47" y="614.5" width="7.2" height="3.90" fill="#27508d" stroke="#222" stroke-width="0.6"/>
<line x1="234.47" y1="616.8" x2="241.67" y2="616.8" stroke="#111" stroke-width="0.7"/>
<circle cx="238.5" cy="579.0" r="2.0" fill="#000"/>
<line x1="249.40" y1="616.0" x2="249.40" y2="617.5" stroke="#222" stroke-width="0.6"/>
<rect x="245.80" y="616.0" width="7.2" height="1.50" fill="#1d9a78" stroke="#222" stroke-width="0.6"/>
<line x1="245.80" y1="616.8" x2="253.00" y2="616.8" stroke="#111" stroke-width="0.7"/>
<circle cx="250.2" cy="613.7" r="2.0" fill="#000"/>
<line x1="257.40" y1="612.9" x2="257.40" y2="618.4" stroke="#222" stroke-width="0.6"/>
<rect x="253.80" y="612.9" width="7.2" height="5.50" fill="#27508d" stroke="#222" stroke-width="0.6"/>
<line x1="253.80" y1="616.0" x2="261.00" y2="616.0" stroke="#111" stroke-width="0.7"/>
<circle cx="257.6" cy="599.8" r="2.0" fill="#000"/>
<circle cx="257.6" cy="604.5" r="2.0" fill="#000"/>
<line x1="268.73" y1="614.0" x2="268.73" y2="617.4" stroke="#222" stroke-width="0.6"/>
<rect x="265.13" y="614.8" width="7.2" height="2.60" fill="#1d9a78" stroke="#222" stroke-width="0.6"/>
<line x1="265.13" y1="616.0" x2="272.33" y2="616.0" stroke="#111" stroke-width="0.7"/>
<circle cx="269.6" cy="610.1" r="2.0" fill="#000"/>
<line x1="276.73" y1="617.8" x2="276.73" y2="618.6" stroke="#222" stroke-width="0.6"/>
<rect x="273.13" y="617.8" width="7.2" height="0.80" fill="#27508d" stroke="#222" stroke-width="0.6"/>
<line x1="273.13" y1="618.2" x2="280.33" y2="618.2" stroke="#111" stroke-width="0.7"/>
<circle cx="276.5" cy="618.4" r="2.0" fill="#000"/>
<line x1="288.06" y1="581.8" x2="288.06" y2="610.1" stroke="#222" stroke-width="0.6"/>
<rect x="284.46" y="598.2" width="7.2" height="11.90" fill="#1d9a78" stroke="#222" stroke-width="0.6"/>
<line x1="284.46" y1="604.5" x2="291.66" y2="604.5" stroke="#111" stroke-width="0.7"/>
<line x1="296.06" y1="613.0" x2="296.06" y2="618.4" stroke="#222" stroke-width="0.6"/>
<rect x="292.46" y="614.8" width="7.2" height="3.60" fill="#27508d" stroke="#222" stroke-width="0.6"/>
<line x1="292.46" y1="616.5" x2="299.66" y2="616.5" stroke="#111" stroke-width="0.7"/>
<line x1="307.39" y1="610.0" x2="307.39" y2="615.5" stroke="#222" stroke-width="0.6"/>
<rect x="303.79" y="610.6" width="7.2" height="4.50" fill="#1d9a78" stroke="#222" stroke-width="0.6"/>
<line x1="303.79" y1="613.0" x2="310.99" y2="613.0" stroke="#111" stroke-width="0.7"/>
<line x1="315.39" y1="579.0" x2="315.39" y2="614.8" stroke="#222" stroke-width="0.6"/>
<rect x="311.79" y="587.9" width="7.2" height="26.90" fill="#27508d" stroke="#222" stroke-width="0.6"/>
<line x1="311.79" y1="604.5" x2="318.99" y2="604.5" stroke="#111" stroke-width="0.7"/>
<circle cx="315.9" cy="514.9" r="2.0" fill="#000"/>
<circle cx="315.9" cy="533.8" r="2.0" fill="#000"/>
<line x1="326.72" y1="614.5" x2="326.72" y2="617.0" stroke="#222" stroke-width="0.6"/>
<rect x="323.12" y="614.5" width="7.2" height="2.50" fill="#1d9a78" stroke="#222" stroke-width="0.6"/>
<line x1="323.12" y1="615.8" x2="330.32" y2="615.8" stroke="#111" stroke-width="0.7"/>
<circle cx="327.3" cy="612.9" r="2.0" fill="#000"/>
<line x1="334.72" y1="576.2" x2="334.72" y2="615.6" stroke="#222" stroke-width="0.6"/>
<rect x="331.12" y="593.4" width="7.2" height="22.20" fill="#27508d" stroke="#222" stroke-width="0.6"/>
<line x1="331.12" y1="613.7" x2="338.32" y2="613.7" stroke="#111" stroke-width="0.7"/>
<circle cx="334.8" cy="551.0" r="2.0" fill="#000"/>
<line x1="60.10" y1="623.3" x2="60.10" y2="625.5" stroke="#231f20" stroke-width="0.7"/>
<text transform="translate(62.40,632.0) rotate(-45)" font-size="9.0" text-anchor="end" fill="#231f20">CD4_CXCL13</text>
<line x1="79.43" y1="623.3" x2="79.43" y2="625.5" stroke="#231f20" stroke-width="0.7"/>
<text transform="translate(81.73,632.0) rotate(-45)" font-size="9.0" text-anchor="end" fill="#231f20">CD4_FOXP3</text>
<line x1="98.76" y1="623.3" x2="98.76" y2="625.5" stroke="#231f20" stroke-width="0.7"/>
<text transform="translate(101.06,632.0) rotate(-45)" font-size="9.0" font-weight="bold" text-anchor="end" fill="#231f20">CD4_IL7R</text>
<line x1="118.09" y1="623.3" x2="118.09" y2="625.5" stroke="#231f20" stroke-width="0.7"/>
<text transform="translate(120.39,632.0) rotate(-45)" font-size="9.0" text-anchor="end" fill="#231f20">CD4_ISG</text>
<line x1="137.42" y1="623.3" x2="137.42" y2="625.5" stroke="#231f20" stroke-width="0.7"/>
<text transform="translate(139.72,632.0) rotate(-45)" font-size="9.0" text-anchor="end" fill="#231f20">CD4_NR4A1</text>
<line x1="156.75" y1="623.3" x2="156.75" y2="625.5" stroke="#231f20" stroke-width="0.7"/>
<text transform="translate(159.05,632.0) rotate(-45)" font-size="9.0" text-anchor="end" fill="#231f20">CD4_TIMP1</text>
<line x1="176.08" y1="623.3" x2="176.08" y2="625.5" stroke="#231f20" stroke-width="0.7"/>
<text transform="translate(178.38,632.0) rotate(-45)" font-size="9.0" text-anchor="end" fill="#231f20">CD4_XIST</text>
<line x1="195.41" y1="623.3" x2="195.41" y2="625.5" stroke="#231f20" stroke-width="0.7"/>
<text transform="translate(197.71,632.0) rotate(-45)" font-size="9.0" font-weight="bold" text-anchor="end" fill="#231f20">CD8_Cycling</text>
<line x1="214.74" y1="623.3" x2="214.74" y2="625.5" stroke="#231f20" stroke-width="0.7"/>
<text transform="translate(217.04,632.0) rotate(-45)" font-size="9.0" text-anchor="end" fill="#231f20">CD8_GZMK</text>
<line x1="234.07" y1="623.3" x2="234.07" y2="625.5" stroke="#231f20" stroke-width="0.7"/>
<text transform="translate(236.37,632.0) rotate(-45)" font-size="9.0" text-anchor="end" fill="#231f20">CD8_HAVCR2</text>
<line x1="253.40" y1="623.3" x2="253.40" y2="625.5" stroke="#231f20" stroke-width="0.7"/>
<text transform="translate(255.70,632.0) rotate(-45)" font-size="9.0" text-anchor="end" fill="#231f20">CD8_ISG</text>
<line x1="272.73" y1="623.3" x2="272.73" y2="625.5" stroke="#231f20" stroke-width="0.7"/>
<text transform="translate(275.03,632.0) rotate(-45)" font-size="9.0" font-weight="bold" text-anchor="end" fill="#231f20">CD8_SPRY1</text>
<line x1="292.06" y1="623.3" x2="292.06" y2="625.5" stroke="#231f20" stroke-width="0.7"/>
<text transform="translate(294.36,632.0) rotate(-45)" font-size="9.0" font-weight="bold" text-anchor="end" fill="#231f20">CD8_ZNF683</text>
<line x1="311.39" y1="623.3" x2="311.39" y2="625.5" stroke="#231f20" stroke-width="0.7"/>
<text transform="translate(313.69,632.0) rotate(-45)" font-size="9.0" text-anchor="end" fill="#231f20">NK_FGFBP2</text>
<line x1="330.72" y1="623.3" x2="330.72" y2="625.5" stroke="#231f20" stroke-width="0.7"/>
<text transform="translate(333.02,632.0) rotate(-45)" font-size="9.0" text-anchor="end" fill="#231f20">NK_XCL1</text>
<text x="81.80" y="560.00" font-size="7.1" fill="#231f20">p = 0.00031</text>
<text x="178.00" y="564.30" font-size="7.1" fill="#231f20">p = 0.0025</text>
<text x="251.50" y="592.60" font-size="7.1" fill="#231f20">p = 0.0029</text>
<text x="275.70" y="578.20" font-size="7.1" fill="#231f20">p = 0.0029</text>
<text x="48.90" y="694.60" font-size="10.9" font-weight="bold" fill="#231f20">CD4_IL7R</text>
<line x1="30.4" y1="700.1" x2="30.4" y2="805.6" stroke="#231f20" stroke-width="0.9"/>
<line x1="30.4" y1="805.6" x2="144.5" y2="805.6" stroke="#231f20" stroke-width="0.9"/>
<rect x="31.2" y="702.50" width="108.60" height="6.4" fill="#a7a6d4"/>
<line x1="28.4" y1="705.70" x2="30.4" y2="705.70" stroke="#231f20" stroke-width="0.6"/>
<text x="33.40" y="708.30" font-size="7.4" fill="#231f20">mononuclear cell differentiation</text>
<rect x="31.2" y="712.92" width="107.30" height="6.4" fill="#a7a6d4"/>
<line x1="28.4" y1="716.12" x2="30.4" y2="716.12" stroke="#231f20" stroke-width="0.6"/>
<text x="33.40" y="718.72" font-size="7.4" fill="#231f20">response to reactive oxygen species</text>
<rect x="31.2" y="723.34" width="107.30" height="6.4" fill="#a7a6d4"/>
<line x1="28.4" y1="726.54" x2="30.4" y2="726.54" stroke="#231f20" stroke-width="0.6"/>
<text x="33.40" y="729.14" font-size="7.4" fill="#231f20">response to mechanical stimulus</text>
<rect x="31.2" y="733.76" width="102.80" height="6.4" fill="#a7a6d4"/>
<line x1="28.4" y1="736.96" x2="30.4" y2="736.96" stroke="#231f20" stroke-width="0.6"/>
<text x="33.40" y="739.56" font-size="7.4" fill="#231f20">lymphocyte differentiation</text>
<rect x="31.2" y="744.18" width="102.80" height="6.4" fill="#a7a6d4"/>
<line x1="28.4" y1="747.38" x2="30.4" y2="747.38" stroke="#231f20" stroke-width="0.6"/>
<text x="33.40" y="749.98" font-size="7.4" fill="#231f20">response to hypoxia</text>
<rect x="31.2" y="754.60" width="102.30" height="6.4" fill="#a7a6d4"/>
<line x1="28.4" y1="757.80" x2="30.4" y2="757.80" stroke="#231f20" stroke-width="0.6"/>
<text x="33.40" y="760.40" font-size="7.4" fill="#231f20">integrated stress response signaling</text>
<rect x="31.2" y="765.02" width="102.00" height="6.4" fill="#a7a6d4"/>
<line x1="28.4" y1="768.22" x2="30.4" y2="768.22" stroke="#231f20" stroke-width="0.6"/>
<text x="33.40" y="770.82" font-size="7.4" fill="#231f20">response to oxidative stress</text>
<rect x="31.2" y="775.44" width="102.00" height="6.4" fill="#a7a6d4"/>
<line x1="28.4" y1="778.64" x2="30.4" y2="778.64" stroke="#231f20" stroke-width="0.6"/>
<text x="33.40" y="781.24" font-size="7.4" fill="#231f20">response to decreased oxygen levels</text>
<rect x="31.2" y="785.86" width="93.60" height="6.4" fill="#a7a6d4"/>
<line x1="28.4" y1="789.06" x2="30.4" y2="789.06" stroke="#231f20" stroke-width="0.6"/>
<text x="33.40" y="791.66" font-size="7.4" fill="#231f20">response to oxygen levels</text>
<rect x="31.2" y="796.28" width="91.80" height="6.4" fill="#a7a6d4"/>
<line x1="28.4" y1="799.48" x2="30.4" y2="799.48" stroke="#231f20" stroke-width="0.6"/>
<text x="33.40" y="802.08" font-size="7.4" fill="#231f20">nuclear−transcribed mRNA catabolic process</text>
<line x1="32.10" y1="805.6" x2="32.10" y2="807.6" stroke="#231f20" stroke-width="0.6"/>
<text x="32.10" y="812.80" font-size="7.0" text-anchor="middle" fill="#231f20">0</text>
<line x1="56.20" y1="805.6" x2="56.20" y2="807.6" stroke="#231f20" stroke-width="0.6"/>
<text x="56.20" y="812.80" font-size="7.0" text-anchor="middle" fill="#231f20">1</text>
<line x1="80.30" y1="805.6" x2="80.30" y2="807.6" stroke="#231f20" stroke-width="0.6"/>
<text x="80.30" y="812.80" font-size="7.0" text-anchor="middle" fill="#231f20">2</text>
<line x1="104.40" y1="805.6" x2="104.40" y2="807.6" stroke="#231f20" stroke-width="0.6"/>
<text x="104.40" y="812.80" font-size="7.0" text-anchor="middle" fill="#231f20">3</text>
<line x1="128.50" y1="805.6" x2="128.50" y2="807.6" stroke="#231f20" stroke-width="0.6"/>
<text x="128.50" y="812.80" font-size="7.0" text-anchor="middle" fill="#231f20">4</text>
<text x="92.50" y="819.40" font-size="7.0" text-anchor="middle" fill="#231f20">−log10(p.adjust)</text>
<text x="219.60" y="694.60" font-size="10.9" font-weight="bold" fill="#231f20">CD8_ZNF683</text>
<line x1="198.6" y1="700.1" x2="198.6" y2="804.8" stroke="#231f20" stroke-width="0.9"/>
<line x1="198.6" y1="804.8" x2="300.3" y2="804.8" stroke="#231f20" stroke-width="0.9"/>
<rect x="199.3" y="700.40" width="96.30" height="6.4" fill="#f4b9bd"/>
<line x1="196.6" y1="703.60" x2="198.6" y2="703.60" stroke="#231f20" stroke-width="0.6"/>
<text x="201.50" y="706.20" font-size="7.4" fill="#231f20">lymphocyte mediated immunity</text>
<rect x="199.3" y="710.90" width="90.50" height="6.4" fill="#f4b9bd"/>
<line x1="196.6" y1="714.10" x2="198.6" y2="714.10" stroke="#231f20" stroke-width="0.6"/>
<text x="201.50" y="716.70" font-size="7.4" fill="#231f20">leukocyte mediated immunity</text>
<rect x="199.3" y="721.40" width="77.40" height="6.4" fill="#f4b9bd"/>
<line x1="196.6" y1="724.60" x2="198.6" y2="724.60" stroke="#231f20" stroke-width="0.6"/>
<text x="201.50" y="727.20" font-size="7.4" fill="#231f20">leukocyte mediated cytotoxicity</text>
<rect x="199.3" y="731.90" width="73.40" height="6.4" fill="#f4b9bd"/>
<line x1="196.6" y1="735.10" x2="198.6" y2="735.10" stroke="#231f20" stroke-width="0.6"/>
<text x="201.50" y="737.70" font-size="7.4" fill="#231f20">cell killing</text>
<rect x="199.3" y="742.40" width="63.40" height="6.4" fill="#f4b9bd"/>
<line x1="196.6" y1="745.60" x2="198.6" y2="745.60" stroke="#231f20" stroke-width="0.6"/>
<text x="201.50" y="748.20" font-size="7.4" fill="#231f20">regulation of T cell activation</text>
<rect x="199.3" y="752.90" width="58.20" height="6.4" fill="#f4b9bd"/>
<line x1="196.6" y1="756.10" x2="198.6" y2="756.10" stroke="#231f20" stroke-width="0.6"/>
<text x="201.50" y="758.70" font-size="7.4" fill="#231f20">T cell receptor signaling pathway</text>
<rect x="199.3" y="763.40" width="57.10" height="6.4" fill="#f4b9bd"/>
<line x1="196.6" y1="766.60" x2="198.6" y2="766.60" stroke="#231f20" stroke-width="0.6"/>
<text x="201.50" y="769.20" font-size="7.4" fill="#231f20">MHC class II protein complex assembly</text>
<rect x="199.3" y="773.90" width="57.10" height="6.4" fill="#f4b9bd"/>
<line x1="196.6" y1="777.10" x2="198.6" y2="777.10" stroke="#231f20" stroke-width="0.6"/>
<text x="201.50" y="779.70" font-size="7.4" fill="#231f20">natural killer cell mediated immunity</text>
<rect x="199.3" y="784.40" width="57.10" height="6.4" fill="#f4b9bd"/>
<line x1="196.6" y1="787.60" x2="198.6" y2="787.60" stroke="#231f20" stroke-width="0.6"/>
<text x="201.50" y="790.20" font-size="7.4" fill="#231f20">regulation of leukocyte cell−cell adhesion</text>
<rect x="199.3" y="794.90" width="57.10" height="6.4" fill="#f4b9bd"/>
<line x1="196.6" y1="798.10" x2="198.6" y2="798.10" stroke="#231f20" stroke-width="0.6"/>
<text x="201.50" y="800.70" font-size="7.4" fill="#231f20">natural killer cell mediated cytotoxicity</text>
<line x1="200.20" y1="804.8" x2="200.20" y2="806.8" stroke="#231f20" stroke-width="0.6"/>
<text x="200.20" y="812.00" font-size="7.0" text-anchor="middle" fill="#231f20">0</text>
<line x1="213.80" y1="804.8" x2="213.80" y2="806.8" stroke="#231f20" stroke-width="0.6"/>
<text x="213.80" y="812.00" font-size="7.0" text-anchor="middle" fill="#231f20">2</text>
<line x1="227.40" y1="804.8" x2="227.40" y2="806.8" stroke="#231f20" stroke-width="0.6"/>
<text x="227.40" y="812.00" font-size="7.0" text-anchor="middle" fill="#231f20">4</text>
<line x1="241.00" y1="804.8" x2="241.00" y2="806.8" stroke="#231f20" stroke-width="0.6"/>
<text x="241.00" y="812.00" font-size="7.0" text-anchor="middle" fill="#231f20">6</text>
<line x1="254.60" y1="804.8" x2="254.60" y2="806.8" stroke="#231f20" stroke-width="0.6"/>
<text x="254.60" y="812.00" font-size="7.0" text-anchor="middle" fill="#231f20">8</text>
<line x1="268.20" y1="804.8" x2="268.20" y2="806.8" stroke="#231f20" stroke-width="0.6"/>
<text x="268.20" y="812.00" font-size="7.0" text-anchor="middle" fill="#231f20">10</text>
<line x1="281.80" y1="804.8" x2="281.80" y2="806.8" stroke="#231f20" stroke-width="0.6"/>
<text x="281.80" y="812.00" font-size="7.0" text-anchor="middle" fill="#231f20">12</text>
<line x1="295.40" y1="804.8" x2="295.40" y2="806.8" stroke="#231f20" stroke-width="0.6"/>
<text x="295.40" y="812.00" font-size="7.0" text-anchor="middle" fill="#231f20">14</text>
<text x="253.00" y="818.60" font-size="7.0" text-anchor="middle" fill="#231f20">−log10(p.adjust)</text>
<text x="540.50" y="499.20" font-size="10.9" font-weight="bold" text-anchor="middle" fill="#231f20">CD4_IL7R</text>
<line x1="402.9" y1="507.4" x2="671.5" y2="507.4" stroke="#8a8a8a" stroke-width="0.9"/>
<line x1="410.2" y1="529.3" x2="410.2" y2="629.8" stroke="#231f20" stroke-width="0.8"/>
<line x1="410.2" y1="629.8" x2="519.5" y2="629.8" stroke="#231f20" stroke-width="0.8"/>
<line x1="408.4" y1="533.5" x2="410.2" y2="533.5" stroke="#231f20" stroke-width="0.5"/>
<text x="407.40" y="535.50" font-size="5.6" text-anchor="end" fill="#333">1.00</text>
<line x1="408.4" y1="556.7" x2="410.2" y2="556.7" stroke="#231f20" stroke-width="0.5"/>
<text x="407.40" y="558.70" font-size="5.6" text-anchor="end" fill="#333">0.75</text>
<line x1="408.4" y1="579.6" x2="410.2" y2="579.6" stroke="#231f20" stroke-width="0.5"/>
<text x="407.40" y="581.60" font-size="5.6" text-anchor="end" fill="#333">0.50</text>
<line x1="408.4" y1="602.9" x2="410.2" y2="602.9" stroke="#231f20" stroke-width="0.5"/>
<text x="407.40" y="604.90" font-size="5.6" text-anchor="end" fill="#333">0.25</text>
<line x1="408.4" y1="626.3" x2="410.2" y2="626.3" stroke="#231f20" stroke-width="0.5"/>
<text x="407.40" y="628.30" font-size="5.6" text-anchor="end" fill="#333">0.00</text>
<line x1="414.4" y1="629.8" x2="414.4" y2="631.5999999999999" stroke="#231f20" stroke-width="0.5"/>
<text x="414.40" y="636.80" font-size="5.7" text-anchor="middle" fill="#333">0</text>
<line x1="439.6" y1="629.8" x2="439.6" y2="631.5999999999999" stroke="#231f20" stroke-width="0.5"/>
<text x="439.60" y="636.80" font-size="5.7" text-anchor="middle" fill="#333">300</text>
<line x1="465.3" y1="629.8" x2="465.3" y2="631.5999999999999" stroke="#231f20" stroke-width="0.5"/>
<text x="465.30" y="636.80" font-size="5.7" text-anchor="middle" fill="#333">600</text>
<line x1="490.3" y1="629.8" x2="490.3" y2="631.5999999999999" stroke="#231f20" stroke-width="0.5"/>
<text x="490.30" y="636.80" font-size="5.7" text-anchor="middle" fill="#333">900</text>
<line x1="515.5" y1="629.8" x2="515.5" y2="631.5999999999999" stroke="#231f20" stroke-width="0.5"/>
<text x="515.50" y="636.80" font-size="5.7" text-anchor="middle" fill="#333">1200</text>
<text x="466.20" y="643.80" font-size="7.6" text-anchor="middle" fill="#231f20">Days</text>
<text transform="translate(387.8,580.1) rotate(-90) scale(0.95,1)" font-size="10.2" text-anchor="middle" fill="#231f20">Progression-free Survival</text>
<text x="416.30" y="522.70" font-size="9.8" fill="#231f20">Ravi cohort, NSCLC</text>
<g transform="translate(370,520) scale(0.233590282644242)"><path d="M193,58 L200,58 L200,65 L207,65 L207,100 L212,100 L212,130 L218,130 L218,165 L225,165 L225,178 L235,178 L235,190 L250,190 L250,205 L262,205 L262,222 L275,222 L275,235 L290,235 L290,250 L300,250 L300,262 L315,262 L315,272 L330,272 L330,285 L345,285 L345,298 L370,298 L370,310 L385,310 L385,322 L405,322 L405,335 L420,335 L420,352 L430,352 L430,370 L465,370 L465,385 L612,385" fill="none" stroke="#2664a6" stroke-width="4.28" stroke-linejoin="miter"/>
<path d="M207,130 L219,130 M213,124 L213,136" stroke="#2664a6" stroke-width="3.42"/>
<path d="M234,190 L246,190 M240,184 L240,196" stroke="#2664a6" stroke-width="3.42"/>
<path d="M264,230 L276,230 M270,224 L270,236" stroke="#2664a6" stroke-width="3.42"/>
<path d="M294,250 L306,250 M300,244 L300,256" stroke="#2664a6" stroke-width="3.42"/>
<path d="M314,272 L326,272 M320,266 L320,278" stroke="#2664a6" stroke-width="3.42"/>
<path d="M334,290 L346,290 M340,284 L340,296" stroke="#2664a6" stroke-width="3.42"/>
<path d="M346,298 L358,298 M352,292 L352,304" stroke="#2664a6" stroke-width="3.42"/>
<path d="M356,298 L368,298 M362,292 L362,304" stroke="#2664a6" stroke-width="3.42"/>
<path d="M366,310 L378,310 M372,304 L372,316" stroke="#2664a6" stroke-width="3.42"/>
<path d="M399,335 L411,335 M405,329 L405,341" stroke="#2664a6" stroke-width="3.42"/>
<path d="M406,335 L418,335 M412,329 L412,341" stroke="#2664a6" stroke-width="3.42"/>
<path d="M519,385 L531,385 M525,379 L525,391" stroke="#2664a6" stroke-width="3.42"/>
<path d="M534,385 L546,385 M540,379 L540,391" stroke="#2664a6" stroke-width="3.42"/>
<path d="M559,385 L571,385 M565,379 L565,391" stroke="#2664a6" stroke-width="3.42"/>
<path d="M604,385 L616,385 M610,379 L610,391" stroke="#2664a6" stroke-width="3.42"/>
</g>
<g transform="translate(370,520) scale(0.233590282644242)"><path d="M193,58 L200,58 L200,75 L206,75 L206,100 L212,100 L212,150 L218,150 L218,190 L224,190 L224,230 L235,230 L235,255 L245,255 L245,300 L255,300 L255,330 L280,330 L280,345 L298,345 L298,380 L365,380 L365,395 L400,395 L400,408 L520,408 L520,420 L550,420 L550,425" fill="none" stroke="#e8312f" stroke-width="4.28" stroke-linejoin="miter"/>
<path d="M197,75 L209,75 M203,69 L203,81" stroke="#e8312f" stroke-width="3.42"/>
<path d="M272,340 L284,340 M278,334 L278,346" stroke="#e8312f" stroke-width="3.42"/>
<path d="M279,345 L291,345 M285,339 L285,351" stroke="#e8312f" stroke-width="3.42"/>
<path d="M359,380 L371,380 M365,374 L365,386" stroke="#e8312f" stroke-width="3.42"/>
<path d="M404,405 L416,405 M410,399 L410,411" stroke="#e8312f" stroke-width="3.42"/>
<path d="M509,408 L521,408 M515,402 L515,414" stroke="#e8312f" stroke-width="3.42"/>
<path d="M539,425 L551,425 M545,419 L545,431" stroke="#e8312f" stroke-width="3.42"/>
</g>
<line x1="429.2" y1="538.2" x2="435.7" y2="538.2" stroke="#2664a6" stroke-width="0.9"/>
<line x1="432.45" y1="536.4" x2="432.45" y2="540.0" stroke="#2664a6" stroke-width="0.9"/>
<text x="438.20" y="540.60" font-size="7.4" fill="#231f20">CD4_IL7R high (n=62)</text>
<line x1="429.2" y1="547.5" x2="435.7" y2="547.5" stroke="#e8312f" stroke-width="0.9"/>
<line x1="432.45" y1="545.6999999999999" x2="432.45" y2="549.3" stroke="#e8312f" stroke-width="0.9"/>
<text x="438.20" y="549.90" font-size="7.4" fill="#231f20">CD4_IL7R low (n=60)</text>
<text x="431.90" y="564.40" font-size="7.4" fill="#231f20">HR: 0.57, 95%CI (0.38-0.87)</text>
<text x="463.4" y="578.9" font-size="7.4" fill="#231f20"><tspan font-style="italic">P</tspan> = 0.0078</text>
<line x1="559.4" y1="529.5" x2="559.4" y2="630.4" stroke="#231f20" stroke-width="0.8"/>
<line x1="559.4" y1="630.4" x2="669.9" y2="630.4" stroke="#231f20" stroke-width="0.8"/>
<line x1="557.6" y1="533.6" x2="559.4" y2="533.6" stroke="#231f20" stroke-width="0.5"/>
<text x="556.60" y="535.60" font-size="5.6" text-anchor="end" fill="#333">1.00</text>
<line x1="557.6" y1="556.7" x2="559.4" y2="556.7" stroke="#231f20" stroke-width="0.5"/>
<text x="556.60" y="558.70" font-size="5.6" text-anchor="end" fill="#333">0.75</text>
<line x1="557.6" y1="579.7" x2="559.4" y2="579.7" stroke="#231f20" stroke-width="0.5"/>
<text x="556.60" y="581.70" font-size="5.6" text-anchor="end" fill="#333">0.50</text>
<line x1="557.6" y1="602.8" x2="559.4" y2="602.8" stroke="#231f20" stroke-width="0.5"/>
<text x="556.60" y="604.80" font-size="5.6" text-anchor="end" fill="#333">0.25</text>
<line x1="557.6" y1="625.9" x2="559.4" y2="625.9" stroke="#231f20" stroke-width="0.5"/>
<text x="556.60" y="627.90" font-size="5.6" text-anchor="end" fill="#333">0.00</text>
<line x1="564.4" y1="630.4" x2="564.4" y2="632.1999999999999" stroke="#231f20" stroke-width="0.5"/>
<text x="564.40" y="636.80" font-size="5.7" text-anchor="middle" fill="#333">0</text>
<line x1="597.8" y1="630.4" x2="597.8" y2="632.1999999999999" stroke="#231f20" stroke-width="0.5"/>
<text x="597.80" y="636.80" font-size="5.7" text-anchor="middle" fill="#333">200</text>
<line x1="631.2" y1="630.4" x2="631.2" y2="632.1999999999999" stroke="#231f20" stroke-width="0.5"/>
<text x="631.20" y="636.80" font-size="5.7" text-anchor="middle" fill="#333">400</text>
<line x1="664.6" y1="630.4" x2="664.6" y2="632.1999999999999" stroke="#231f20" stroke-width="0.5"/>
<text x="664.60" y="636.80" font-size="5.7" text-anchor="middle" fill="#333">600</text>
<text x="616.50" y="643.80" font-size="7.6" text-anchor="middle" fill="#231f20">Days</text>
<text transform="translate(540.6,580.6) rotate(-90) scale(0.95,1)" font-size="10.2" text-anchor="middle" fill="#231f20">Progression-free Survival</text>
<text x="580.50" y="522.40" font-size="9.8" fill="#231f20">Kim cohort, NSCLC</text>
<g transform="translate(530,520) scale(0.22629554197782306)"><path d="M155,60 L162,60 L162,80 L170,80 L170,100 L175,100 L175,120 L180,120 L180,150 L185,150 L185,200 L190,200 L190,222 L200,222 L200,245 L210,245 L210,268 L215,268 L215,285 L222,285 L222,305 L275,305 L275,325 L282,325 L282,347 L615,347" fill="none" stroke="#2664a6" stroke-width="4.42" stroke-linejoin="miter"/>
<path d="M299,347 L311,347 M305,341 L305,353" stroke="#2664a6" stroke-width="3.54"/>
<path d="M332,347 L344,347 M338,341 L338,353" stroke="#2664a6" stroke-width="3.54"/>
<path d="M354,347 L366,347 M360,341 L360,353" stroke="#2664a6" stroke-width="3.54"/>
<path d="M387,347 L399,347 M393,341 L393,353" stroke="#2664a6" stroke-width="3.54"/>
<path d="M451,347 L463,347 M457,341 L457,353" stroke="#2664a6" stroke-width="3.54"/>
<path d="M606,347 L618,347 M612,341 L612,353" stroke="#2664a6" stroke-width="3.54"/>
</g>
<g transform="translate(530,520) scale(0.22629554197782306)"><path d="M155,60 L155,118 L170,118 L170,130 L175,130 L175,175 L178,175 L178,235 L185,235 L185,350 L195,350 L195,410 L345,410 L345,468" fill="none" stroke="#e8312f" stroke-width="4.42" stroke-linejoin="miter"/>
</g>
<line x1="587.8" y1="539.6" x2="594.3" y2="539.6" stroke="#2664a6" stroke-width="0.9"/>
<line x1="591.05" y1="537.8" x2="591.05" y2="541.4" stroke="#2664a6" stroke-width="0.9"/>
<text x="596.80" y="542.00" font-size="7.4" fill="#231f20">CD4_IL7R high (n=20)</text>
<line x1="587.8" y1="547.7" x2="594.3" y2="547.7" stroke="#e8312f" stroke-width="0.9"/>
<line x1="591.05" y1="545.9" x2="591.05" y2="549.5" stroke="#e8312f" stroke-width="0.9"/>
<text x="596.80" y="550.10" font-size="7.4" fill="#231f20">CD4_IL7R low (n=7)</text>
<text x="580.90" y="564.10" font-size="7.4" fill="#231f20">HR: 0.42, 95%CI (0.17-1.10)</text>
<text x="639.8" y="576.1" font-size="7.4" fill="#231f20"><tspan font-style="italic">P</tspan> = 0.057</text>
<text x="524.70" y="673.60" font-size="10.9" font-weight="bold" text-anchor="middle" fill="#231f20">CD8_ZNF683</text>
<line x1="390" y1="681.6" x2="675" y2="681.6" stroke="#8a8a8a" stroke-width="0.9"/>
<line x1="411.6" y1="702.3" x2="411.6" y2="803.9" stroke="#231f20" stroke-width="0.8"/>
<line x1="411.6" y1="803.9" x2="524.2" y2="803.9" stroke="#231f20" stroke-width="0.8"/>
<line x1="409.8" y1="707" x2="411.6" y2="707" stroke="#231f20" stroke-width="0.5"/>
<text x="408.80" y="709.00" font-size="5.6" text-anchor="end" fill="#333">1.00</text>
<line x1="409.8" y1="729.9" x2="411.6" y2="729.9" stroke="#231f20" stroke-width="0.5"/>
<text x="408.80" y="731.90" font-size="5.6" text-anchor="end" fill="#333">0.75</text>
<line x1="409.8" y1="753.3" x2="411.6" y2="753.3" stroke="#231f20" stroke-width="0.5"/>
<text x="408.80" y="755.30" font-size="5.6" text-anchor="end" fill="#333">0.50</text>
<line x1="409.8" y1="776.4" x2="411.6" y2="776.4" stroke="#231f20" stroke-width="0.5"/>
<text x="408.80" y="778.40" font-size="5.6" text-anchor="end" fill="#333">0.25</text>
<line x1="409.8" y1="799.7" x2="411.6" y2="799.7" stroke="#231f20" stroke-width="0.5"/>
<text x="408.80" y="801.70" font-size="5.6" text-anchor="end" fill="#333">0.00</text>
<line x1="416.3" y1="803.9" x2="416.3" y2="805.6999999999999" stroke="#231f20" stroke-width="0.5"/>
<text x="416.30" y="810.30" font-size="5.7" text-anchor="middle" fill="#333">0</text>
<line x1="441.9" y1="803.9" x2="441.9" y2="805.6999999999999" stroke="#231f20" stroke-width="0.5"/>
<text x="441.90" y="810.30" font-size="5.7" text-anchor="middle" fill="#333">300</text>
<line x1="467.6" y1="803.9" x2="467.6" y2="805.6999999999999" stroke="#231f20" stroke-width="0.5"/>
<text x="467.60" y="810.30" font-size="5.7" text-anchor="middle" fill="#333">600</text>
<line x1="493.1" y1="803.9" x2="493.1" y2="805.6999999999999" stroke="#231f20" stroke-width="0.5"/>
<text x="493.10" y="810.30" font-size="5.7" text-anchor="middle" fill="#333">900</text>
<line x1="519.5" y1="803.9" x2="519.5" y2="805.6999999999999" stroke="#231f20" stroke-width="0.5"/>
<text x="519.50" y="810.30" font-size="5.7" text-anchor="middle" fill="#333">1200</text>
<text x="468.10" y="817.30" font-size="7.6" text-anchor="middle" fill="#231f20">Days</text>
<text transform="translate(390.5,753.7) rotate(-90) scale(0.95,1)" font-size="10.2" text-anchor="middle" fill="#231f20">Progression-free Survival</text>
<text x="416.20" y="697.00" font-size="9.8" fill="#231f20">Ravi cohort, NSCLC</text>
<g transform="translate(370,700) scale(0.233590282644242)"><path d="M198,35 L205,35 L205,42 L212,42 L212,58 L218,58 L218,82 L222,82 L222,100 L228,100 L228,122 L235,122 L235,142 L240,142 L240,162 L245,162 L245,178 L265,178 L265,195 L270,195 L270,215 L290,215 L290,240 L298,240 L298,262 L305,262 L305,275 L310,275 L310,290 L380,290 L385,290 L385,318 L480,318 L480,352 L580,352" fill="none" stroke="#2664a6" stroke-width="4.28" stroke-linejoin="miter"/>
<path d="M199,40 L211,40 M205,34 L205,46" stroke="#2664a6" stroke-width="3.42"/>
<path d="M222,120 L234,120 M228,114 L228,126" stroke="#2664a6" stroke-width="3.42"/>
<path d="M252,178 L264,178 M258,172 L258,184" stroke="#2664a6" stroke-width="3.42"/>
<path d="M294,262 L306,262 M300,256 L300,268" stroke="#2664a6" stroke-width="3.42"/>
<path d="M332,290 L344,290 M338,284 L338,296" stroke="#2664a6" stroke-width="3.42"/>
<path d="M349,290 L361,290 M355,284 L355,296" stroke="#2664a6" stroke-width="3.42"/>
<path d="M369,290 L381,290 M375,284 L375,296" stroke="#2664a6" stroke-width="3.42"/>
<path d="M409,318 L421,318 M415,312 L415,324" stroke="#2664a6" stroke-width="3.42"/>
<path d="M529,352 L541,352 M535,346 L535,358" stroke="#2664a6" stroke-width="3.42"/>
<path d="M572,352 L584,352 M578,346 L578,358" stroke="#2664a6" stroke-width="3.42"/>
</g>
<g transform="translate(370,700) scale(0.233590282644242)"><path d="M198,30 L205,30 L205,45 L210,45 L210,70 L215,70 L215,110 L220,110 L220,150 L228,150 L228,180 L240,180 L240,200 L250,200 L250,225 L260,225 L260,250 L270,250 L270,265 L290,265 L290,272 L300,272 L300,282 L310,282 L310,295 L330,295 L330,305 L350,305 L350,315 L380,315 L380,325 L400,325 L400,340 L420,340 L420,350 L430,350 L430,375 L520,375 L520,380 L540,380 L540,382 L625,382" fill="none" stroke="#e8312f" stroke-width="4.28" stroke-linejoin="miter"/>
<path d="M256,262 L268,262 M262,256 L262,268" stroke="#e8312f" stroke-width="3.42"/>
<path d="M274,268 L286,268 M280,262 L280,274" stroke="#e8312f" stroke-width="3.42"/>
<path d="M339,312 L351,312 M345,306 L345,318" stroke="#e8312f" stroke-width="3.42"/>
<path d="M366,322 L378,322 M372,316 L372,328" stroke="#e8312f" stroke-width="3.42"/>
<path d="M406,345 L418,345 M412,339 L412,351" stroke="#e8312f" stroke-width="3.42"/>
<path d="M414,348 L426,348 M420,342 L420,354" stroke="#e8312f" stroke-width="3.42"/>
<path d="M522,375 L534,375 M528,369 L528,381" stroke="#e8312f" stroke-width="3.42"/>
<path d="M550,382 L562,382 M556,376 L556,388" stroke="#e8312f" stroke-width="3.42"/>
<path d="M556,382 L568,382 M562,376 L562,388" stroke="#e8312f" stroke-width="3.42"/>
<path d="M616,382 L628,382 M622,376 L622,388" stroke="#e8312f" stroke-width="3.42"/>
</g>
<line x1="433.4" y1="718.2" x2="439.9" y2="718.2" stroke="#2664a6" stroke-width="0.9"/>
<line x1="436.65" y1="716.4" x2="436.65" y2="720.0" stroke="#2664a6" stroke-width="0.9"/>
<text x="442.40" y="720.60" font-size="7.4" fill="#231f20">CD8_ZNF683 high (n=33)</text>
<line x1="433.4" y1="727.3000000000001" x2="439.9" y2="727.3000000000001" stroke="#e8312f" stroke-width="0.9"/>
<line x1="436.65" y1="725.5" x2="436.65" y2="729.1" stroke="#e8312f" stroke-width="0.9"/>
<text x="442.40" y="729.70" font-size="7.4" fill="#231f20">CD8_ZNF683 low (n=89)</text>
<text x="435.40" y="743.90" font-size="7.4" fill="#231f20">HR: 0.77, 95%CI (0.47-1.24)</text>
<text x="491.9" y="755.6" font-size="7.4" fill="#231f20"><tspan font-style="italic">P</tspan> = 0.28</text>
<line x1="559.7" y1="704" x2="559.7" y2="805.2" stroke="#231f20" stroke-width="0.8"/>
<line x1="559.7" y1="805.2" x2="669.3" y2="805.2" stroke="#231f20" stroke-width="0.8"/>
<line x1="557.9000000000001" y1="708.4" x2="559.7" y2="708.4" stroke="#231f20" stroke-width="0.5"/>
<text x="556.90" y="710.40" font-size="5.6" text-anchor="end" fill="#333">1.00</text>
<line x1="557.9000000000001" y1="731.3" x2="559.7" y2="731.3" stroke="#231f20" stroke-width="0.5"/>
<text x="556.90" y="733.30" font-size="5.6" text-anchor="end" fill="#333">0.75</text>
<line x1="557.9000000000001" y1="754.2" x2="559.7" y2="754.2" stroke="#231f20" stroke-width="0.5"/>
<text x="556.90" y="756.20" font-size="5.6" text-anchor="end" fill="#333">0.50</text>
<line x1="557.9000000000001" y1="777.5" x2="559.7" y2="777.5" stroke="#231f20" stroke-width="0.5"/>
<text x="556.90" y="779.50" font-size="5.6" text-anchor="end" fill="#333">0.25</text>
<line x1="557.9000000000001" y1="800.4" x2="559.7" y2="800.4" stroke="#231f20" stroke-width="0.5"/>
<text x="556.90" y="802.40" font-size="5.6" text-anchor="end" fill="#333">0.00</text>
<line x1="564.6" y1="805.2" x2="564.6" y2="807.0" stroke="#231f20" stroke-width="0.5"/>
<text x="564.60" y="810.50" font-size="5.7" text-anchor="middle" fill="#333">0</text>
<line x1="597.6" y1="805.2" x2="597.6" y2="807.0" stroke="#231f20" stroke-width="0.5"/>
<text x="597.60" y="810.50" font-size="5.7" text-anchor="middle" fill="#333">200</text>
<line x1="631.3" y1="805.2" x2="631.3" y2="807.0" stroke="#231f20" stroke-width="0.5"/>
<text x="631.30" y="810.50" font-size="5.7" text-anchor="middle" fill="#333">400</text>
<line x1="663.8" y1="805.2" x2="663.8" y2="807.0" stroke="#231f20" stroke-width="0.5"/>
<text x="663.80" y="810.50" font-size="5.7" text-anchor="middle" fill="#333">600</text>
<text x="618.70" y="819.20" font-size="7.6" text-anchor="middle" fill="#231f20">Days</text>
<text transform="translate(541.0,755.2) rotate(-90) scale(0.95,1)" font-size="10.2" text-anchor="middle" fill="#231f20">Progression-free Survival</text>
<text x="562.90" y="696.40" font-size="9.8" fill="#231f20">Kim cohort, NSCLC</text>
<g transform="translate(520,680) scale(0.24084778420038536)"><path d="M185,118 L235,118 L235,172 L300,172 L300,228 L615,228" fill="none" stroke="#2664a6" stroke-width="4.15" stroke-linejoin="miter"/>
<path d="M319,228 L331,228 M325,222 L325,234" stroke="#2664a6" stroke-width="3.32"/>
<path d="M374,228 L386,228 M380,222 L380,234" stroke="#2664a6" stroke-width="3.32"/>
<path d="M404,228 L416,228 M410,222 L410,234" stroke="#2664a6" stroke-width="3.32"/>
<path d="M464,228 L476,228 M470,222 L470,234" stroke="#2664a6" stroke-width="3.32"/>
<path d="M606,228 L618,228 M612,222 L612,234" stroke="#2664a6" stroke-width="3.32"/>
</g>
<g transform="translate(520,680) scale(0.24084778420038536)"><path d="M185,118 L190,118 L190,130 L195,130 L195,155 L200,155 L200,185 L205,185 L205,235 L212,235 L212,320 L218,320 L218,365 L225,365 L225,385 L232,385 L232,405 L242,405 L242,425 L250,425 L250,440 L305,440 L305,462 L360,462 L360,500" fill="none" stroke="#e8312f" stroke-width="4.15" stroke-linejoin="miter"/>
<path d="M352,462 L364,462 M358,456 L358,468" stroke="#e8312f" stroke-width="3.32"/>
</g>
<line x1="594.1" y1="707.7" x2="600.6" y2="707.7" stroke="#2664a6" stroke-width="0.9"/>
<line x1="597.35" y1="705.9" x2="597.35" y2="709.5" stroke="#2664a6" stroke-width="0.9"/>
<text x="603.10" y="710.10" font-size="7.4" fill="#231f20">CD8_ZNF683 high (n=7)</text>
<line x1="594.1" y1="716.1" x2="600.6" y2="716.1" stroke="#e8312f" stroke-width="0.9"/>
<line x1="597.35" y1="714.3" x2="597.35" y2="717.9" stroke="#e8312f" stroke-width="0.9"/>
<text x="603.10" y="718.50" font-size="7.4" fill="#231f20">CD8_ZNF683 low (n=20)</text>
<text x="588.60" y="770.30" font-size="7.4" fill="#231f20">HR: 0.11, 95%CI (0.03-0.50)</text>
<text x="625.5" y="781.9" font-size="7.4" fill="#231f20"><tspan font-style="italic">P</tspan> = 0.00073</text>
</svg></body></html>
